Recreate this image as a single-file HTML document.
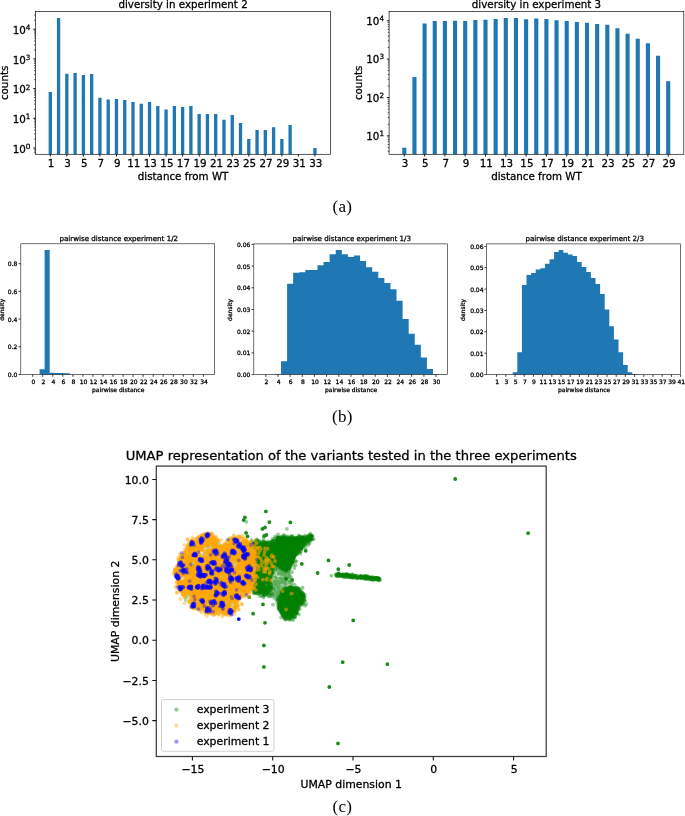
<!DOCTYPE html>
<html lang="en"><head><meta charset="utf-8"><title>Figure</title>
<style>html,body{margin:0;padding:0;background:#fff}svg{display:block}</style></head>
<body>
<svg width="685" height="816" viewBox="0 0 685 816" font-family='"DejaVu Sans","Liberation Sans",sans-serif' fill="#000">
<style>text{stroke:#000;stroke-width:.28px;stroke-linejoin:round}text.sm{stroke-width:.2px}</style>
<rect width="685" height="816" fill="#fff"/>
<path d="M48.65 154.3V92.1h3.3V154.3zM56.92 154.3V18.0h3.3V154.3zM65.19 154.3V73.8h3.3V154.3zM73.46 154.3V73.0h3.3V154.3zM81.73 154.3V74.9h3.3V154.3zM90.00 154.3V74.0h3.3V154.3zM98.27 154.3V97.8h3.3V154.3zM106.54 154.3V99.5h3.3V154.3zM114.81 154.3V98.9h3.3V154.3zM123.08 154.3V100.1h3.3V154.3zM131.35 154.3V102.1h3.3V154.3zM139.62 154.3V103.7h3.3V154.3zM147.89 154.3V102.1h3.3V154.3zM156.16 154.3V106.0h3.3V154.3zM164.43 154.3V109.4h3.3V154.3zM172.70 154.3V106.0h3.3V154.3zM180.97 154.3V107.0h3.3V154.3zM189.24 154.3V106.0h3.3V154.3zM197.51 154.3V114.0h3.3V154.3zM205.78 154.3V114.0h3.3V154.3zM214.05 154.3V114.0h3.3V154.3zM222.32 154.3V119.7h3.3V154.3zM230.59 154.3V114.9h3.3V154.3zM238.86 154.3V122.9h3.3V154.3zM247.13 154.3V139.1h3.3V154.3zM255.40 154.3V130.1h3.3V154.3zM263.67 154.3V130.1h3.3V154.3zM271.94 154.3V127.2h3.3V154.3zM280.21 154.3V139.1h3.3V154.3zM288.48 154.3V124.9h3.3V154.3zM313.29 154.3V148.0h3.3V154.3z" fill="#1f77b4"/>
<rect x="35.5" y="11.4" width="295.1" height="142.9" fill="none" stroke="#111" stroke-width="0.7"/>
<path d="M50.3 154.3v2.2M66.8 154.3v2.2M83.4 154.3v2.2M99.9 154.3v2.2M116.5 154.3v2.2M133 154.3v2.2M149.5 154.3v2.2M166.1 154.3v2.2M182.6 154.3v2.2M199.2 154.3v2.2M215.7 154.3v2.2M232.2 154.3v2.2M248.8 154.3v2.2M265.3 154.3v2.2M281.9 154.3v2.2M298.4 154.3v2.2M314.9 154.3v2.2" stroke="#111" stroke-width="1.0" fill="none"/>
<path d="M35.5 148h-2.2M35.5 118.3h-2.2M35.5 88.6h-2.2M35.5 58.9h-2.2M35.5 29.2h-2.2" stroke="#111" stroke-width="1.0" fill="none"/>
<path d="M35.5 152.6h-1.3M35.5 150.9h-1.3M35.5 149.4h-1.3M35.5 139.1h-1.3M35.5 133.8h-1.3M35.5 130.1h-1.3M35.5 127.2h-1.3M35.5 124.9h-1.3M35.5 122.9h-1.3M35.5 121.2h-1.3M35.5 119.7h-1.3M35.5 109.4h-1.3M35.5 104.1h-1.3M35.5 100.4h-1.3M35.5 97.5h-1.3M35.5 95.2h-1.3M35.5 93.2h-1.3M35.5 91.5h-1.3M35.5 90h-1.3M35.5 79.7h-1.3M35.5 74.4h-1.3M35.5 70.7h-1.3M35.5 67.8h-1.3M35.5 65.5h-1.3M35.5 63.5h-1.3M35.5 61.8h-1.3M35.5 60.3h-1.3M35.5 50h-1.3M35.5 44.7h-1.3M35.5 41h-1.3M35.5 38.1h-1.3M35.5 35.8h-1.3M35.5 33.8h-1.3M35.5 32.1h-1.3M35.5 30.6h-1.3M35.5 20.3h-1.3M35.5 15h-1.3" stroke="#111" stroke-width="0.8" fill="none"/>
<text x="51.1" y="167" font-size="10.3" text-anchor="middle">1</text>
<text x="67.6" y="167" font-size="10.3" text-anchor="middle">3</text>
<text x="84.2" y="167" font-size="10.3" text-anchor="middle">5</text>
<text x="100.7" y="167" font-size="10.3" text-anchor="middle">7</text>
<text x="117.3" y="167" font-size="10.3" text-anchor="middle">9</text>
<text x="133.8" y="167" font-size="10.3" text-anchor="middle">11</text>
<text x="150.3" y="167" font-size="10.3" text-anchor="middle">13</text>
<text x="166.9" y="167" font-size="10.3" text-anchor="middle">15</text>
<text x="183.4" y="167" font-size="10.3" text-anchor="middle">17</text>
<text x="200" y="167" font-size="10.3" text-anchor="middle">19</text>
<text x="216.5" y="167" font-size="10.3" text-anchor="middle">21</text>
<text x="233" y="167" font-size="10.3" text-anchor="middle">23</text>
<text x="249.6" y="167" font-size="10.3" text-anchor="middle">25</text>
<text x="266.1" y="167" font-size="10.3" text-anchor="middle">27</text>
<text x="282.7" y="167" font-size="10.3" text-anchor="middle">29</text>
<text x="299.2" y="167" font-size="10.3" text-anchor="middle">31</text>
<text x="315.7" y="167" font-size="10.3" text-anchor="middle">33</text>
<text x="30.4" y="152.6" font-size="10.3" text-anchor="end">10<tspan font-size="7.21" dy="-3.7">0</tspan></text>
<text x="30.4" y="122.9" font-size="10.3" text-anchor="end">10<tspan font-size="7.21" dy="-3.7">1</tspan></text>
<text x="30.4" y="93.2" font-size="10.3" text-anchor="end">10<tspan font-size="7.21" dy="-3.7">2</tspan></text>
<text x="30.4" y="63.5" font-size="10.3" text-anchor="end">10<tspan font-size="7.21" dy="-3.7">3</tspan></text>
<text x="30.4" y="33.8" font-size="10.3" text-anchor="end">10<tspan font-size="7.21" dy="-3.7">4</tspan></text>
<text x="183.1" y="7.7" font-size="10.3" text-anchor="middle">diversity in experiment 2</text>
<text x="183.1" y="180" font-size="10.3" text-anchor="middle">distance from WT</text>
<text transform="translate(8.1 82.9) rotate(-90)" font-size="10.3" text-anchor="middle">counts</text>
<path d="M402.25 154.3V147.8h4.1V154.3zM412.40 154.3V77.1h4.1V154.3zM422.55 154.3V23.6h4.1V154.3zM432.70 154.3V21.1h4.1V154.3zM442.85 154.3V21.1h4.1V154.3zM453.00 154.3V20.7h4.1V154.3zM463.15 154.3V21.1h4.1V154.3zM473.30 154.3V20.0h4.1V154.3zM483.45 154.3V19.8h4.1V154.3zM493.60 154.3V19.0h4.1V154.3zM503.75 154.3V17.9h4.1V154.3zM513.90 154.3V18.1h4.1V154.3zM524.05 154.3V19.2h4.1V154.3zM534.20 154.3V18.6h4.1V154.3zM544.35 154.3V19.0h4.1V154.3zM554.50 154.3V20.2h4.1V154.3zM564.65 154.3V20.9h4.1V154.3zM574.80 154.3V21.9h4.1V154.3zM584.95 154.3V22.8h4.1V154.3zM595.10 154.3V23.9h4.1V154.3zM605.25 154.3V24.7h4.1V154.3zM615.40 154.3V28.3h4.1V154.3zM625.55 154.3V33.8h4.1V154.3zM635.70 154.3V38.7h4.1V154.3zM645.85 154.3V43.3h4.1V154.3zM656.00 154.3V55.8h4.1V154.3zM666.15 154.3V81.3h4.1V154.3z" fill="#1f77b4"/>
<rect x="389.1" y="11.4" width="294.7" height="142.9" fill="none" stroke="#111" stroke-width="0.7"/>
<path d="M404.3 154.3v2.2M424.6 154.3v2.2M444.9 154.3v2.2M465.2 154.3v2.2M485.5 154.3v2.2M505.8 154.3v2.2M526.1 154.3v2.2M546.4 154.3v2.2M566.7 154.3v2.2M587 154.3v2.2M607.3 154.3v2.2M627.6 154.3v2.2M647.9 154.3v2.2M668.2 154.3v2.2" stroke="#111" stroke-width="1.0" fill="none"/>
<path d="M389.1 20.8h-2.2M389.1 59.1h-2.2M389.1 97.5h-2.2M389.1 135.9h-2.2" stroke="#111" stroke-width="1.0" fill="none"/>
<path d="M389.1 151.2h-1.3M389.1 147.5h-1.3M389.1 144.5h-1.3M389.1 141.9h-1.3M389.1 139.7h-1.3M389.1 137.7h-1.3M389.1 124.4h-1.3M389.1 117.6h-1.3M389.1 112.8h-1.3M389.1 109.1h-1.3M389.1 106.1h-1.3M389.1 103.5h-1.3M389.1 101.3h-1.3M389.1 99.3h-1.3M389.1 86h-1.3M389.1 79.2h-1.3M389.1 74.4h-1.3M389.1 70.7h-1.3M389.1 67.7h-1.3M389.1 65.1h-1.3M389.1 62.9h-1.3M389.1 60.9h-1.3M389.1 47.6h-1.3M389.1 40.8h-1.3M389.1 36h-1.3M389.1 32.3h-1.3M389.1 29.3h-1.3M389.1 26.7h-1.3M389.1 24.5h-1.3M389.1 22.5h-1.3" stroke="#111" stroke-width="0.8" fill="none"/>
<text x="405.1" y="167" font-size="10.3" text-anchor="middle">3</text>
<text x="425.4" y="167" font-size="10.3" text-anchor="middle">5</text>
<text x="445.7" y="167" font-size="10.3" text-anchor="middle">7</text>
<text x="466" y="167" font-size="10.3" text-anchor="middle">9</text>
<text x="486.3" y="167" font-size="10.3" text-anchor="middle">11</text>
<text x="506.6" y="167" font-size="10.3" text-anchor="middle">13</text>
<text x="526.9" y="167" font-size="10.3" text-anchor="middle">15</text>
<text x="547.2" y="167" font-size="10.3" text-anchor="middle">17</text>
<text x="567.5" y="167" font-size="10.3" text-anchor="middle">19</text>
<text x="587.8" y="167" font-size="10.3" text-anchor="middle">21</text>
<text x="608.1" y="167" font-size="10.3" text-anchor="middle">23</text>
<text x="628.4" y="167" font-size="10.3" text-anchor="middle">25</text>
<text x="648.7" y="167" font-size="10.3" text-anchor="middle">27</text>
<text x="669" y="167" font-size="10.3" text-anchor="middle">29</text>
<text x="384.0" y="24.8" font-size="10.3" text-anchor="end">10<tspan font-size="7.21" dy="-3.7">4</tspan></text>
<text x="384.0" y="63.1" font-size="10.3" text-anchor="end">10<tspan font-size="7.21" dy="-3.7">3</tspan></text>
<text x="384.0" y="101.5" font-size="10.3" text-anchor="end">10<tspan font-size="7.21" dy="-3.7">2</tspan></text>
<text x="384.0" y="139.9" font-size="10.3" text-anchor="end">10<tspan font-size="7.21" dy="-3.7">1</tspan></text>
<text x="536.5" y="7.7" font-size="10.3" text-anchor="middle">diversity in experiment 3</text>
<text x="536.5" y="180" font-size="10.3" text-anchor="middle">distance from WT</text>
<text transform="translate(362.0 82.9) rotate(-90)" font-size="10.3" text-anchor="middle">counts</text>
<text x="342.4" y="211.6" font-size="17" letter-spacing="0.3" text-anchor="middle" stroke="none" style="stroke:none" font-family='"Liberation Serif","DejaVu Serif",serif'>(a)</text>
<text x="342.4" y="422.3" font-size="17" letter-spacing="0.3" text-anchor="middle" stroke="none" style="stroke:none" font-family='"Liberation Serif","DejaVu Serif",serif'>(b)</text>
<text x="342.4" y="811.5" font-size="17" letter-spacing="0.3" text-anchor="middle" stroke="none" style="stroke:none" font-family='"Liberation Serif","DejaVu Serif",serif'>(c)</text>
<path d="M39.60 374.5v-5.3H44.67V374.5zM44.62 374.5v-124.4H49.69V374.5zM49.64 374.5v-1.7H54.71V374.5zM54.66 374.5v-1.6H59.73V374.5zM59.68 374.5v-1.4H64.75V374.5zM64.70 374.5v-1.2H69.77V374.5z" fill="#1f77b4"/>
<rect x="20.8" y="243.8" width="193.9" height="130.7" fill="none" stroke="#111" stroke-width="0.6"/>
<path d="M32.7 374.5v2.3M42.7 374.5v2.3M52.8 374.5v2.3M62.8 374.5v2.3M72.9 374.5v2.3M82.9 374.5v2.3M92.9 374.5v2.3M103 374.5v2.3M113 374.5v2.3M123.1 374.5v2.3M133.1 374.5v2.3M143.1 374.5v2.3M153.2 374.5v2.3M163.2 374.5v2.3M173.3 374.5v2.3M183.3 374.5v2.3M193.3 374.5v2.3M203.4 374.5v2.3" stroke="#111" stroke-width="0.8" fill="none"/>
<path d="M20.8 374.5h-2.3M20.8 346.8h-2.3M20.8 319.1h-2.3M20.8 291.4h-2.3M20.8 263.7h-2.3" stroke="#111" stroke-width="0.8" fill="none"/>
<text x="33.3" y="383.7" font-size="6.0" text-anchor="middle">0</text>
<text x="43.3" y="383.7" font-size="6.0" text-anchor="middle">2</text>
<text x="53.4" y="383.7" font-size="6.0" text-anchor="middle">4</text>
<text x="63.4" y="383.7" font-size="6.0" text-anchor="middle">6</text>
<text x="73.5" y="383.7" font-size="6.0" text-anchor="middle">8</text>
<text x="83.5" y="383.7" font-size="6.0" text-anchor="middle">10</text>
<text x="93.5" y="383.7" font-size="6.0" text-anchor="middle">12</text>
<text x="103.6" y="383.7" font-size="6.0" text-anchor="middle">14</text>
<text x="113.6" y="383.7" font-size="6.0" text-anchor="middle">16</text>
<text x="123.7" y="383.7" font-size="6.0" text-anchor="middle">18</text>
<text x="133.7" y="383.7" font-size="6.0" text-anchor="middle">20</text>
<text x="143.7" y="383.7" font-size="6.0" text-anchor="middle">22</text>
<text x="153.8" y="383.7" font-size="6.0" text-anchor="middle">24</text>
<text x="163.8" y="383.7" font-size="6.0" text-anchor="middle">26</text>
<text x="173.9" y="383.7" font-size="6.0" text-anchor="middle">28</text>
<text x="183.9" y="383.7" font-size="6.0" text-anchor="middle">30</text>
<text x="193.9" y="383.7" font-size="6.0" text-anchor="middle">32</text>
<text x="204" y="383.7" font-size="6.0" text-anchor="middle">34</text>
<text x="17.4" y="377" font-size="6.0" text-anchor="end">0.0</text>
<text x="17.4" y="349.3" font-size="6.0" text-anchor="end">0.2</text>
<text x="17.4" y="321.6" font-size="6.0" text-anchor="end">0.4</text>
<text x="17.4" y="293.9" font-size="6.0" text-anchor="end">0.6</text>
<text x="17.4" y="266.2" font-size="6.0" text-anchor="end">0.8</text>
<text x="118.8" y="241.3" font-size="7.1" text-anchor="middle">pairwise distance experiment 1/2</text>
<text x="118.2" y="391.5" font-size="6.0" text-anchor="middle">pairwise distance</text>
<text transform="translate(4.2 309.8) rotate(-90)" font-size="6.0" text-anchor="middle">density</text>
<path d="M274.92 374.6V374.0H281.00V361.2H287.08V283.7H293.16V272.7H299.24V272.3H305.32V270.0H311.40V270.0H317.48V265.2H323.56V262.1H329.64V254.2H335.72V250.1H341.80V254.2H347.88V256.9H353.96V255.6H360.04V261.1H366.12V267.2H372.20V271.7H378.28V277.9H384.36V283.0H390.44V289.2H396.52V300.8H402.60V319.0H408.68V333.8H414.76V344.8H420.84V357.4H426.92V369.1H433.00V374.0H439.08V374.6z" fill="#1f77b4"/>
<rect x="253.8" y="243.9" width="193.5" height="130.7" fill="none" stroke="#111" stroke-width="0.6"/>
<path d="M265.8 374.6v2.3M278 374.6v2.3M290.1 374.6v2.3M302.3 374.6v2.3M314.4 374.6v2.3M326.6 374.6v2.3M338.8 374.6v2.3M350.9 374.6v2.3M363.1 374.6v2.3M375.2 374.6v2.3M387.4 374.6v2.3M399.6 374.6v2.3M411.7 374.6v2.3M423.9 374.6v2.3M436 374.6v2.3" stroke="#111" stroke-width="0.8" fill="none"/>
<path d="M253.8 374.6h-2.3M253.8 352.9h-2.3M253.8 331.2h-2.3M253.8 309.5h-2.3M253.8 287.8h-2.3M253.8 266.1h-2.3M253.8 244.4h-2.3" stroke="#111" stroke-width="0.8" fill="none"/>
<text x="266.4" y="383.7" font-size="6.0" text-anchor="middle">2</text>
<text x="278.6" y="383.7" font-size="6.0" text-anchor="middle">4</text>
<text x="290.7" y="383.7" font-size="6.0" text-anchor="middle">6</text>
<text x="302.9" y="383.7" font-size="6.0" text-anchor="middle">8</text>
<text x="315" y="383.7" font-size="6.0" text-anchor="middle">10</text>
<text x="327.2" y="383.7" font-size="6.0" text-anchor="middle">12</text>
<text x="339.4" y="383.7" font-size="6.0" text-anchor="middle">14</text>
<text x="351.5" y="383.7" font-size="6.0" text-anchor="middle">16</text>
<text x="363.7" y="383.7" font-size="6.0" text-anchor="middle">18</text>
<text x="375.8" y="383.7" font-size="6.0" text-anchor="middle">20</text>
<text x="388" y="383.7" font-size="6.0" text-anchor="middle">22</text>
<text x="400.2" y="383.7" font-size="6.0" text-anchor="middle">24</text>
<text x="412.3" y="383.7" font-size="6.0" text-anchor="middle">26</text>
<text x="424.5" y="383.7" font-size="6.0" text-anchor="middle">28</text>
<text x="436.6" y="383.7" font-size="6.0" text-anchor="middle">30</text>
<text x="250.4" y="377.1" font-size="6.0" text-anchor="end">0.00</text>
<text x="250.4" y="355.4" font-size="6.0" text-anchor="end">0.01</text>
<text x="250.4" y="333.7" font-size="6.0" text-anchor="end">0.02</text>
<text x="250.4" y="312" font-size="6.0" text-anchor="end">0.03</text>
<text x="250.4" y="290.3" font-size="6.0" text-anchor="end">0.04</text>
<text x="250.4" y="268.6" font-size="6.0" text-anchor="end">0.05</text>
<text x="250.4" y="246.9" font-size="6.0" text-anchor="end">0.06</text>
<text x="351.7" y="241.3" font-size="7.1" text-anchor="middle">pairwise distance experiment 1/3</text>
<text x="351.1" y="391.5" font-size="6.0" text-anchor="middle">pairwise distance</text>
<text transform="translate(232.2 309.9) rotate(-90)" font-size="6.0" text-anchor="middle">density</text>
<path d="M512.70 374.6V372.2H517.30V352.3H521.90V285.1H526.50V275.1H531.10V273.1H535.70V269.6H540.30V268.3H544.90V263.8H549.50V259.3H554.10V252.1H558.70V250.1H563.30V252.8H567.90V254.6H572.50V255.9H577.10V262.1H581.70V266.9H586.30V272.0H590.90V277.9H595.50V284.0H600.10V294.0H604.70V309.4H609.30V326.2H613.90V339.6H618.50V352.3H623.10V364.9H627.70V372.2H632.30V374.0H636.90V374.3H641.50V374.6z" fill="#1f77b4"/>
<rect x="486.6" y="243.9" width="194.0" height="130.7" fill="none" stroke="#111" stroke-width="0.6"/>
<path d="M496.6 374.6v2.3M505.8 374.6v2.3M515 374.6v2.3M524.2 374.6v2.3M533.4 374.6v2.3M542.6 374.6v2.3M551.8 374.6v2.3M561 374.6v2.3M570.2 374.6v2.3M579.4 374.6v2.3M588.6 374.6v2.3M597.8 374.6v2.3M607 374.6v2.3M616.2 374.6v2.3M625.4 374.6v2.3M634.6 374.6v2.3M643.8 374.6v2.3M653 374.6v2.3M662.2 374.6v2.3M671.4 374.6v2.3M680.6 374.6v2.3" stroke="#111" stroke-width="0.8" fill="none"/>
<path d="M486.6 374.6h-2.3M486.6 353.2h-2.3M486.6 331.8h-2.3M486.6 310.5h-2.3M486.6 289.1h-2.3M486.6 267.7h-2.3M486.6 246.3h-2.3" stroke="#111" stroke-width="0.8" fill="none"/>
<text x="497.2" y="383.7" font-size="6.0" text-anchor="middle">1</text>
<text x="506.4" y="383.7" font-size="6.0" text-anchor="middle">3</text>
<text x="515.6" y="383.7" font-size="6.0" text-anchor="middle">5</text>
<text x="524.8" y="383.7" font-size="6.0" text-anchor="middle">7</text>
<text x="534" y="383.7" font-size="6.0" text-anchor="middle">9</text>
<text x="543.2" y="383.7" font-size="6.0" text-anchor="middle">11</text>
<text x="552.4" y="383.7" font-size="6.0" text-anchor="middle">13</text>
<text x="561.6" y="383.7" font-size="6.0" text-anchor="middle">15</text>
<text x="570.8" y="383.7" font-size="6.0" text-anchor="middle">17</text>
<text x="580" y="383.7" font-size="6.0" text-anchor="middle">19</text>
<text x="589.2" y="383.7" font-size="6.0" text-anchor="middle">21</text>
<text x="598.4" y="383.7" font-size="6.0" text-anchor="middle">23</text>
<text x="607.6" y="383.7" font-size="6.0" text-anchor="middle">25</text>
<text x="616.8" y="383.7" font-size="6.0" text-anchor="middle">27</text>
<text x="626" y="383.7" font-size="6.0" text-anchor="middle">29</text>
<text x="635.2" y="383.7" font-size="6.0" text-anchor="middle">31</text>
<text x="644.4" y="383.7" font-size="6.0" text-anchor="middle">33</text>
<text x="653.6" y="383.7" font-size="6.0" text-anchor="middle">35</text>
<text x="662.8" y="383.7" font-size="6.0" text-anchor="middle">37</text>
<text x="672" y="383.7" font-size="6.0" text-anchor="middle">39</text>
<text x="681.2" y="383.7" font-size="6.0" text-anchor="middle">41</text>
<text x="483.5" y="377.1" font-size="6.0" text-anchor="end">0.00</text>
<text x="483.5" y="355.7" font-size="6.0" text-anchor="end">0.01</text>
<text x="483.5" y="334.3" font-size="6.0" text-anchor="end">0.02</text>
<text x="483.5" y="313" font-size="6.0" text-anchor="end">0.03</text>
<text x="483.5" y="291.6" font-size="6.0" text-anchor="end">0.04</text>
<text x="483.5" y="270.2" font-size="6.0" text-anchor="end">0.05</text>
<text x="483.5" y="248.8" font-size="6.0" text-anchor="end">0.06</text>
<text x="584.7" y="241.3" font-size="7.1" text-anchor="middle">pairwise distance experiment 2/3</text>
<text x="584.1" y="391.5" font-size="6.0" text-anchor="middle">pairwise distance</text>
<text transform="translate(465.2 309.9) rotate(-90)" font-size="6.0" text-anchor="middle">density</text>
<path d="M250.3 567.5h0M267.2 543.8h0M265.2 556.6h0M251.3 565.0h0M247.4 570.7h0M261.8 581.3h0M257.9 585.2h0M247.3 556.5h0M253.7 553.7h0M272.8 589.1h0M261.1 557.2h0M262.6 550.0h0M280.9 539.8h0M266.1 544.4h0M260.0 575.7h0M260.0 568.5h0M267.7 565.8h0M261.1 588.4h0M258.4 567.1h0M259.9 557.3h0M264.7 560.2h0M252.2 574.6h0M250.2 569.5h0M261.2 591.0h0M259.1 584.1h0M257.4 566.0h0M265.8 575.4h0M288.8 564.3h0M257.2 589.1h0M260.8 581.0h0M255.4 568.9h0M257.6 546.7h0M270.3 573.0h0M255.2 543.8h0M268.2 551.0h0M270.1 555.6h0M270.1 551.2h0M250.0 574.2h0M256.9 544.2h0M250.8 578.5h0M249.8 571.3h0M255.7 545.8h0M257.3 577.0h0M254.1 573.2h0M247.4 549.4h0M285.0 547.8h0M290.3 562.1h0M267.4 546.6h0M281.4 555.4h0M273.1 557.4h0M270.7 571.0h0M278.9 561.8h0M274.0 545.6h0M264.8 592.0h0M261.1 581.1h0M248.1 559.6h0M264.9 567.8h0M278.5 549.7h0M254.1 555.0h0M260.1 569.2h0M264.8 581.9h0M277.4 543.3h0M262.9 585.3h0M254.7 593.1h0M250.9 566.3h0M264.6 567.0h0M252.9 570.1h0M280.9 568.6h0M260.0 580.6h0M255.0 588.8h0M269.8 549.5h0M251.2 571.8h0M250.0 557.2h0M250.6 560.0h0M272.2 556.9h0M259.1 571.5h0M274.3 562.6h0M256.8 551.1h0M250.0 574.8h0M288.4 555.9h0M287.6 550.3h0M273.4 557.2h0M257.2 545.0h0M286.3 541.5h0M273.6 545.3h0M266.2 568.4h0M257.3 561.4h0M246.2 556.6h0M251.7 560.8h0M263.9 578.4h0M249.2 570.5h0M266.3 577.6h0M269.3 544.2h0M280.1 562.8h0M268.0 591.1h0M254.2 587.7h0M263.8 562.3h0M274.0 548.8h0M272.2 541.5h0M285.0 546.3h0M263.4 564.5h0M253.3 585.9h0M254.9 557.5h0M247.4 553.1h0M251.0 545.3h0M259.4 578.0h0M260.5 543.9h0M290.2 547.9h0M248.4 579.7h0M263.7 579.3h0M255.0 590.7h0M267.7 568.8h0M255.6 576.3h0M251.2 559.5h0M287.1 552.6h0M275.3 559.1h0M268.9 567.4h0M268.1 568.4h0M256.2 572.2h0M251.3 573.9h0M258.8 545.4h0M257.2 548.6h0M285.8 552.9h0M275.3 558.0h0M264.2 556.3h0M288.3 544.1h0M266.9 574.3h0M286.2 549.2h0M282.7 541.5h0M292.4 551.2h0M271.1 544.3h0M263.5 567.7h0M252.9 560.5h0M258.2 560.1h0M277.8 543.8h0M267.8 551.0h0M254.9 579.2h0M278.9 557.4h0M257.5 543.1h0M263.6 575.8h0M256.3 581.0h0M268.7 550.1h0M265.0 548.5h0M263.6 564.7h0M287.2 539.4h0M250.1 571.9h0M277.8 565.9h0M257.5 558.1h0M254.5 565.7h0M267.8 592.8h0M259.7 568.1h0M288.7 552.2h0M251.9 561.1h0M265.6 578.5h0M258.6 567.6h0M285.0 557.6h0M252.6 578.5h0M267.4 592.8h0M269.9 582.4h0M268.1 564.3h0M289.3 554.4h0M261.4 582.7h0M274.7 558.8h0M257.4 587.6h0M268.1 545.4h0M267.2 556.9h0M280.7 543.0h0M278.0 553.6h0M261.5 546.4h0M283.8 556.8h0M274.7 565.5h0M259.4 572.5h0M254.6 575.2h0M273.5 553.9h0M265.2 546.9h0M267.3 591.0h0M257.9 561.6h0M267.5 591.3h0M291.4 553.3h0M271.4 587.6h0M262.3 580.7h0M250.4 567.1h0M271.8 553.4h0M258.3 586.8h0M265.1 553.0h0M265.7 553.9h0M250.1 566.1h0M260.0 557.9h0M273.1 548.9h0M269.7 572.7h0M257.6 559.1h0M279.0 564.5h0M252.4 556.6h0M288.3 563.7h0M249.9 567.2h0M269.2 575.3h0M263.6 584.1h0M255.3 550.1h0M252.6 584.8h0M266.8 565.4h0M250.2 574.7h0M248.6 554.3h0M270.4 548.9h0M279.9 552.5h0M271.6 572.8h0M281.2 565.7h0M261.5 552.0h0M289.8 562.2h0M277.5 557.0h0M260.4 555.7h0M284.2 540.6h0M262.7 551.6h0M279.4 541.4h0M268.1 552.3h0M277.9 549.5h0M276.4 558.4h0M265.3 562.7h0M268.6 556.9h0M254.0 584.6h0M283.6 544.1h0M260.5 586.4h0M290.2 548.4h0M277.5 553.0h0M266.3 576.8h0M259.9 576.3h0M259.6 585.6h0M284.6 546.2h0M285.6 563.1h0M282.1 551.2h0M260.1 584.7h0M252.6 554.7h0M261.6 588.9h0M259.0 582.5h0M268.8 565.6h0M255.7 590.9h0M249.7 569.7h0M269.3 570.1h0M253.8 547.5h0M256.6 591.6h0M281.2 562.7h0M258.0 554.7h0M252.3 577.9h0M285.7 549.9h0M267.5 551.7h0M259.7 564.6h0M250.3 580.2h0M269.1 594.2h0M255.0 555.9h0M283.3 548.2h0M265.5 574.3h0M248.0 563.6h0M276.2 547.5h0M285.2 546.1h0M263.5 581.3h0M290.2 553.2h0M255.3 563.6h0M250.5 560.8h0M248.5 568.5h0M276.5 557.4h0M281.8 544.2h0M289.9 539.7h0M287.2 560.0h0M252.3 555.1h0M256.3 554.5h0M281.0 568.7h0M260.0 583.8h0M263.7 569.3h0M267.9 568.5h0M263.8 572.2h0M275.0 557.4h0M267.3 580.1h0M263.9 585.2h0M265.9 580.4h0M269.9 551.7h0M256.0 582.9h0M267.2 589.9h0M261.6 550.7h0M284.3 541.8h0M276.0 544.7h0M284.7 560.4h0M290.1 548.9h0M288.5 557.8h0M294.9 551.8h0M303.6 539.3h0M297.9 550.1h0M285.9 547.0h0M291.0 549.9h0M286.2 569.1h0M302.4 542.4h0M296.7 538.3h0M279.9 550.1h0M285.6 564.4h0M291.5 537.9h0M303.5 540.7h0M300.7 541.4h0M301.0 538.1h0M291.5 561.0h0M288.7 554.2h0M289.0 548.4h0M288.1 548.4h0M290.4 542.3h0M286.3 549.1h0M293.2 553.6h0M285.8 549.1h0M300.5 543.4h0M282.3 563.9h0M288.1 550.5h0M303.1 545.2h0M302.1 542.4h0M300.3 544.4h0M299.7 545.6h0M289.1 538.2h0M288.6 545.6h0M282.5 540.7h0M296.5 552.6h0M297.8 539.5h0M305.7 538.9h0M286.9 546.0h0M300.2 538.0h0M309.1 540.9h0M288.0 544.4h0M294.3 556.6h0M278.2 543.2h0M293.3 541.4h0M302.3 541.3h0M278.4 554.0h0M289.3 545.6h0M277.0 541.8h0M300.8 543.3h0M300.9 541.7h0M283.2 536.0h0M291.3 540.4h0M281.0 559.3h0M293.5 552.3h0M283.4 556.7h0M287.6 543.5h0M287.2 554.0h0M295.5 547.7h0M294.7 553.6h0M284.2 560.7h0M292.1 542.4h0M289.6 539.6h0M294.8 552.3h0M296.5 551.1h0M286.9 540.2h0M283.5 554.2h0M279.7 556.7h0M279.1 555.9h0M284.3 553.7h0M291.7 537.7h0M293.9 555.6h0M305.0 539.3h0M290.9 558.1h0M287.8 547.6h0M291.9 562.2h0M300.4 544.7h0M285.3 562.1h0M284.9 544.5h0M293.8 552.4h0M285.5 543.2h0M307.3 538.1h0M291.3 552.3h0M296.4 538.5h0M285.2 537.8h0M289.1 562.0h0M305.7 536.7h0M292.9 557.4h0M282.0 557.5h0M283.2 551.1h0M298.3 552.6h0M296.9 550.7h0M293.3 552.7h0M280.0 554.5h0M287.4 560.5h0M277.4 555.5h0M285.6 557.1h0M282.3 559.2h0M292.3 538.4h0M286.4 542.3h0M290.8 552.3h0M297.0 554.4h0M278.8 539.2h0M310.6 539.8h0M283.7 561.0h0M291.1 550.4h0M289.8 562.0h0M280.3 543.7h0M298.6 539.0h0M278.3 538.9h0M288.4 543.2h0M290.1 538.4h0M296.9 547.8h0M291.3 544.5h0M288.2 545.7h0M280.5 542.0h0M279.1 549.3h0M299.6 546.7h0M303.6 542.4h0M288.4 559.3h0M287.3 617.9h0M278.5 606.8h0M292.7 597.9h0M293.8 588.7h0M286.3 605.6h0M292.3 590.1h0M281.7 605.3h0M292.1 607.1h0M290.2 606.3h0M286.0 608.3h0M282.5 601.7h0M293.6 599.0h0M298.0 605.7h0M298.8 596.4h0M287.4 609.7h0M294.3 600.8h0M283.8 591.2h0M292.7 606.3h0M291.3 610.1h0M289.3 603.8h0M289.2 613.6h0M297.5 603.9h0M285.9 590.9h0M285.0 605.8h0M290.1 606.8h0M282.0 593.3h0M295.0 607.9h0M283.0 607.6h0M299.0 602.3h0M286.9 608.0h0M299.4 599.2h0M302.0 598.3h0M287.7 604.7h0M285.6 593.6h0M283.8 603.6h0M297.8 605.5h0M282.8 607.3h0M286.7 607.4h0M301.1 600.3h0M289.2 591.8h0M289.4 601.4h0M289.5 614.3h0M286.2 598.2h0M285.2 614.8h0M290.4 605.3h0M292.3 593.9h0M294.0 590.2h0M280.0 608.1h0M286.7 601.0h0M285.4 592.1h0M297.0 613.1h0M294.7 609.1h0M299.4 589.5h0M290.1 597.1h0M289.3 603.2h0M299.2 603.5h0M299.7 601.1h0M292.6 612.0h0M292.7 613.1h0M289.8 600.7h0M288.4 599.3h0M297.6 587.7h0M289.4 610.0h0M297.7 607.4h0M294.6 601.6h0M296.3 589.1h0M291.2 589.5h0M285.8 600.6h0M285.2 608.6h0M290.0 599.6h0M290.1 593.4h0M293.6 609.9h0M283.4 605.6h0M291.5 607.7h0M285.5 616.3h0M297.4 598.2h0M286.1 592.2h0M292.3 596.3h0M291.0 598.7h0M281.2 610.7h0M302.8 597.8h0M291.3 590.4h0M294.0 617.7h0M284.2 606.2h0M282.4 608.1h0M296.9 595.3h0M298.4 596.6h0M295.6 602.5h0M291.3 600.1h0M283.0 609.8h0M290.2 599.3h0M288.7 614.3h0M299.9 601.1h0M283.7 605.0h0M288.9 589.6h0M291.3 589.2h0M286.8 609.9h0M287.2 595.1h0M288.4 600.4h0M288.0 598.9h0M294.7 608.5h0M286.0 593.9h0M292.0 598.6h0M300.6 589.8h0M293.0 600.6h0M284.1 607.4h0M290.3 615.0h0M294.4 602.9h0M293.7 598.4h0M289.2 616.8h0M288.9 613.8h0M294.5 605.1h0M287.3 600.6h0M303.1 603.7h0M287.4 607.2h0M282.2 602.5h0M292.2 615.6h0M299.5 595.4h0M297.7 605.4h0M291.4 613.7h0M286.6 604.1h0M283.9 599.6h0M290.7 594.0h0M279.5 608.5h0M291.2 596.6h0M280.9 607.8h0M297.0 605.0h0M290.7 601.7h0M288.9 612.4h0M283.5 597.4h0M287.2 614.2h0M294.4 609.7h0M299.3 603.9h0M284.1 594.1h0M287.6 603.6h0M293.4 608.7h0M291.8 612.8h0M296.1 590.8h0M284.7 603.1h0M293.6 607.4h0M285.9 600.4h0M290.2 590.5h0M291.2 598.0h0M285.2 610.5h0M287.0 600.1h0M285.0 604.4h0M301.8 603.1h0M297.0 602.7h0M292.0 596.1h0M284.4 599.3h0M291.1 607.3h0M298.8 597.0h0M287.7 596.1h0M288.2 589.3h0M288.0 612.6h0M289.8 600.0h0M286.4 608.2h0M281.0 605.1h0M297.5 593.2h0M296.9 600.9h0M293.6 607.3h0M299.1 592.7h0M369.4 578.2h0M378.1 578.9h0M350.7 575.6h0M361.1 576.2h0M376.2 578.9h0M361.4 577.1h0M345.4 574.4h0M356.7 577.2h0M359.4 577.5h0M359.3 576.5h0M378.2 579.9h0M344.9 574.6h0M349.2 575.4h0M361.6 577.0h0M376.9 579.5h0M343.5 573.8h0M352.3 576.4h0M369.3 578.3h0M367.1 577.6h0M378.3 580.0h0M378.8 578.7h0M344.1 575.8h0M348.0 575.7h0M362.9 577.2h0M365.3 576.6h0M337.6 574.1h0M379.6 578.8h0M335.9 574.6h0M344.7 576.9h0M362.1 576.5h0M360.2 577.3h0M362.8 577.8h0M366.2 576.3h0M366.4 578.2h0M366.3 576.6h0M373.1 577.2h0M342.4 575.0h0" stroke="#008000" stroke-opacity="0.4" stroke-width="3.8" stroke-linecap="round" fill="none"/>
<path d="M264.4 542.9h0M257.1 555.4h0M253.2 586.2h0M258.7 578.4h0M268.4 591.2h0M284.1 563.3h0M277.6 558.2h0M264.5 578.9h0M278.0 561.4h0M258.6 578.4h0M287.7 555.6h0M252.3 550.6h0M280.4 545.3h0M249.6 569.3h0M287.4 556.1h0M257.8 589.3h0M255.8 589.6h0M251.3 565.5h0M287.2 551.9h0M247.8 559.7h0M250.3 555.8h0M274.4 545.8h0M260.0 592.1h0M281.2 543.6h0M255.4 557.9h0M256.8 547.1h0M291.0 549.2h0M258.1 582.1h0M281.3 565.3h0M281.6 566.7h0M263.9 544.6h0M266.7 561.8h0M247.1 561.7h0M251.8 579.6h0M270.5 547.9h0M287.9 569.8h0M252.3 570.9h0M257.9 546.5h0M253.4 577.8h0M286.6 543.2h0M256.5 545.5h0M260.4 580.7h0M262.5 541.8h0M264.4 581.1h0M258.4 541.0h0M289.2 560.4h0M273.1 551.1h0M269.6 578.3h0M257.9 560.0h0M259.1 582.5h0M267.8 562.8h0M276.5 556.6h0M267.1 549.1h0M264.3 580.2h0M258.2 564.7h0M269.1 559.7h0M248.7 558.0h0M253.8 550.2h0M259.5 553.4h0M290.0 559.6h0M267.1 591.7h0M285.6 560.8h0M268.4 576.7h0M253.5 573.7h0M268.3 571.6h0M287.3 567.4h0M253.2 550.5h0M261.9 543.7h0M282.7 548.1h0M286.2 561.9h0M269.6 573.0h0M258.7 559.7h0M281.6 543.1h0M264.8 549.0h0M252.0 543.7h0M286.7 562.5h0M267.5 559.3h0M262.3 568.8h0M274.2 557.7h0M273.2 560.6h0M287.8 558.9h0M270.3 554.3h0M262.3 544.0h0M257.8 552.7h0M271.4 571.6h0M262.3 584.4h0M249.9 558.3h0M257.7 589.9h0M264.7 593.9h0M278.7 543.8h0M271.8 560.3h0M268.8 565.6h0M257.5 569.6h0M262.3 573.1h0M257.4 541.1h0M267.4 543.8h0M254.3 555.0h0M257.8 591.4h0M264.3 591.9h0M271.0 573.3h0M262.0 568.2h0M259.7 587.2h0M256.1 592.4h0M282.9 552.1h0M247.2 564.6h0M264.3 580.4h0M251.3 546.7h0M270.8 558.9h0M265.9 580.0h0M280.0 549.7h0M283.7 568.3h0M257.8 552.9h0M284.7 552.9h0M256.8 550.5h0M287.9 561.3h0M258.6 566.3h0M277.5 542.9h0M253.0 544.3h0M267.9 571.9h0M245.9 558.8h0M261.3 550.7h0M269.5 586.5h0M260.7 583.7h0M251.4 554.8h0M254.1 549.4h0M272.4 553.1h0M290.7 552.2h0M271.6 556.9h0M279.6 555.2h0M259.3 551.4h0M258.3 564.1h0M259.5 590.0h0M261.6 566.2h0M282.1 546.6h0M255.0 583.2h0M257.1 566.0h0M252.7 561.6h0M254.9 588.7h0M270.5 544.6h0M264.7 552.7h0M255.9 571.9h0M280.1 559.5h0M251.7 561.0h0M257.6 563.1h0M256.6 546.7h0M258.8 577.6h0M252.1 549.1h0M270.2 583.1h0M248.6 574.3h0M265.0 572.6h0M285.7 569.2h0M253.3 588.5h0M283.2 545.7h0M256.5 554.2h0M250.9 544.5h0M272.8 562.5h0M287.7 539.8h0M259.6 584.9h0M254.5 559.6h0M256.7 569.1h0M252.1 563.1h0M266.4 594.1h0M270.1 575.9h0M280.3 561.1h0M268.4 551.2h0M278.1 548.6h0M255.4 576.6h0M261.8 561.2h0M251.8 570.5h0M256.5 570.2h0M286.4 551.7h0M268.2 551.3h0M280.7 541.6h0M278.0 563.7h0M278.3 557.5h0M253.8 554.3h0M270.8 548.8h0M270.6 566.9h0M249.8 552.6h0M263.4 583.6h0M246.7 551.0h0M254.1 580.8h0M256.8 558.1h0M263.4 575.9h0M270.3 564.4h0M273.3 567.7h0M277.7 562.5h0M277.3 540.9h0M288.1 560.2h0M255.2 581.4h0M265.2 552.9h0M261.9 550.9h0M262.2 583.3h0M286.4 569.6h0M276.5 547.2h0M282.8 541.2h0M281.5 564.7h0M280.9 552.4h0M266.6 566.6h0M251.2 565.4h0M282.5 546.6h0M259.7 568.9h0M254.7 577.7h0M247.7 566.2h0M250.4 561.5h0M257.3 560.0h0M286.8 557.6h0M271.4 545.2h0M253.9 562.9h0M290.6 546.1h0M268.1 550.5h0M263.0 550.5h0M276.2 565.5h0M264.6 579.6h0M257.5 581.9h0M266.7 546.5h0M281.4 564.6h0M268.4 583.2h0M247.0 547.8h0M270.8 587.2h0M283.5 556.0h0M281.0 543.8h0M256.1 577.8h0M281.1 539.1h0M280.2 562.5h0M249.4 570.8h0M256.2 562.5h0M259.3 585.9h0M248.5 549.1h0M262.8 543.3h0M254.0 543.3h0M254.4 555.6h0M274.8 555.8h0M284.2 555.6h0M264.9 550.2h0M249.4 581.9h0M261.2 583.3h0M259.8 564.7h0M283.9 538.4h0M258.5 569.4h0M250.7 563.6h0M247.8 565.6h0M264.8 555.1h0M272.5 551.8h0M283.5 552.7h0M290.6 547.8h0M271.2 547.8h0M280.3 545.6h0M285.4 541.2h0M285.2 544.2h0M278.8 547.7h0M282.0 561.4h0M291.4 541.4h0M288.3 558.7h0M282.3 537.9h0M285.8 546.7h0M291.6 544.8h0M310.4 533.7h0M309.7 539.6h0M280.3 539.2h0M284.5 554.2h0M288.6 567.2h0M287.5 556.9h0M290.5 559.3h0M286.6 554.4h0M295.5 552.6h0M276.0 549.5h0M283.2 552.9h0M301.3 541.4h0M296.2 544.3h0M284.3 554.1h0M305.2 540.2h0M293.8 539.9h0M289.3 540.8h0M296.2 541.9h0M290.8 558.2h0M301.5 549.2h0M287.8 570.0h0M291.5 556.4h0M284.0 568.2h0M293.0 553.9h0M285.0 565.4h0M295.0 547.2h0M284.3 550.7h0M286.7 549.8h0M288.7 565.0h0M290.7 545.0h0M290.6 544.0h0M278.3 553.7h0M283.4 549.4h0M283.6 536.8h0M283.6 548.0h0M281.8 558.9h0M290.7 545.4h0M289.6 563.4h0M282.4 550.3h0M290.1 543.2h0M292.8 540.7h0M297.5 538.6h0M287.6 551.3h0M280.6 551.4h0M293.2 538.7h0M293.8 554.4h0M279.9 555.8h0M285.0 547.0h0M280.2 566.6h0M285.4 567.6h0M295.3 541.5h0M290.0 558.2h0M280.8 543.9h0M279.1 553.1h0M300.6 542.3h0M289.8 555.1h0M288.0 543.2h0M280.9 539.7h0M305.9 540.7h0M280.6 561.1h0M281.1 546.9h0M281.9 547.5h0M297.8 540.0h0M288.3 562.2h0M292.2 545.2h0M289.3 546.9h0M279.0 552.0h0M290.8 558.7h0M282.1 554.4h0M291.6 550.4h0M295.1 539.2h0M297.9 544.0h0M282.3 538.6h0M294.4 541.8h0M283.2 556.9h0M295.2 541.5h0M292.4 552.8h0M290.0 567.0h0M292.4 558.6h0M292.7 555.7h0M289.2 548.3h0M286.0 548.5h0M282.4 541.0h0M286.3 545.2h0M296.5 545.2h0M297.7 549.0h0M287.4 541.7h0M287.5 543.2h0M286.1 554.8h0M289.8 566.0h0M284.0 556.1h0M289.2 557.8h0M286.0 553.1h0M282.7 543.0h0M294.7 556.0h0M298.9 544.0h0M299.3 538.3h0M277.6 539.4h0M295.7 540.9h0M301.8 545.3h0M287.9 538.5h0M285.4 552.3h0M280.7 546.8h0M292.2 560.1h0M286.3 538.6h0M285.9 553.5h0M281.9 556.9h0M291.3 546.3h0M292.3 549.8h0M296.7 544.4h0M291.0 545.1h0M278.7 552.4h0M279.1 551.0h0M292.1 538.9h0M282.2 553.2h0M294.8 542.5h0M288.6 556.5h0M295.5 547.2h0M292.0 541.1h0M298.3 538.1h0M283.0 551.5h0M299.0 551.1h0M303.3 537.4h0M293.0 562.5h0M292.3 540.9h0M278.6 543.5h0M289.6 556.7h0M282.6 562.7h0M284.8 557.7h0M284.3 555.2h0M284.5 539.9h0M285.7 559.9h0M285.2 539.7h0M294.7 600.2h0M292.7 603.3h0M293.6 596.4h0M293.0 595.0h0M294.8 596.0h0M289.5 613.7h0M298.2 603.0h0M291.4 607.8h0M293.4 592.5h0M283.1 615.6h0M296.4 605.4h0M287.4 592.2h0M284.0 613.1h0M291.0 607.0h0M287.2 601.5h0M285.7 589.7h0M286.0 598.8h0M287.7 600.4h0M287.4 591.2h0M284.5 612.4h0M283.4 610.4h0M296.2 612.4h0M285.1 612.1h0M303.8 594.6h0M283.6 616.1h0M289.9 611.3h0M293.0 605.3h0M293.0 610.0h0M291.6 587.5h0M301.8 593.3h0M279.9 604.1h0M279.1 609.7h0M292.8 600.1h0M284.1 604.7h0M280.4 599.8h0M293.7 609.2h0M299.7 603.5h0M294.3 603.4h0M282.0 604.2h0M304.7 600.0h0M299.0 594.9h0M294.8 602.2h0M290.7 604.3h0M293.3 614.0h0M293.4 600.7h0M297.3 595.4h0M303.1 598.7h0M281.7 592.8h0M290.5 596.0h0M294.8 591.3h0M287.4 603.6h0M302.6 601.5h0M294.0 591.6h0M299.7 608.9h0M283.6 590.0h0M288.7 615.6h0M293.7 612.8h0M282.4 605.4h0M296.0 596.7h0M294.3 605.0h0M290.7 606.4h0M294.1 615.8h0M291.7 593.9h0M293.6 615.0h0M290.9 610.1h0M284.6 602.3h0M290.4 608.1h0M296.7 606.7h0M283.7 600.2h0M288.8 588.6h0M282.2 612.0h0M289.9 599.9h0M283.7 602.9h0M284.4 601.2h0M282.9 605.8h0M280.8 596.2h0M288.2 602.4h0M304.7 598.1h0M294.6 598.8h0M296.7 602.1h0M293.4 606.8h0M299.5 594.1h0M287.1 606.9h0M293.0 604.8h0M289.2 602.1h0M285.0 596.2h0M292.6 603.9h0M297.5 602.5h0M285.4 599.3h0M283.3 598.3h0M287.1 609.3h0M286.2 613.8h0M281.3 592.0h0M293.9 611.6h0M284.7 593.6h0M298.3 595.3h0M297.7 600.4h0M297.5 606.5h0M284.0 605.8h0M281.9 597.7h0M292.6 608.5h0M294.3 607.0h0M282.2 607.3h0M286.6 595.7h0M293.0 597.9h0M286.0 604.9h0M285.9 592.3h0M303.4 599.9h0M295.4 590.1h0M283.1 597.1h0M301.4 601.3h0M281.1 597.3h0M290.0 610.7h0M284.1 605.0h0M292.6 602.2h0M288.6 596.4h0M296.7 607.6h0M280.5 606.4h0M285.0 611.5h0M287.8 600.8h0M288.7 597.2h0M294.4 613.2h0M297.0 593.8h0M292.3 605.0h0M292.0 592.2h0M281.7 594.8h0M289.5 607.6h0M292.3 613.5h0M287.8 606.6h0M296.5 602.0h0M286.9 608.8h0M292.9 607.9h0M286.2 600.2h0M286.2 605.4h0M285.3 609.4h0M296.4 613.4h0M285.3 595.5h0M289.1 593.8h0M282.4 596.6h0M291.8 595.7h0M292.1 606.5h0M285.4 588.9h0M285.9 599.2h0M290.5 611.4h0M294.0 599.7h0M291.5 607.9h0M285.4 601.8h0M289.2 604.0h0M298.2 596.9h0M285.0 614.5h0M294.5 600.3h0M281.1 607.8h0M296.2 598.5h0M290.2 598.5h0M297.8 603.0h0M291.0 604.9h0M293.1 616.6h0M289.3 616.1h0M283.6 617.5h0M292.4 601.9h0M296.1 600.0h0M289.7 593.8h0M302.1 594.0h0M293.6 591.7h0M290.1 607.5h0M287.3 599.7h0M295.7 613.8h0M295.1 616.5h0M284.0 592.0h0M288.5 612.0h0M294.8 611.1h0M286.8 595.5h0M303.2 598.8h0M293.1 611.3h0M293.4 600.7h0M292.4 598.1h0M290.2 602.9h0M285.7 600.5h0M280.3 602.8h0M294.8 591.3h0M368.2 578.0h0M352.0 575.3h0M369.9 578.3h0M372.7 577.7h0M359.9 577.6h0M349.9 576.2h0M369.7 577.4h0M340.7 575.7h0M348.0 575.7h0M364.7 577.2h0M341.3 575.9h0M372.0 579.0h0M347.4 574.2h0M376.2 578.0h0M371.6 578.0h0M379.5 579.5h0M366.0 576.3h0M341.5 575.0h0M369.2 577.6h0M373.9 578.6h0M340.3 575.4h0M343.2 576.7h0M346.8 575.8h0" stroke="#008000" stroke-opacity="0.4" stroke-width="3.8" stroke-linecap="round" fill="none"/>
<path d="M260.6 566.5h0M261.5 573.5h0M262.5 564.9h0M246.4 561.7h0M252.4 565.4h0M282.4 552.1h0M268.9 553.4h0M275.2 561.9h0M266.8 543.0h0M262.2 544.7h0M284.2 543.8h0M250.7 560.0h0M263.6 580.6h0M255.5 556.6h0M261.1 555.3h0M260.3 574.7h0M277.9 555.0h0M251.0 562.7h0M275.4 551.9h0M266.8 573.4h0M278.0 540.7h0M257.6 578.0h0M288.3 544.0h0M262.7 580.7h0M259.3 593.4h0M256.1 562.8h0M254.8 560.8h0M255.1 569.8h0M262.1 571.9h0M282.7 554.7h0M262.8 574.5h0M261.5 555.3h0M267.4 572.8h0M261.0 569.3h0M267.2 551.0h0M260.4 572.4h0M260.5 583.2h0M270.6 588.0h0M247.4 562.8h0M254.9 563.5h0M261.8 561.2h0M263.0 590.5h0M252.4 580.8h0M258.3 557.7h0M286.3 539.1h0M253.5 575.6h0M290.7 557.9h0M262.7 592.0h0M262.5 546.1h0M256.6 563.5h0M258.5 552.9h0M285.3 548.7h0M286.9 567.5h0M266.5 574.3h0M269.7 580.6h0M274.4 565.5h0M249.1 556.5h0M270.3 547.8h0M259.6 558.6h0M252.1 559.6h0M263.8 587.3h0M281.7 557.2h0M266.2 548.4h0M267.1 572.0h0M279.8 564.9h0M257.7 564.4h0M251.3 554.3h0M266.6 570.7h0M281.7 566.7h0M247.3 558.0h0M289.9 556.6h0M252.8 552.5h0M287.9 548.1h0M261.9 566.8h0M272.4 563.6h0M287.1 560.6h0M256.6 555.7h0M271.3 585.7h0M270.7 576.8h0M275.0 564.6h0M269.5 578.7h0M283.5 560.8h0M257.0 593.3h0M249.5 566.8h0M248.2 550.3h0M271.7 552.4h0M260.9 574.1h0M254.2 558.5h0M255.7 559.3h0M254.1 561.6h0M251.9 547.6h0M247.5 550.0h0M284.9 541.7h0M285.5 558.3h0M260.6 546.9h0M279.3 541.2h0M290.7 544.8h0M268.2 578.0h0M258.6 559.5h0M281.7 556.7h0M267.8 575.3h0M276.7 551.1h0M287.5 565.4h0M256.6 557.2h0M268.9 566.3h0M253.4 586.0h0M261.3 566.5h0M257.3 587.5h0M275.4 556.0h0M260.6 592.3h0M276.5 548.3h0M270.4 562.6h0M276.2 561.9h0M286.2 558.4h0M275.7 556.3h0M262.3 567.9h0M279.0 551.3h0M272.4 571.9h0M272.9 558.8h0M278.7 562.0h0M252.7 580.8h0M251.2 546.3h0M257.0 577.3h0M266.5 588.0h0M261.5 563.5h0M250.4 553.5h0M279.3 556.6h0M268.5 557.1h0M263.6 578.7h0M254.5 577.6h0M277.3 561.4h0M291.6 553.2h0M278.5 544.0h0M268.0 582.5h0M252.8 561.4h0M268.7 566.9h0M255.8 545.3h0M252.7 560.1h0M252.4 559.6h0M277.5 540.9h0M260.6 579.9h0M257.6 571.6h0M249.0 575.8h0M246.8 550.1h0M252.2 546.5h0M259.6 590.9h0M275.3 546.7h0M276.8 554.2h0M286.6 565.2h0M270.4 590.1h0M250.7 563.0h0M258.0 592.1h0M261.3 558.1h0M271.9 559.5h0M265.2 574.0h0M249.6 554.1h0M282.1 552.6h0M268.6 559.4h0M258.4 549.5h0M269.4 557.4h0M271.1 585.4h0M265.0 567.4h0M282.0 547.2h0M278.7 546.7h0M260.4 555.5h0M264.2 569.0h0M265.7 571.8h0M266.1 555.3h0M268.1 572.4h0M277.4 562.4h0M256.4 572.0h0M258.5 580.5h0M270.3 555.4h0M256.9 567.5h0M249.1 566.8h0M271.2 585.0h0M264.2 594.2h0M270.7 547.3h0M261.3 592.1h0M258.9 544.9h0M250.6 575.5h0M255.6 551.7h0M266.2 552.5h0M257.2 551.4h0M279.7 541.0h0M286.2 551.7h0M261.6 551.9h0M254.4 575.2h0M276.3 545.2h0M284.8 566.4h0M273.2 549.3h0M255.9 560.2h0M251.3 562.6h0M289.5 546.7h0M255.9 540.9h0M274.4 559.5h0M279.7 564.5h0M285.9 546.2h0M266.3 592.8h0M279.5 555.9h0M275.5 551.5h0M280.7 543.6h0M281.9 557.7h0M264.4 553.0h0M272.4 573.1h0M265.6 561.8h0M254.0 563.1h0M262.4 565.2h0M284.4 567.8h0M270.3 575.4h0M281.4 542.7h0M254.3 568.9h0M261.8 573.3h0M269.3 577.9h0M286.3 548.6h0M251.2 581.8h0M257.1 592.8h0M284.5 568.7h0M279.8 564.5h0M279.5 549.7h0M272.1 543.9h0M257.3 549.1h0M286.9 561.7h0M287.7 558.4h0M248.3 552.9h0M267.5 542.5h0M261.6 568.0h0M262.5 558.5h0M258.8 573.6h0M283.9 551.9h0M255.2 590.4h0M281.2 542.1h0M287.2 563.4h0M273.0 543.9h0M260.0 546.2h0M249.5 580.0h0M261.5 565.2h0M281.4 539.8h0M269.6 564.1h0M284.5 565.3h0M302.9 542.6h0M277.6 538.2h0M287.1 540.0h0M305.1 543.4h0M304.1 540.3h0M288.3 554.6h0M296.7 542.4h0M285.7 544.0h0M298.6 544.5h0M297.9 552.5h0M299.5 542.5h0M292.6 552.4h0M284.5 563.7h0M276.6 541.4h0M288.1 559.0h0M278.8 553.2h0M284.2 553.9h0M287.2 543.7h0M296.7 540.3h0M295.3 542.4h0M289.1 539.4h0M292.2 541.8h0M294.1 556.5h0M284.9 556.3h0M294.3 553.2h0M291.2 541.4h0M290.8 549.4h0M284.8 538.3h0M286.5 563.1h0M282.1 543.9h0M292.1 561.0h0M302.4 537.4h0M279.3 541.1h0M311.2 539.2h0M290.4 550.3h0M303.5 541.6h0M295.6 538.8h0M286.6 541.4h0M288.9 559.7h0M282.5 538.7h0M285.7 540.2h0M288.4 555.5h0M279.7 542.1h0M280.8 546.7h0M285.4 546.3h0M287.0 553.4h0M286.4 553.4h0M282.8 568.7h0M278.8 542.9h0M283.7 548.2h0M301.1 546.9h0M291.3 539.1h0M283.7 544.5h0M297.7 551.5h0M309.9 536.2h0M310.3 537.8h0M289.3 557.6h0M293.6 558.5h0M285.1 541.2h0M289.0 542.4h0M289.4 555.5h0M279.5 543.9h0M286.5 570.9h0M286.8 539.6h0M279.0 555.1h0M285.5 539.9h0M296.1 543.7h0M281.0 564.6h0M296.5 551.2h0M288.3 549.2h0M292.1 544.1h0M292.1 548.0h0M287.8 567.2h0M284.5 544.8h0M290.7 560.5h0M303.8 543.8h0M285.0 552.4h0M292.2 547.7h0M292.0 547.3h0M292.7 554.9h0M290.5 551.2h0M281.4 558.1h0M285.6 569.4h0M288.0 546.6h0M289.2 552.4h0M292.3 538.1h0M306.8 541.8h0M282.9 561.2h0M289.0 546.0h0M291.8 545.3h0M287.6 561.6h0M294.4 554.6h0M277.9 556.9h0M292.6 552.1h0M286.8 568.3h0M292.4 541.8h0M285.2 557.2h0M277.8 558.9h0M310.9 540.0h0M277.2 540.1h0M289.3 548.0h0M283.0 562.5h0M280.5 557.8h0M307.0 540.7h0M279.1 546.5h0M290.9 557.1h0M286.7 546.7h0M310.7 536.2h0M293.2 551.1h0M284.9 546.0h0M297.9 543.6h0M296.0 554.6h0M291.2 543.4h0M289.3 547.2h0M300.2 547.6h0M308.0 535.6h0M292.9 542.1h0M284.8 541.6h0M295.4 546.2h0M277.6 552.5h0M295.7 554.4h0M278.8 561.4h0M285.0 556.3h0M289.8 563.1h0M285.0 546.7h0M280.3 607.5h0M292.0 612.8h0M297.0 592.4h0M292.7 615.7h0M291.8 589.4h0M295.0 603.6h0M298.4 599.2h0M293.1 600.3h0M297.5 607.0h0M292.2 595.7h0M294.2 603.0h0M294.1 606.0h0M291.7 612.7h0M290.6 612.9h0M296.6 603.7h0M288.8 605.3h0M282.3 596.2h0M287.9 590.0h0M295.2 600.2h0M300.1 597.9h0M293.0 598.6h0M283.9 595.1h0M287.1 615.9h0M289.6 604.6h0M293.5 595.8h0M284.9 592.9h0M286.5 603.4h0M285.3 611.7h0M290.0 588.6h0M298.8 601.6h0M283.4 602.5h0M282.7 599.5h0M295.3 592.3h0M282.7 598.0h0M294.7 596.5h0M279.6 605.3h0M295.0 606.8h0M283.4 595.8h0M281.8 605.4h0M284.2 607.9h0M288.8 597.6h0M294.8 603.6h0M284.4 615.6h0M286.5 610.4h0M286.6 615.5h0M290.3 598.4h0M292.5 591.4h0M282.5 613.2h0M288.8 597.3h0M289.5 600.3h0M297.3 594.3h0M291.3 605.7h0M293.6 612.5h0M283.6 615.2h0M293.4 595.0h0M302.9 594.6h0M280.8 606.5h0M298.5 595.7h0M294.5 608.8h0M292.2 599.6h0M296.2 600.8h0M282.4 605.0h0M284.3 603.9h0M294.3 587.7h0M286.7 614.6h0M290.5 601.9h0M286.1 610.0h0M282.4 599.9h0M287.1 617.3h0M298.8 600.4h0M288.0 602.6h0M288.9 608.5h0M281.8 612.0h0M289.5 611.5h0M280.9 605.6h0M294.8 612.6h0M287.6 599.0h0M299.1 596.6h0M296.1 589.7h0M286.6 617.5h0M292.6 595.3h0M298.9 596.6h0M292.9 592.4h0M292.8 609.8h0M299.6 601.5h0M289.3 608.0h0M281.6 607.1h0M294.9 610.2h0M289.2 615.1h0M284.1 615.5h0M291.2 613.5h0M294.6 605.5h0M300.2 598.4h0M289.7 612.4h0M282.5 599.0h0M292.1 607.6h0M295.6 607.6h0M291.9 599.8h0M295.5 591.2h0M299.8 602.9h0M295.1 600.2h0M292.9 615.9h0M282.5 590.7h0M288.1 595.6h0M288.7 590.2h0M286.4 607.6h0M295.2 588.9h0M286.5 602.7h0M295.1 592.5h0M298.9 594.8h0M292.7 608.1h0M289.2 591.0h0M286.5 598.8h0M290.4 609.0h0M298.6 603.9h0M298.3 593.7h0M303.9 599.8h0M293.2 615.8h0M282.1 608.1h0M284.1 605.4h0M299.2 600.2h0M284.0 591.8h0M287.1 607.7h0M283.0 610.3h0M295.0 612.1h0M295.6 601.9h0M281.5 610.7h0M289.7 611.6h0M289.3 614.7h0M282.4 590.9h0M300.8 601.7h0M300.5 600.9h0M299.8 595.3h0M301.5 599.6h0M293.9 593.1h0M292.2 606.1h0M294.4 603.9h0M284.6 598.0h0M300.5 596.2h0M281.7 602.6h0M302.8 601.4h0M285.9 591.5h0M289.0 609.8h0M294.0 590.3h0M296.2 606.9h0M293.7 596.1h0M282.9 592.8h0M293.7 608.2h0M292.9 608.4h0M289.2 599.1h0M290.1 588.7h0M297.5 606.8h0M295.0 595.6h0M282.0 590.5h0M295.3 597.3h0M291.6 596.6h0M289.4 593.2h0M296.3 598.7h0M290.2 616.6h0M294.8 595.0h0M289.6 614.5h0M299.5 604.2h0M292.5 605.3h0M288.6 614.1h0M289.4 598.8h0M289.9 611.7h0M354.5 576.1h0M376.8 577.7h0M349.0 577.2h0M371.3 577.8h0M351.8 577.7h0M367.8 577.0h0M361.1 575.7h0M368.0 578.0h0M372.6 578.6h0M370.7 577.9h0M349.5 576.4h0M338.9 573.2h0M375.6 579.3h0M376.5 578.8h0M367.7 578.1h0M342.6 575.6h0M368.2 577.6h0M344.5 575.1h0M358.9 577.5h0M341.9 575.2h0M340.5 574.6h0M374.9 578.5h0M350.1 576.2h0M358.6 577.5h0M363.3 576.5h0" stroke="#008000" stroke-opacity="0.4" stroke-width="3.8" stroke-linecap="round" fill="none"/>
<path d="M261.4 562.2h0M284.2 551.4h0M256.9 575.0h0M263.6 584.7h0M262.9 554.3h0M258.8 586.7h0M286.9 544.4h0M261.7 568.6h0M260.3 571.8h0M288.2 556.5h0M256.1 573.3h0M267.0 591.8h0M259.0 580.8h0M272.2 557.7h0M268.3 560.9h0M262.8 544.3h0M248.0 562.0h0M274.1 562.7h0M264.1 543.9h0M263.4 586.1h0M269.3 551.3h0M259.6 547.8h0M287.9 559.8h0M287.6 550.8h0M277.4 557.5h0M276.4 541.6h0M270.1 586.9h0M251.5 545.1h0M282.9 563.5h0M259.1 586.3h0M288.3 544.4h0M276.7 543.4h0M257.7 553.0h0M275.4 561.5h0M284.4 545.7h0M263.4 559.4h0M247.9 553.7h0M283.6 549.8h0M285.6 539.8h0M287.2 539.0h0M260.7 566.4h0M280.7 555.1h0M279.1 542.5h0M270.1 546.7h0M249.2 551.9h0M272.3 553.4h0M272.4 549.5h0M279.5 555.5h0M268.9 584.1h0M257.9 561.3h0M255.1 559.9h0M284.4 556.9h0M288.6 557.5h0M266.1 564.7h0M283.6 555.0h0M246.5 567.3h0M253.7 554.1h0M271.1 553.8h0M290.3 554.3h0M253.5 544.9h0M251.6 579.2h0M252.9 585.2h0M285.3 551.8h0M278.2 557.6h0M260.2 571.6h0M279.0 543.6h0M279.4 550.9h0M269.1 574.9h0M264.6 575.8h0M261.0 569.8h0M267.3 569.7h0M250.8 561.5h0M285.7 544.7h0M281.5 541.5h0M277.2 543.8h0M260.9 568.9h0M275.8 554.6h0M250.6 565.5h0M269.4 568.6h0M258.9 547.9h0M265.6 547.2h0M253.1 557.8h0M273.4 566.5h0M266.9 590.7h0M264.1 563.4h0M266.9 588.6h0M258.3 579.9h0M277.4 554.9h0M253.4 576.3h0M274.1 558.1h0M268.5 550.6h0M269.2 580.7h0M280.2 564.7h0M264.6 555.0h0M268.1 587.9h0M250.8 566.0h0M268.4 543.9h0M265.7 592.0h0M257.4 556.7h0M275.0 550.5h0M253.3 562.8h0M255.7 588.2h0M276.7 552.9h0M285.7 559.5h0M260.6 560.5h0M264.1 547.0h0M285.9 550.2h0M264.9 581.1h0M270.7 558.1h0M248.3 558.0h0M256.3 548.4h0M258.4 554.9h0M254.4 588.8h0M272.8 554.4h0M282.9 560.9h0M280.2 546.7h0M287.0 549.7h0M264.4 590.5h0M276.1 544.8h0M255.4 565.2h0M260.6 564.3h0M253.1 564.1h0M253.8 554.6h0M254.6 545.7h0M268.4 582.0h0M251.2 572.1h0M264.3 544.7h0M252.3 567.5h0M267.5 574.7h0M283.5 558.7h0M254.2 585.1h0M287.8 559.7h0M250.2 555.0h0M262.9 574.7h0M288.8 554.0h0M265.8 567.3h0M255.0 551.8h0M250.3 561.7h0M271.6 549.6h0M245.8 551.9h0M261.9 577.5h0M284.2 553.3h0M264.9 547.6h0M251.9 548.1h0M290.8 548.0h0M264.3 545.3h0M249.9 580.6h0M270.4 542.3h0M287.0 564.3h0M264.9 563.0h0M272.3 564.5h0M273.4 546.8h0M261.2 579.3h0M247.9 572.3h0M267.5 585.1h0M287.1 557.5h0M274.8 548.1h0M279.7 542.6h0M273.2 565.2h0M261.7 584.2h0M257.1 589.0h0M287.1 567.0h0M265.1 563.7h0M252.4 560.9h0M260.1 570.7h0M289.7 553.6h0M268.3 548.9h0M250.4 559.7h0M272.4 552.3h0M255.1 573.9h0M287.9 556.3h0M285.5 552.4h0M258.8 584.4h0M264.2 570.3h0M286.8 562.5h0M266.1 560.5h0M257.6 584.1h0M267.4 560.0h0M281.5 560.7h0M247.7 554.8h0M250.0 576.5h0M245.8 565.1h0M263.4 580.0h0M247.3 546.1h0M268.3 572.0h0M252.8 582.4h0M258.7 562.1h0M261.7 586.1h0M254.4 582.0h0M266.3 546.2h0M281.4 544.8h0M263.8 586.2h0M282.7 558.4h0M247.9 560.0h0M280.9 555.9h0M269.5 548.6h0M250.5 577.9h0M261.3 586.8h0M255.8 569.6h0M261.8 588.2h0M270.6 563.0h0M271.3 555.0h0M283.7 566.6h0M248.7 579.1h0M263.7 569.2h0M273.5 547.9h0M265.7 556.9h0M264.0 553.5h0M275.7 553.6h0M267.0 579.3h0M262.4 576.8h0M257.0 567.5h0M268.8 566.5h0M251.6 545.0h0M252.2 571.7h0M265.6 551.7h0M289.1 562.4h0M265.1 559.6h0M266.8 583.6h0M281.7 561.4h0M262.9 547.2h0M287.6 564.1h0M258.7 554.7h0M265.3 556.9h0M257.0 573.5h0M272.8 560.6h0M264.3 564.6h0M281.5 546.4h0M292.7 553.0h0M252.7 557.8h0M280.4 566.1h0M269.3 552.5h0M251.4 546.2h0M286.8 546.6h0M283.4 556.5h0M258.4 566.9h0M254.4 575.2h0M248.8 558.4h0M274.3 549.4h0M267.2 557.4h0M253.9 568.1h0M276.7 563.2h0M288.1 560.9h0M251.4 561.1h0M295.0 543.2h0M297.5 547.8h0M283.4 537.7h0M295.5 548.9h0M294.9 554.9h0M283.5 547.1h0M281.9 557.9h0M301.7 540.8h0M289.7 547.5h0M285.0 547.3h0M291.9 558.2h0M299.3 550.8h0M311.3 537.7h0M287.5 544.8h0M289.8 539.3h0M278.3 539.0h0M301.8 546.4h0M290.0 565.9h0M282.3 546.6h0M285.4 567.0h0M285.3 564.4h0M280.1 542.2h0M292.9 557.3h0M286.5 549.3h0M279.6 546.7h0M293.0 558.9h0M281.1 554.1h0M285.6 544.5h0M286.8 559.7h0M286.1 565.3h0M290.1 548.7h0M281.4 544.1h0M281.4 559.3h0M288.2 559.9h0M283.0 563.7h0M285.3 546.8h0M286.2 539.9h0M294.9 537.9h0M309.7 543.2h0M292.1 545.3h0M282.7 549.9h0M289.5 555.1h0M286.1 553.4h0M283.8 565.8h0M302.6 537.3h0M291.3 555.4h0M290.5 539.3h0M292.4 556.0h0M299.7 552.1h0M282.2 557.3h0M287.2 539.1h0M311.3 539.2h0M285.9 569.7h0M287.5 568.2h0M291.7 539.4h0M282.8 564.3h0M283.8 559.5h0M296.6 539.7h0M290.3 561.4h0M282.0 565.5h0M304.9 539.0h0M283.8 548.0h0M284.2 552.3h0M300.1 540.6h0M284.1 542.4h0M278.6 546.6h0M289.9 547.6h0M296.4 550.9h0M292.1 540.2h0M285.8 545.6h0M283.1 568.6h0M290.6 552.8h0M278.3 538.8h0M300.6 547.4h0M306.0 540.2h0M280.0 552.7h0M293.1 558.5h0M288.9 562.8h0M291.6 539.4h0M291.7 539.8h0M282.9 566.2h0M292.5 542.4h0M289.8 562.0h0M284.6 568.8h0M279.4 556.2h0M281.4 564.7h0M279.6 550.4h0M287.5 559.2h0M301.7 537.6h0M290.2 552.8h0M301.4 543.1h0M277.7 543.7h0M283.5 540.6h0M298.1 537.7h0M281.7 550.0h0M310.0 534.7h0M283.6 555.9h0M279.5 561.2h0M292.3 542.3h0M297.3 542.2h0M302.5 540.8h0M290.7 545.1h0M284.3 554.2h0M289.5 554.1h0M286.0 554.2h0M303.1 538.8h0M290.7 536.5h0M283.6 539.6h0M295.3 554.4h0M280.6 561.4h0M281.9 546.2h0M288.8 550.1h0M289.9 542.3h0M293.0 546.8h0M282.1 547.8h0M287.6 540.3h0M293.8 547.9h0M285.6 541.9h0M290.1 560.2h0M283.0 554.6h0M299.7 541.3h0M283.5 545.3h0M294.0 550.7h0M287.6 556.5h0M301.7 546.9h0M295.3 544.3h0M298.7 539.8h0M290.0 559.5h0M287.9 540.9h0M308.1 537.3h0M283.9 557.6h0M287.3 552.6h0M285.3 569.7h0M289.6 559.3h0M289.3 543.8h0M281.3 558.2h0M280.9 564.1h0M290.5 594.1h0M296.2 609.5h0M286.6 595.8h0M285.1 610.0h0M298.0 594.9h0M294.7 589.0h0M291.1 614.7h0M285.0 590.9h0M298.9 598.6h0M301.9 599.1h0M292.4 610.8h0M292.5 608.2h0M283.6 598.3h0M287.3 592.8h0M296.3 594.2h0M291.5 615.6h0M288.0 608.3h0M288.9 611.2h0M292.5 605.4h0M295.1 609.1h0M295.6 594.2h0M293.8 607.4h0M293.3 604.2h0M292.5 601.4h0M296.3 603.2h0M298.9 598.4h0M298.5 600.0h0M298.3 609.7h0M297.5 592.9h0M284.6 602.2h0M288.5 617.7h0M288.6 612.1h0M294.5 612.2h0M298.6 590.7h0M293.3 600.8h0M287.9 598.7h0M290.2 600.7h0M285.7 613.0h0M293.1 594.6h0M292.0 604.9h0M283.4 604.6h0M286.3 592.2h0M282.5 592.9h0M292.4 596.6h0M287.4 609.7h0M288.4 605.3h0M297.4 603.1h0M295.2 593.5h0M301.7 591.6h0M290.7 602.8h0M298.5 589.0h0M293.8 593.4h0M303.2 599.0h0M289.3 608.2h0M282.4 599.1h0M291.9 599.6h0M283.4 596.5h0M292.1 590.1h0M291.6 592.8h0M293.5 612.6h0M287.5 607.7h0M288.4 609.0h0M295.0 607.1h0M291.5 604.0h0M289.8 603.5h0M282.9 604.5h0M303.2 595.8h0M290.2 596.1h0M296.0 592.3h0M295.7 594.4h0M280.4 606.5h0M292.0 611.4h0M297.2 594.0h0M287.3 593.4h0M284.0 611.1h0M291.9 596.5h0M299.5 593.7h0M294.3 607.9h0M292.3 603.4h0M279.0 601.9h0M293.2 596.3h0M288.5 608.8h0M297.5 590.7h0M298.3 595.2h0M291.1 598.7h0M292.8 616.1h0M290.6 594.6h0M281.6 602.2h0M287.8 599.3h0M297.5 607.3h0M293.2 596.6h0M286.7 605.5h0M300.7 597.1h0M295.3 600.7h0M291.5 592.5h0M292.2 609.3h0M286.1 591.7h0M292.9 594.9h0M283.2 610.8h0M298.1 589.9h0M278.3 608.6h0M288.9 593.7h0M293.8 593.0h0M302.8 603.0h0M298.5 592.0h0M282.2 613.2h0M290.5 588.4h0M286.0 597.5h0M291.9 612.7h0M297.7 604.1h0M292.4 596.5h0M291.7 588.0h0M298.8 599.4h0M285.2 616.2h0M283.7 607.7h0M282.8 594.7h0M286.0 605.6h0M294.1 594.4h0M299.9 592.6h0M297.1 593.1h0M284.0 602.7h0M292.4 600.6h0M286.6 609.6h0M299.3 596.5h0M289.0 613.4h0M289.3 599.4h0M284.5 596.9h0M290.4 586.8h0M288.5 601.5h0M288.0 612.2h0M291.9 588.5h0M286.4 596.3h0M302.7 601.7h0M292.6 598.4h0M291.6 610.7h0M288.5 605.5h0M285.5 604.7h0M282.0 595.6h0M291.6 590.9h0M294.3 612.7h0M290.2 588.3h0M290.6 608.6h0M289.1 595.5h0M286.5 600.9h0M297.7 608.8h0M289.7 600.6h0M282.8 611.9h0M285.6 612.3h0M286.2 606.8h0M291.7 598.6h0M300.5 592.6h0M287.0 604.0h0M295.4 600.1h0M281.6 597.6h0M278.1 600.2h0M297.4 604.1h0M297.2 610.8h0M291.9 608.5h0M287.9 612.8h0M282.1 605.5h0M280.3 606.3h0M292.6 587.9h0M296.4 600.7h0M294.7 601.1h0M282.4 608.8h0M297.1 596.6h0M297.0 592.6h0M293.6 589.6h0M297.8 601.4h0M291.3 611.8h0M366.9 577.7h0M349.5 576.4h0M347.3 575.2h0M354.4 576.4h0M371.5 579.4h0M339.9 574.5h0M368.0 576.1h0M366.8 577.1h0M349.2 575.7h0M360.9 577.7h0M375.7 578.3h0M351.5 576.9h0M344.5 574.9h0M350.3 575.7h0M353.3 577.3h0M355.3 576.1h0M350.3 575.4h0M348.7 577.3h0M343.5 575.4h0M365.4 579.0h0M347.2 576.2h0M371.7 577.1h0M363.3 576.8h0M341.0 576.0h0M360.4 577.2h0M363.8 577.5h0M367.9 577.4h0M337.8 575.9h0M349.3 575.5h0M373.9 577.9h0" stroke="#008000" stroke-opacity="0.4" stroke-width="3.8" stroke-linecap="round" fill="none"/>
<path d="M278.9 548.9h0M249.6 548.2h0M284.1 549.2h0M259.1 583.1h0M262.8 543.7h0M289.3 543.2h0M263.4 546.5h0M282.7 564.7h0M248.9 561.1h0M281.1 554.7h0M275.1 569.0h0M266.2 569.2h0M278.3 545.6h0M266.6 549.6h0M268.4 567.9h0M256.2 578.9h0M260.1 572.8h0M258.0 560.3h0M252.8 567.7h0M268.1 590.8h0M261.0 543.0h0M251.5 568.5h0M247.4 547.2h0M258.1 579.3h0M275.1 562.4h0M258.8 569.8h0M273.6 564.4h0M253.1 578.4h0M259.8 569.3h0M290.0 548.2h0M247.3 545.9h0M264.0 566.8h0M289.4 542.3h0M280.4 552.9h0M283.4 555.8h0M287.4 560.2h0M264.3 579.9h0M272.1 553.0h0M266.9 578.1h0M283.3 563.7h0M267.6 579.8h0M262.1 576.5h0M264.4 556.5h0M246.1 570.3h0M269.8 576.0h0M250.8 566.5h0M263.4 559.9h0M267.6 562.1h0M268.5 570.1h0M261.0 552.7h0M288.4 560.4h0M288.2 557.6h0M284.1 562.7h0M283.9 541.9h0M248.6 551.4h0M252.9 570.0h0M278.5 562.0h0M281.6 552.3h0M278.9 550.7h0M266.6 552.6h0M248.9 583.3h0M282.9 541.3h0M283.0 542.4h0M265.1 589.7h0M284.3 562.0h0M287.6 562.7h0M251.1 577.2h0M271.5 544.5h0M284.2 549.4h0M260.0 548.7h0M249.9 585.3h0M265.9 572.7h0M249.5 555.9h0M254.1 564.7h0M283.2 567.4h0M251.4 583.4h0M273.2 568.2h0M265.4 542.4h0M277.1 553.1h0M264.5 577.0h0M270.9 589.4h0M264.8 562.3h0M260.5 592.7h0M263.8 541.9h0M249.4 551.4h0M272.6 540.9h0M288.2 554.8h0M270.1 567.6h0M255.0 579.8h0M273.9 562.8h0M264.3 583.6h0M288.7 546.4h0M263.8 560.4h0M248.2 550.8h0M272.3 544.4h0M280.6 549.0h0M278.3 543.6h0M269.8 566.7h0M261.4 583.4h0M284.3 565.4h0M260.1 562.0h0M253.1 566.3h0M256.8 571.7h0M257.2 555.1h0M276.5 555.2h0M254.2 559.2h0M244.8 561.4h0M274.3 550.6h0M273.0 561.0h0M249.0 546.6h0M259.3 577.0h0M271.4 574.0h0M255.1 578.5h0M258.9 549.6h0M281.9 560.1h0M263.5 595.3h0M254.3 591.2h0M259.2 589.9h0M284.9 545.3h0M276.3 542.4h0M263.4 546.3h0M266.6 576.6h0M248.9 572.8h0M269.4 570.0h0M260.4 563.7h0M284.2 542.3h0M254.1 572.7h0M267.7 554.6h0M267.4 569.4h0M264.2 559.5h0M268.9 553.0h0M276.5 541.0h0M271.3 553.2h0M263.2 572.8h0M270.2 551.8h0M270.1 589.6h0M247.6 567.8h0M265.7 588.3h0M249.7 574.9h0M280.4 564.6h0M258.3 553.9h0M259.3 554.1h0M264.5 583.9h0M281.5 558.3h0M269.0 548.1h0M259.6 562.1h0M262.4 581.4h0M268.0 558.5h0M271.3 549.6h0M268.9 587.3h0M269.3 581.4h0M271.8 553.8h0M273.8 556.1h0M266.4 575.4h0M246.3 554.6h0M272.7 561.8h0M281.2 546.8h0M272.2 593.0h0M281.4 542.7h0M281.9 544.3h0M247.3 567.1h0M265.8 586.8h0M262.1 572.0h0M251.4 576.2h0M249.0 571.7h0M263.5 587.9h0M253.1 547.9h0M262.7 558.1h0M276.6 557.3h0M264.5 548.2h0M248.1 575.6h0M278.1 547.0h0M259.5 549.7h0M259.2 548.0h0M257.6 588.7h0M286.6 565.7h0M255.2 556.2h0M279.8 563.3h0M253.8 563.9h0M257.6 577.1h0M264.3 592.6h0M265.7 579.0h0M252.0 561.1h0M250.1 553.3h0M260.6 568.3h0M271.4 556.5h0M281.4 567.4h0M276.6 560.4h0M275.0 551.6h0M252.3 584.4h0M256.4 563.5h0M285.3 547.9h0M252.4 567.5h0M252.6 578.8h0M264.7 564.3h0M265.6 559.1h0M287.0 548.5h0M277.0 559.3h0M262.2 559.0h0M256.3 560.4h0M265.7 573.0h0M254.9 593.0h0M261.4 573.4h0M264.0 564.3h0M255.0 558.2h0M250.8 569.4h0M282.1 550.9h0M269.8 558.2h0M278.1 545.1h0M247.4 552.1h0M284.6 542.0h0M271.4 546.6h0M275.2 540.7h0M274.8 553.8h0M246.5 574.7h0M257.4 566.3h0M261.3 559.8h0M251.0 570.6h0M281.1 551.7h0M256.2 550.9h0M259.3 589.9h0M265.9 554.7h0M258.5 575.5h0M268.2 587.7h0M262.2 561.1h0M259.5 586.5h0M267.7 567.4h0M285.7 541.8h0M277.9 556.6h0M278.9 544.0h0M255.0 558.9h0M277.9 558.0h0M252.2 584.0h0M278.5 545.3h0M262.5 572.2h0M247.7 553.6h0M248.5 543.9h0M272.8 561.0h0M282.6 555.3h0M280.5 552.2h0M254.1 562.6h0M247.6 569.9h0M281.9 562.5h0M257.7 558.8h0M265.9 579.2h0M253.8 547.5h0M255.4 576.2h0M267.7 559.2h0M286.3 560.9h0M279.3 556.1h0M253.8 587.6h0M251.7 565.0h0M257.8 587.9h0M259.6 583.5h0M276.9 560.7h0M257.3 577.8h0M279.6 564.2h0M274.7 563.1h0M267.9 559.9h0M276.6 556.4h0M259.1 554.2h0M260.6 560.0h0M287.7 542.7h0M260.9 554.7h0M266.2 573.9h0M267.9 587.1h0M284.4 544.7h0M269.6 564.4h0M258.4 548.0h0M279.8 551.8h0M250.2 549.5h0M267.4 557.6h0M255.9 560.2h0M260.5 579.9h0M286.6 569.8h0M290.9 540.1h0M283.7 546.6h0M285.6 560.1h0M281.4 547.3h0M295.2 554.2h0M282.4 567.0h0M295.6 546.4h0M281.9 542.3h0M277.9 541.8h0M281.8 555.8h0M306.1 542.1h0M279.6 553.3h0M285.3 558.5h0M310.7 536.3h0M305.6 543.4h0M284.2 544.9h0M292.5 541.3h0M288.3 566.6h0M289.7 563.8h0M293.7 549.1h0M277.6 547.6h0M276.8 549.9h0M298.4 542.4h0M285.9 565.3h0M309.6 538.5h0M292.4 551.8h0M302.6 539.6h0M289.7 547.9h0M294.4 540.3h0M285.0 553.6h0M290.9 559.2h0M295.1 542.5h0M288.1 553.7h0M288.6 566.5h0M279.3 544.2h0M284.8 552.0h0M302.0 537.4h0M295.9 547.7h0M293.0 549.8h0M279.5 548.8h0M302.6 540.4h0M299.6 550.0h0M293.3 556.7h0M291.1 558.0h0M287.3 544.1h0M300.5 543.2h0M302.2 537.5h0M280.3 545.2h0M289.6 542.8h0M289.0 561.3h0M286.1 555.5h0M282.7 550.1h0M285.4 540.1h0M281.7 552.9h0M292.3 537.0h0M281.0 553.2h0M295.5 554.5h0M284.8 544.5h0M290.0 551.9h0M289.4 544.5h0M288.4 542.2h0M290.8 544.9h0M291.6 558.3h0M288.1 561.2h0M300.6 548.8h0M310.5 537.1h0M295.7 547.5h0M292.1 550.5h0M279.9 548.6h0M282.3 542.2h0M306.1 542.0h0M293.1 544.7h0M305.4 543.1h0M289.0 542.7h0M297.4 538.8h0M284.7 545.7h0M276.8 548.2h0M279.5 559.1h0M279.9 542.0h0M290.8 552.0h0M282.7 542.6h0M282.1 560.2h0M284.5 563.3h0M299.1 537.0h0M296.6 546.5h0M283.7 541.1h0M281.0 545.4h0M285.1 547.6h0M296.5 546.8h0M292.2 557.3h0M286.5 550.5h0M289.2 544.1h0M288.6 568.7h0M286.0 559.7h0M290.6 550.7h0M300.4 536.5h0M284.8 538.8h0M281.6 553.9h0M292.6 543.6h0M302.5 542.9h0M291.2 562.1h0M298.7 541.5h0M285.1 543.8h0M284.1 553.5h0M288.6 550.3h0M281.5 560.0h0M282.1 559.5h0M275.9 542.2h0M308.2 541.3h0M288.6 568.3h0M303.4 539.3h0M285.3 543.3h0M292.7 559.9h0M292.9 553.1h0M286.1 559.2h0M275.5 541.2h0M291.9 542.9h0M297.4 537.6h0M312.0 535.9h0M276.8 547.1h0M307.0 538.0h0M308.6 539.6h0M287.8 547.0h0M300.1 545.9h0M299.8 541.6h0M294.4 543.8h0M293.6 542.0h0M308.4 536.5h0M294.6 545.2h0M279.4 544.3h0M297.4 540.7h0M293.2 547.0h0M297.7 538.9h0M298.8 547.6h0M283.4 543.6h0M298.8 539.5h0M296.9 539.6h0M280.8 540.4h0M299.6 542.2h0M293.1 604.2h0M288.0 610.2h0M279.2 597.4h0M281.0 600.3h0M287.2 591.8h0M283.3 605.9h0M296.1 610.3h0M297.2 603.9h0M283.5 593.5h0M286.5 588.5h0M301.4 603.5h0M283.3 596.0h0M289.4 601.9h0M284.4 592.5h0M292.1 606.1h0M294.5 598.1h0M299.2 599.5h0M290.0 599.6h0M295.6 612.7h0M281.3 608.1h0M294.9 599.0h0M285.4 597.0h0M295.2 603.6h0M290.6 601.9h0M279.2 606.2h0M295.3 600.7h0M290.7 612.9h0M294.5 593.2h0M301.1 601.2h0M299.9 595.2h0M288.9 590.2h0M285.6 599.9h0M287.7 593.5h0M287.8 589.7h0M280.4 603.9h0M289.7 588.3h0M286.8 595.7h0M295.2 614.9h0M281.8 609.0h0M287.3 591.6h0M293.2 612.8h0M280.0 602.7h0M295.8 590.9h0M291.9 588.7h0M287.7 588.7h0M287.2 607.8h0M295.2 610.4h0M285.7 605.1h0M284.6 607.9h0M292.6 594.5h0M292.6 588.1h0M285.5 604.4h0M287.1 597.5h0M284.9 597.3h0M285.5 613.4h0M285.1 592.7h0M283.7 604.5h0M279.5 607.0h0M299.1 597.6h0M281.0 605.7h0M282.6 604.2h0M291.4 610.8h0M297.4 604.1h0M284.6 615.7h0M293.2 595.9h0M287.2 590.8h0M294.5 599.0h0M289.8 607.5h0M290.0 603.8h0M290.0 600.7h0M294.8 589.7h0M291.6 590.0h0M292.9 590.6h0M287.9 594.9h0M286.4 592.6h0M284.7 600.8h0M295.4 596.3h0M282.2 593.3h0M292.8 613.7h0M301.2 601.8h0M280.1 608.8h0M284.8 597.9h0M288.7 599.4h0M295.2 617.2h0M282.8 606.4h0M288.0 605.3h0M287.2 611.2h0M289.0 608.4h0M283.6 592.4h0M286.3 610.3h0M287.2 604.5h0M294.6 608.4h0M290.7 605.2h0M291.7 612.6h0M291.5 589.7h0M284.8 615.0h0M286.3 594.2h0M286.2 588.8h0M289.7 614.1h0M300.2 598.5h0M284.1 613.2h0M288.9 615.8h0M290.7 594.1h0M298.7 592.5h0M282.6 599.6h0M295.8 599.4h0M291.1 587.3h0M296.0 601.3h0M289.5 593.2h0M292.4 614.2h0M291.7 588.9h0M284.8 605.2h0M292.4 610.6h0M286.9 592.9h0M296.2 602.7h0M289.5 595.5h0M297.4 602.9h0M301.5 599.6h0M294.1 593.1h0M282.6 593.6h0M287.8 612.5h0M290.8 608.2h0M287.1 616.9h0M290.9 599.0h0M289.3 590.4h0M297.8 601.2h0M280.1 606.1h0M293.1 616.1h0M281.5 600.4h0M287.9 592.9h0M289.3 610.8h0M285.1 601.6h0M287.7 618.6h0M284.0 599.9h0M297.7 601.7h0M277.8 598.9h0M279.9 605.9h0M290.8 602.3h0M287.5 597.3h0M293.4 589.5h0M290.9 592.6h0M285.5 603.3h0M293.0 591.9h0M290.2 595.9h0M283.2 593.3h0M282.4 599.5h0M281.6 600.0h0M291.2 614.1h0M299.1 591.7h0M279.4 607.1h0M297.1 595.9h0M287.5 614.0h0M283.0 615.6h0M288.1 595.4h0M282.9 592.6h0M294.5 593.7h0M293.3 610.7h0M286.5 600.2h0M287.2 609.7h0M289.0 597.4h0M285.2 607.4h0M294.2 590.7h0M282.5 601.7h0M290.9 591.1h0M289.5 592.8h0M286.5 603.6h0M291.2 614.0h0M292.6 614.2h0M293.2 591.8h0M288.9 593.6h0M288.4 596.6h0M284.7 598.7h0M283.0 608.8h0M286.0 609.7h0M295.2 604.7h0M285.3 610.1h0M292.0 615.2h0M290.6 593.9h0M338.6 573.4h0M355.4 575.6h0M344.8 576.1h0M365.0 576.1h0M371.3 578.6h0M368.8 577.7h0M352.5 577.7h0M347.0 575.9h0M372.0 579.4h0M379.9 580.4h0M349.5 575.6h0M378.7 578.6h0M376.4 579.3h0M354.8 576.3h0M365.3 577.5h0M346.3 576.4h0M347.6 575.8h0M339.1 574.3h0M378.6 579.2h0M379.8 580.6h0M353.9 576.2h0M374.6 578.0h0" stroke="#008000" stroke-opacity="0.4" stroke-width="3.8" stroke-linecap="round" fill="none"/>
<path d="M280.3 553.5h0M275.7 548.2h0M280.4 538.9h0M251.3 574.6h0M267.8 591.8h0M254.7 577.2h0M272.2 553.1h0M252.2 571.3h0M263.7 561.0h0M267.2 581.8h0M289.7 543.1h0M265.4 586.8h0M279.5 565.5h0M275.2 550.2h0M257.2 587.9h0M274.8 564.2h0M269.1 586.3h0M257.7 593.4h0M286.5 558.9h0M255.3 564.9h0M256.2 547.6h0M255.4 570.4h0M283.5 553.3h0M282.6 549.8h0M283.5 565.6h0M272.4 548.0h0M263.7 541.1h0M271.0 587.8h0M282.1 559.9h0M266.6 571.0h0M273.3 560.9h0M263.2 558.7h0M283.8 542.9h0M255.3 588.6h0M293.1 553.4h0M259.1 577.4h0M261.2 544.7h0M283.1 554.9h0M258.0 589.8h0M250.5 560.4h0M286.8 542.2h0M265.4 581.7h0M263.0 558.9h0M288.5 541.1h0M258.1 568.1h0M285.6 563.4h0M282.4 549.6h0M259.8 591.0h0M259.0 552.3h0M246.7 574.0h0M254.7 590.7h0M265.9 589.0h0M260.4 583.1h0M250.7 579.6h0M271.6 549.9h0M281.0 544.3h0M258.9 585.9h0M267.2 554.9h0M289.7 545.9h0M267.9 585.9h0M252.4 554.2h0M246.8 556.6h0M274.5 562.5h0M253.4 568.7h0M290.1 550.8h0M264.8 553.0h0M270.3 573.3h0M269.8 549.9h0M256.3 561.3h0M269.9 570.8h0M258.2 544.9h0M245.9 563.6h0M264.1 577.6h0M259.7 561.9h0M268.5 560.1h0M270.0 545.2h0M283.0 565.0h0M282.4 567.3h0M257.1 543.6h0M255.7 579.4h0M270.3 556.2h0M264.8 569.3h0M264.8 562.5h0M270.2 576.6h0M258.7 571.2h0M284.1 541.9h0M273.9 551.6h0M255.5 580.7h0M272.9 566.5h0M267.9 587.2h0M277.4 552.9h0M267.8 548.1h0M266.1 562.0h0M266.4 552.4h0M273.4 561.3h0M259.1 548.5h0M257.4 551.0h0M273.6 561.6h0M264.4 568.7h0M257.9 566.1h0M274.5 544.2h0M253.3 566.3h0M280.3 542.4h0M287.8 554.2h0M257.2 593.0h0M270.7 554.6h0M281.5 548.2h0M260.7 585.8h0M264.6 570.9h0M249.5 579.6h0M250.6 558.2h0M257.9 581.6h0M268.3 590.3h0M288.4 560.4h0M273.1 556.5h0M280.7 562.2h0M267.2 550.9h0M256.2 562.6h0M270.4 564.5h0M253.9 578.9h0M286.5 561.7h0M270.6 543.6h0M268.6 579.3h0M252.7 561.9h0M248.1 562.7h0M258.8 580.3h0M270.7 566.8h0M284.5 552.1h0M253.8 584.0h0M247.1 552.0h0M251.3 558.5h0M265.7 565.8h0M276.0 547.8h0M261.6 561.8h0M253.2 576.6h0M285.1 555.0h0M264.4 560.7h0M268.8 558.2h0M256.7 557.7h0M253.9 551.2h0M254.8 574.9h0M262.3 577.8h0M250.6 550.4h0M259.4 557.0h0M269.3 575.1h0M272.4 554.4h0M255.6 560.6h0M247.2 564.0h0M265.2 543.1h0M254.1 550.8h0M250.6 568.5h0M268.1 552.7h0M259.1 553.5h0M275.2 546.3h0M261.1 549.8h0M258.8 582.7h0M257.0 578.8h0M269.8 573.1h0M255.3 549.3h0M267.3 564.0h0M269.1 552.6h0M263.5 547.1h0M258.7 567.1h0M249.3 556.0h0M260.0 588.9h0M263.6 577.9h0M263.9 575.0h0M263.7 542.9h0M281.0 557.6h0M282.1 549.0h0M247.5 576.7h0M283.6 554.3h0M276.5 550.4h0M263.4 572.0h0M265.0 558.9h0M257.5 587.4h0M284.8 545.8h0M257.4 548.4h0M273.5 543.4h0M286.6 546.6h0M275.5 547.8h0M290.3 552.2h0M267.5 564.8h0M268.3 572.6h0M281.1 554.4h0M288.0 557.7h0M266.2 572.6h0M259.1 555.4h0M286.4 556.1h0M278.0 564.1h0M249.4 547.8h0M267.2 551.6h0M274.8 556.9h0M255.8 561.1h0M260.3 549.9h0M284.0 546.6h0M255.0 556.5h0M285.0 559.4h0M263.6 550.2h0M247.0 554.6h0M262.4 554.6h0M266.3 575.4h0M282.6 551.0h0M287.2 542.3h0M250.0 558.1h0M271.6 569.1h0M256.1 587.9h0M253.8 549.3h0M257.2 552.5h0M270.9 548.0h0M269.1 574.4h0M254.1 543.4h0M267.8 590.2h0M249.1 568.2h0M291.0 545.2h0M290.1 554.9h0M267.5 584.1h0M256.7 557.2h0M254.9 575.1h0M290.0 553.8h0M247.3 550.8h0M266.7 568.8h0M248.9 559.0h0M251.4 550.0h0M250.7 548.3h0M261.5 576.8h0M266.3 587.7h0M287.3 545.0h0M282.1 543.4h0M249.4 564.6h0M259.0 590.4h0M284.5 557.4h0M282.3 554.7h0M258.5 593.5h0M253.2 564.0h0M257.2 548.0h0M252.0 556.3h0M257.9 592.8h0M260.5 591.9h0M286.2 568.4h0M289.5 560.8h0M283.3 555.1h0M252.1 569.7h0M280.0 545.2h0M274.6 556.0h0M252.6 580.3h0M260.3 580.0h0M254.4 579.0h0M273.3 546.8h0M250.5 546.1h0M258.6 580.8h0M255.8 568.5h0M255.9 590.2h0M268.7 582.5h0M286.5 542.8h0M262.5 544.7h0M253.7 551.5h0M269.8 550.2h0M290.1 541.5h0M280.0 551.0h0M253.4 570.3h0M279.6 540.6h0M251.6 578.4h0M263.6 582.1h0M267.7 577.0h0M264.6 548.6h0M269.2 586.9h0M264.6 581.6h0M256.8 554.0h0M286.5 562.6h0M247.0 566.8h0M287.7 553.8h0M274.7 549.2h0M256.4 545.2h0M264.1 557.9h0M252.8 563.0h0M279.2 558.4h0M280.2 553.4h0M266.1 555.6h0M280.4 553.8h0M284.0 543.9h0M263.6 583.0h0M251.7 560.9h0M282.0 540.6h0M275.7 561.6h0M257.5 589.2h0M280.9 554.2h0M267.4 563.1h0M262.1 561.4h0M305.5 541.3h0M287.4 561.3h0M276.8 542.5h0M309.7 535.8h0M295.5 544.8h0M284.4 544.7h0M296.5 553.3h0M277.9 545.3h0M280.8 549.5h0M296.7 544.6h0M299.3 539.6h0M287.5 552.4h0M290.2 542.9h0M276.3 545.5h0M302.8 537.6h0M280.8 551.4h0M285.1 559.7h0M284.4 568.2h0M284.4 546.2h0M285.6 569.3h0M296.8 552.8h0M287.6 565.6h0M286.7 554.4h0M277.2 548.1h0M287.9 548.3h0M293.1 543.5h0M286.8 566.4h0M298.2 542.7h0M290.5 554.6h0M280.3 553.1h0M283.0 553.1h0M308.8 539.8h0M279.0 540.0h0M280.4 548.9h0M284.5 542.1h0M292.6 559.7h0M307.6 541.3h0M291.2 564.2h0M277.3 540.6h0M293.8 540.1h0M285.2 549.5h0M293.2 551.3h0M285.6 554.4h0M290.6 555.2h0M278.7 558.9h0M277.5 555.2h0M281.3 541.2h0M294.9 540.1h0M299.5 540.0h0M283.5 557.4h0M300.0 541.5h0M302.7 540.5h0M287.7 566.7h0M291.4 539.0h0M292.8 550.9h0M289.6 538.8h0M309.9 538.6h0M282.9 542.0h0M289.5 566.6h0M295.9 551.0h0M295.1 553.5h0M291.6 548.9h0M295.3 539.1h0M300.6 537.3h0M293.7 547.5h0M287.4 545.6h0M287.0 563.8h0M287.0 561.1h0M284.0 558.6h0M279.5 541.2h0M281.6 557.5h0M285.4 559.9h0M285.7 541.8h0M292.8 555.5h0M286.0 552.9h0M288.0 554.2h0M302.1 543.9h0M287.7 543.7h0M289.2 546.7h0M290.5 543.6h0M290.5 562.1h0M292.2 557.4h0M291.0 536.8h0M282.4 561.4h0M285.3 551.2h0M293.8 541.2h0M285.5 568.2h0M280.8 538.2h0M287.4 566.3h0M301.2 548.2h0M292.8 545.4h0M299.0 550.3h0M303.3 547.2h0M292.5 541.2h0M299.1 543.5h0M287.3 545.1h0M290.8 556.7h0M294.7 550.8h0M285.7 548.2h0M296.0 542.8h0M297.2 540.4h0M288.9 547.6h0M297.3 541.1h0M278.6 556.6h0M290.6 562.6h0M310.5 538.4h0M288.5 553.0h0M280.4 542.8h0M283.7 563.7h0M282.5 540.5h0M280.1 557.3h0M290.2 558.6h0M310.1 537.6h0M294.3 550.3h0M279.0 555.9h0M306.3 542.1h0M278.6 552.0h0M280.3 552.9h0M287.8 538.0h0M279.1 549.7h0M288.3 561.4h0M284.1 559.0h0M285.5 537.7h0M291.6 541.2h0M288.1 604.4h0M300.6 600.4h0M295.2 596.3h0M295.4 605.2h0M302.0 594.7h0M282.2 593.3h0M289.2 605.6h0M293.0 591.1h0M294.6 589.3h0M292.0 600.7h0M291.1 604.0h0M282.4 603.3h0M286.3 611.9h0M295.6 601.5h0M283.0 611.9h0M288.8 598.3h0M293.9 595.5h0M295.9 588.1h0M284.9 611.0h0M286.8 591.9h0M285.3 618.2h0M290.7 590.8h0M294.1 609.8h0M297.7 604.2h0M299.0 598.0h0M288.1 595.0h0M292.0 614.2h0M290.2 594.9h0M296.5 592.3h0M286.1 616.1h0M285.3 591.4h0M288.3 597.3h0M283.9 607.1h0M299.1 590.6h0M288.7 601.4h0M289.4 592.3h0M286.1 591.6h0M293.0 590.9h0M286.4 590.9h0M288.4 605.3h0M299.1 596.6h0M295.4 603.1h0M286.3 609.1h0M284.6 587.9h0M292.9 611.5h0M288.8 612.5h0M299.4 600.2h0M287.3 593.6h0M281.9 596.9h0M292.3 601.4h0M293.5 612.0h0M297.6 607.0h0M286.1 617.8h0M301.5 593.5h0M281.3 607.3h0M289.2 590.2h0M283.0 614.1h0M285.8 610.7h0M284.3 616.1h0M285.3 593.4h0M288.1 591.2h0M283.9 615.6h0M301.3 595.6h0M283.3 600.9h0M285.4 608.4h0M280.7 601.3h0M291.5 614.3h0M284.5 597.7h0M296.4 602.7h0M284.6 598.2h0M288.1 591.0h0M293.4 595.2h0M288.8 595.7h0M286.1 589.9h0M289.6 602.0h0M287.2 598.8h0M297.3 607.4h0M295.4 609.4h0M280.5 606.9h0M277.2 602.5h0M286.7 596.2h0M285.4 592.2h0M282.9 603.9h0M297.0 591.1h0M282.5 600.4h0M295.7 604.7h0M288.3 618.0h0M289.3 610.0h0M293.9 603.1h0M279.2 606.6h0M285.3 615.1h0M302.5 601.6h0M298.9 590.6h0M283.8 602.3h0M281.2 597.8h0M292.6 595.2h0M288.0 592.0h0M282.6 604.4h0M296.4 608.5h0M294.6 611.0h0M288.9 611.0h0M294.3 606.8h0M292.5 611.1h0M301.5 594.7h0M286.5 608.5h0M293.5 595.3h0M279.0 607.6h0M299.1 595.7h0M286.5 595.3h0M298.5 596.7h0M293.8 590.1h0M283.6 604.0h0M285.4 612.8h0M285.9 610.3h0M288.1 618.7h0M297.4 593.2h0M281.6 595.8h0M286.6 589.6h0M299.5 592.0h0M299.3 597.9h0M290.2 606.8h0M280.3 611.0h0M282.2 595.0h0M291.5 609.9h0M299.2 602.7h0M281.8 610.0h0M287.3 615.9h0M304.3 596.8h0M290.5 603.6h0M283.5 596.9h0M299.0 601.6h0M286.7 616.8h0M290.6 605.2h0M287.7 606.3h0M288.4 602.6h0M296.4 602.0h0M295.5 597.1h0M284.3 598.8h0M300.8 597.7h0M295.8 607.2h0M297.6 591.6h0M295.3 601.8h0M299.9 594.4h0M289.3 616.8h0M289.5 595.8h0M286.1 591.4h0M290.6 604.7h0M286.8 591.5h0M281.3 599.5h0M289.5 588.9h0M297.6 604.2h0M295.9 608.7h0M287.9 600.6h0M292.9 604.9h0M279.1 599.7h0M290.8 600.3h0M285.6 594.1h0M292.6 607.4h0M285.1 611.4h0M284.5 604.8h0M348.6 575.7h0M371.1 579.0h0M378.8 579.0h0M357.4 578.4h0M369.6 577.8h0M338.6 575.4h0M354.8 576.0h0M376.3 578.1h0M372.4 578.8h0M373.0 579.3h0M365.6 576.6h0M376.1 579.0h0M371.2 578.4h0M375.3 579.2h0M364.7 576.2h0M351.4 577.3h0M363.0 578.0h0M346.5 575.4h0M360.5 577.3h0M340.0 576.2h0M371.0 577.6h0M364.1 576.8h0M348.2 576.0h0M346.3 574.6h0M346.1 576.7h0M365.3 576.8h0M371.6 578.7h0M347.8 575.5h0M348.8 575.4h0M338.0 574.0h0M338.5 574.5h0M340.9 575.3h0M354.6 575.7h0M370.6 578.0h0" stroke="#008000" stroke-opacity="0.4" stroke-width="3.8" stroke-linecap="round" fill="none"/>
<path d="M261.3 582.2h0M265.2 580.7h0M251.2 559.3h0M286.8 554.3h0M262.1 556.8h0M267.6 588.0h0M266.7 564.7h0M255.5 567.2h0M270.7 563.9h0M248.8 548.1h0M279.1 548.3h0M260.2 560.0h0M248.3 559.6h0M247.5 564.8h0M255.5 575.9h0M246.8 565.4h0M267.0 565.2h0M273.3 543.5h0M269.7 579.0h0M263.9 595.8h0M251.7 581.4h0M260.6 590.0h0M248.4 560.0h0M264.8 567.0h0M267.7 577.7h0M281.9 558.4h0M254.5 564.4h0M262.1 589.7h0M265.2 559.0h0M268.8 579.8h0M290.0 561.1h0M272.7 548.9h0M283.3 565.1h0M270.6 551.3h0M268.8 570.1h0M257.5 562.3h0M253.3 547.8h0M265.1 550.7h0M252.1 574.2h0M257.2 570.5h0M265.9 593.4h0M266.1 577.6h0M253.0 586.8h0M262.1 552.9h0M290.2 546.8h0M260.1 556.1h0M252.3 563.5h0M277.3 564.1h0M265.7 561.1h0M266.3 595.0h0M250.5 576.8h0M255.1 548.0h0M251.2 571.2h0M277.7 544.3h0M277.6 553.4h0M256.3 542.2h0M257.3 579.2h0M266.2 542.5h0M251.0 579.5h0M259.4 556.4h0M280.3 557.5h0M256.5 556.2h0M267.3 557.3h0M289.1 553.8h0M266.9 542.4h0M249.2 568.5h0M251.2 546.7h0M285.3 548.6h0M256.6 577.9h0M285.5 566.4h0M262.6 593.0h0M286.1 548.4h0M248.1 562.2h0M252.7 557.5h0M264.1 553.3h0M267.7 583.8h0M274.8 556.1h0M261.2 590.5h0M258.5 570.6h0M269.7 550.2h0M272.4 547.7h0M266.9 574.1h0M253.4 554.1h0M268.5 581.1h0M254.0 550.7h0M270.6 560.0h0M264.1 566.4h0M251.9 584.6h0M272.7 541.2h0M254.7 561.2h0M263.7 583.5h0M273.5 549.0h0M257.8 575.2h0M261.5 584.3h0M259.3 572.4h0M259.6 587.6h0M256.5 557.0h0M283.6 560.3h0M263.7 564.0h0M253.9 582.3h0M258.1 593.8h0M275.5 560.3h0M248.7 546.6h0M249.8 578.1h0M268.8 575.2h0M261.5 578.5h0M287.7 549.3h0M259.8 551.0h0M248.2 545.1h0M261.2 585.4h0M251.8 568.2h0M262.3 581.7h0M260.2 556.1h0M273.1 555.1h0M278.3 543.6h0M265.5 555.0h0M263.4 552.5h0M270.6 551.9h0M276.6 560.9h0M284.8 544.4h0M250.7 547.4h0M285.9 562.5h0M273.5 563.6h0M267.3 588.3h0M258.6 584.4h0M265.0 552.0h0M278.6 547.3h0M253.4 563.9h0M255.9 585.6h0M252.5 573.5h0M257.4 575.0h0M278.4 559.2h0M265.3 568.6h0M254.5 577.4h0M250.5 580.9h0M282.4 554.5h0M255.9 565.6h0M263.4 584.1h0M258.8 576.1h0M269.1 569.4h0M250.6 581.3h0M281.3 546.9h0M249.5 578.9h0M262.0 558.4h0M258.3 562.4h0M273.8 564.8h0M255.4 548.5h0M249.5 548.7h0M264.2 548.0h0M268.8 559.6h0M281.7 565.4h0M287.8 565.4h0M248.4 570.7h0M255.4 543.4h0M254.5 582.7h0M253.1 587.6h0M274.7 557.1h0M255.0 560.3h0M263.6 582.9h0M262.4 545.2h0M275.9 553.2h0M283.7 561.7h0M270.8 573.2h0M255.1 573.6h0M257.2 553.6h0M258.0 543.2h0M259.7 572.1h0M263.6 592.2h0M260.6 580.2h0M265.0 543.7h0M289.4 557.5h0M264.1 578.4h0M253.5 559.5h0M265.9 566.0h0M266.6 543.8h0M258.8 592.0h0M270.6 563.3h0M248.4 555.9h0M256.5 548.3h0M266.2 544.0h0M268.7 580.3h0M260.4 588.1h0M265.8 556.1h0M286.9 560.7h0M262.6 568.9h0M268.0 565.2h0M252.1 543.9h0M288.4 562.0h0M248.3 568.8h0M267.3 554.9h0M255.7 552.4h0M281.3 563.3h0M252.7 574.4h0M286.8 566.4h0M277.5 553.2h0M258.5 574.9h0M289.1 560.9h0M252.5 577.7h0M262.0 579.5h0M267.5 577.4h0M284.5 549.3h0M273.7 564.7h0M268.4 583.3h0M248.1 559.6h0M262.5 566.2h0M273.4 544.6h0M250.5 570.8h0M260.8 575.4h0M274.2 565.9h0M260.2 570.5h0M248.9 572.9h0M256.0 550.7h0M253.0 564.1h0M261.8 577.9h0M254.2 582.4h0M270.8 547.8h0M272.8 566.8h0M265.2 590.9h0M254.5 548.2h0M254.4 582.2h0M265.8 547.6h0M272.5 557.8h0M246.3 571.0h0M254.4 560.9h0M269.2 555.7h0M245.5 568.7h0M259.5 554.1h0M263.6 556.3h0M285.3 567.8h0M265.9 594.6h0M262.4 583.9h0M261.8 544.0h0M278.3 556.1h0M286.4 551.6h0M292.1 552.7h0M261.0 576.0h0M254.5 555.1h0M264.3 556.5h0M281.3 539.3h0M283.6 565.2h0M246.1 550.6h0M272.1 545.5h0M268.2 592.3h0M259.5 546.4h0M264.0 558.2h0M269.3 592.0h0M266.1 557.9h0M265.7 563.6h0M252.1 542.6h0M289.2 548.3h0M259.2 582.0h0M261.3 556.3h0M255.6 562.2h0M263.2 590.8h0M282.1 550.2h0M279.8 545.1h0M257.2 578.6h0M282.1 538.8h0M248.1 556.2h0M259.7 566.8h0M274.2 550.7h0M277.5 557.4h0M271.0 576.5h0M284.9 551.6h0M254.6 554.8h0M266.0 543.1h0M267.7 579.2h0M282.1 562.8h0M294.8 547.1h0M292.5 554.2h0M302.9 538.1h0M293.5 540.7h0M283.5 559.4h0M288.6 559.2h0M300.3 546.3h0M282.4 559.6h0M302.4 543.0h0M283.9 554.0h0M285.2 567.7h0M299.4 543.6h0M290.3 559.1h0M302.8 539.9h0M289.0 551.5h0M281.3 548.6h0M278.8 554.6h0M283.7 540.2h0M290.1 540.3h0M281.7 559.1h0M280.7 541.2h0M303.8 543.1h0M279.9 557.0h0M288.1 554.7h0M303.5 544.8h0M291.3 544.6h0M286.5 557.5h0M291.6 557.7h0M285.3 560.0h0M285.4 542.3h0M304.5 538.9h0M301.9 548.2h0M300.9 542.5h0M283.2 544.4h0M279.5 545.1h0M279.7 553.3h0M283.8 561.8h0M285.0 566.1h0M301.4 544.2h0M287.7 551.7h0M289.0 542.3h0M286.8 552.0h0M290.6 546.0h0M289.8 558.7h0M279.7 552.0h0M289.4 550.7h0M304.2 544.6h0M295.3 538.4h0M283.4 538.3h0M275.6 536.3h0M283.8 559.7h0M285.6 560.8h0M281.1 559.0h0M281.5 564.7h0M295.4 549.8h0M289.6 543.6h0M297.7 540.6h0M299.7 543.8h0M285.3 543.2h0M277.7 552.5h0M289.6 562.2h0M295.1 550.2h0M310.5 538.3h0M291.0 561.4h0M284.6 543.6h0M279.7 559.0h0M280.8 560.5h0M280.9 543.3h0M291.8 562.5h0M291.3 542.1h0M304.7 538.9h0M289.2 563.7h0M283.6 563.9h0M296.8 552.3h0M303.4 541.4h0M286.9 567.3h0M282.0 546.8h0M279.3 560.5h0M281.0 565.3h0M278.0 554.3h0M289.7 544.5h0M296.7 548.7h0M284.1 552.2h0M287.6 556.9h0M292.3 541.0h0M282.7 564.7h0M310.3 537.6h0M286.8 564.5h0M290.4 551.5h0M280.3 549.3h0M291.1 554.5h0M279.6 562.3h0M284.2 559.2h0M287.8 545.5h0M277.5 542.3h0M297.5 540.4h0M290.7 538.7h0M299.5 548.5h0M286.2 554.4h0M283.8 542.4h0M282.0 541.2h0M277.7 538.5h0M280.9 538.3h0M294.3 553.1h0M280.1 557.3h0M282.4 540.4h0M280.1 557.4h0M289.3 559.5h0M289.2 563.1h0M278.6 541.5h0M281.4 560.5h0M285.0 564.7h0M289.6 542.7h0M298.6 602.5h0M291.8 615.2h0M287.7 598.5h0M280.2 602.6h0M288.3 595.8h0M290.7 592.2h0M295.9 595.5h0M297.3 606.6h0M284.4 606.1h0M294.8 607.3h0M292.5 600.1h0M291.5 614.8h0M281.2 596.7h0M298.5 599.6h0M281.9 593.4h0M286.6 610.3h0M297.5 600.8h0M289.9 589.2h0M294.0 600.1h0M292.9 591.2h0M294.9 607.5h0M298.4 594.3h0M283.7 612.2h0M291.8 601.5h0M291.7 611.8h0M301.4 598.2h0M297.3 589.6h0M299.0 601.7h0M295.5 601.4h0M295.9 591.8h0M291.3 616.2h0M288.3 605.4h0M296.5 602.0h0M301.9 595.8h0M297.3 594.8h0M298.3 604.8h0M281.3 607.1h0M291.3 600.6h0M298.9 592.3h0M288.1 605.6h0M283.8 595.3h0M298.8 593.8h0M290.4 594.6h0M297.2 605.6h0M291.3 598.9h0M295.7 606.7h0M289.6 613.9h0M292.6 606.2h0M287.0 589.0h0M301.6 597.9h0M289.8 606.6h0M285.1 593.5h0M295.7 593.5h0M285.8 593.4h0M286.1 612.2h0M301.6 601.5h0M297.3 605.8h0M289.1 608.2h0M290.2 605.2h0M288.0 605.2h0M293.6 593.8h0M292.0 596.4h0M279.8 609.8h0M295.6 594.2h0M291.0 610.6h0M298.7 597.0h0M285.7 601.1h0M293.6 590.8h0M289.6 600.8h0M286.7 602.0h0M296.1 602.9h0M281.7 608.6h0M282.6 598.7h0M293.7 603.1h0M286.9 598.5h0M285.8 615.8h0M290.1 602.7h0M297.0 589.0h0M284.7 593.5h0M291.1 603.7h0M288.6 589.3h0M291.5 601.2h0M289.0 613.0h0M289.8 615.8h0M292.2 595.7h0M279.2 596.2h0M288.1 593.1h0M296.1 612.8h0M289.3 594.3h0M287.7 617.2h0M284.7 601.6h0M299.4 598.8h0M295.7 600.4h0M281.7 609.2h0M295.7 606.4h0M284.5 615.7h0M283.5 593.8h0M296.4 593.8h0M294.5 607.5h0M281.6 600.0h0M289.1 608.4h0M285.3 612.2h0M284.1 591.3h0M290.2 591.1h0M295.7 600.8h0M287.9 617.7h0M292.0 587.8h0M284.4 607.2h0M283.4 591.5h0M283.7 604.3h0M301.0 600.0h0M279.5 603.4h0M290.4 587.7h0M291.4 607.9h0M300.9 593.8h0M294.3 596.9h0M283.1 611.1h0M300.8 593.3h0M287.3 601.9h0M291.7 606.0h0M291.9 612.5h0M286.9 595.3h0M291.1 593.5h0M289.0 600.1h0M300.7 596.1h0M294.0 594.3h0M282.5 601.0h0M295.7 601.4h0M294.5 591.8h0M282.8 597.1h0M291.6 616.6h0M297.5 597.8h0M284.9 602.7h0M300.2 596.9h0M282.2 605.7h0M289.7 588.0h0M292.8 588.9h0M288.2 612.4h0M286.5 598.5h0M293.5 613.4h0M290.7 617.3h0M301.5 599.4h0M287.0 613.1h0M288.4 591.0h0M289.3 602.3h0M293.0 590.0h0M291.1 610.8h0M289.0 614.6h0M294.7 598.2h0M297.5 597.2h0M286.3 590.8h0M287.8 612.4h0M283.7 614.7h0M285.7 608.1h0M288.3 600.3h0M285.8 593.1h0M282.3 601.3h0M286.2 594.0h0M287.3 596.9h0M297.8 590.2h0M296.3 609.1h0M292.2 600.5h0M290.1 591.5h0M293.0 600.4h0M298.2 599.2h0M282.3 600.7h0M300.3 603.9h0M289.5 592.2h0M293.8 600.9h0M350.6 576.9h0M371.3 578.1h0M361.8 577.0h0M346.3 574.0h0M360.9 576.3h0M370.2 578.7h0M349.9 576.7h0M370.2 578.9h0M376.0 579.1h0M375.5 578.1h0M336.8 575.2h0M341.6 575.2h0M370.9 577.9h0M367.2 578.3h0M353.0 575.8h0M376.4 578.9h0M351.2 575.9h0M378.8 579.6h0M370.3 577.7h0M361.6 576.7h0M362.6 577.0h0M342.7 575.0h0M373.5 580.3h0M374.1 578.4h0M366.7 576.9h0M354.3 577.8h0M367.4 577.7h0M370.0 577.4h0M348.8 574.7h0M353.0 574.8h0M352.2 575.2h0M337.7 574.7h0M336.2 574.3h0M344.1 574.8h0M356.4 578.3h0M336.7 576.1h0M346.5 574.7h0" stroke="#008000" stroke-opacity="0.4" stroke-width="3.8" stroke-linecap="round" fill="none"/>
<path d="M269.7 565.6h0M265.7 580.2h0M280.8 547.9h0M269.2 588.9h0M255.9 588.4h0M250.6 574.3h0M261.2 578.0h0M250.7 558.7h0M266.6 589.8h0M264.4 570.3h0M253.3 565.1h0M251.4 573.7h0M267.4 558.9h0M272.9 566.5h0M262.0 594.9h0M248.7 564.7h0M262.9 590.9h0M249.2 553.0h0M255.4 567.3h0M250.4 558.4h0M264.3 546.0h0M288.9 550.5h0M283.1 567.2h0M284.4 570.5h0M254.7 574.9h0M256.0 571.8h0M255.3 555.1h0M259.0 541.4h0M261.4 595.8h0M280.8 562.7h0M264.1 544.5h0M257.8 555.8h0M264.9 551.0h0M278.6 542.3h0M282.2 552.8h0M260.2 547.6h0M278.3 561.5h0M263.7 567.4h0M256.1 543.0h0M271.9 548.5h0M279.1 551.4h0M264.3 551.6h0M263.1 590.2h0M273.1 572.5h0M251.3 565.7h0M278.6 563.3h0M281.5 545.1h0M256.3 561.6h0M268.5 586.7h0M287.2 556.3h0M267.2 545.4h0M269.6 575.9h0M284.9 570.1h0M284.1 550.1h0M266.5 548.8h0M287.8 566.9h0M250.8 578.7h0M266.7 576.2h0M267.9 564.3h0M265.6 590.6h0M256.5 559.0h0M251.8 580.5h0M270.3 552.4h0M252.8 562.3h0M280.7 561.0h0M255.0 568.9h0M262.0 585.7h0M279.0 547.4h0M285.7 558.4h0M261.1 544.0h0M290.0 561.1h0M280.9 550.5h0M255.9 563.6h0M261.3 590.3h0M279.6 555.6h0M259.4 576.9h0M253.6 558.0h0M253.3 553.7h0M274.2 560.1h0M284.3 565.7h0M268.1 561.3h0M282.4 557.3h0M261.3 545.1h0M270.4 571.7h0M288.7 558.9h0M274.6 545.5h0M247.6 557.8h0M269.2 585.4h0M270.1 585.9h0M252.1 579.9h0M259.4 567.0h0M278.0 542.7h0M253.6 565.8h0M280.3 551.9h0M251.8 577.0h0M266.3 591.6h0M248.3 556.1h0M276.8 549.2h0M248.3 579.7h0M268.9 544.4h0M267.3 558.5h0M267.8 563.6h0M263.6 586.9h0M253.4 554.7h0M256.8 573.2h0M275.1 561.1h0M259.1 582.9h0M271.5 556.4h0M253.9 583.6h0M250.3 556.5h0M264.3 566.9h0M248.3 568.0h0M257.8 557.0h0M277.0 558.8h0M262.1 554.6h0M245.6 554.8h0M258.1 583.0h0M253.2 552.7h0M287.0 546.3h0M251.2 577.9h0M252.5 581.5h0M263.4 575.9h0M278.3 547.0h0M271.0 550.7h0M248.5 565.2h0M254.6 586.7h0M263.2 575.0h0M282.1 557.4h0M255.7 559.7h0M280.9 554.8h0M258.6 579.7h0M267.3 581.1h0M279.6 545.8h0M268.8 562.5h0M287.7 568.1h0M277.4 565.4h0M267.6 552.8h0M257.1 552.0h0M251.1 555.6h0M257.4 590.7h0M251.6 553.9h0M263.7 576.3h0M282.4 560.3h0M288.6 557.1h0M258.8 555.6h0M280.2 565.3h0M255.4 561.4h0M258.8 541.5h0M260.9 566.3h0M269.3 547.9h0M286.7 547.5h0M255.3 572.3h0M254.2 546.8h0M272.6 559.0h0M267.2 592.8h0M272.7 548.1h0M262.4 563.7h0M263.1 563.3h0M268.1 546.6h0M272.7 547.7h0M280.8 566.8h0M255.0 583.1h0M255.8 555.7h0M260.1 555.8h0M288.2 558.4h0M265.0 545.6h0M251.0 580.7h0M267.8 571.8h0M248.3 572.0h0M276.3 548.6h0M256.6 563.9h0M273.7 560.3h0M285.3 557.1h0M255.8 561.6h0M279.4 545.4h0M256.7 572.6h0M249.5 582.0h0M259.3 577.1h0M264.0 556.5h0M285.7 560.0h0M251.7 543.7h0M253.2 549.5h0M252.8 542.1h0M277.1 541.6h0M270.4 563.3h0M267.6 559.5h0M251.1 550.9h0M265.3 547.7h0M280.7 566.6h0M271.7 548.7h0M264.6 590.3h0M257.7 551.4h0M265.5 566.3h0M255.1 569.0h0M248.3 568.8h0M282.7 549.7h0M261.8 584.9h0M262.2 555.3h0M259.7 541.1h0M246.3 556.1h0M267.5 558.3h0M262.9 549.2h0M259.2 561.1h0M282.5 538.8h0M279.2 559.0h0M255.2 583.0h0M260.7 554.6h0M283.2 566.2h0M251.4 553.2h0M260.4 560.6h0M281.6 543.3h0M258.0 588.4h0M250.4 555.4h0M251.0 546.8h0M271.3 547.6h0M288.8 556.1h0M257.9 564.9h0M269.5 582.4h0M270.8 551.7h0M291.7 549.7h0M267.8 557.1h0M265.0 581.3h0M260.8 579.7h0M267.9 552.8h0M249.3 566.4h0M263.4 593.0h0M271.9 544.6h0M257.2 559.6h0M254.6 585.8h0M260.0 546.5h0M257.7 583.0h0M276.3 544.2h0M278.2 561.8h0M287.7 547.8h0M274.3 541.0h0M277.1 555.2h0M260.8 574.8h0M281.0 546.0h0M258.5 568.9h0M258.6 543.4h0M250.3 547.4h0M257.7 558.6h0M253.7 545.1h0M253.2 565.2h0M265.7 557.7h0M262.2 564.1h0M253.1 551.0h0M254.8 589.1h0M266.4 592.4h0M282.0 554.9h0M280.9 545.6h0M257.2 586.8h0M255.6 563.7h0M254.7 568.2h0M264.6 591.4h0M262.2 549.6h0M253.4 563.6h0M286.7 555.6h0M268.5 561.8h0M253.9 549.0h0M263.5 557.0h0M264.9 542.7h0M279.6 549.4h0M267.0 566.8h0M267.1 545.7h0M285.0 542.6h0M286.8 566.7h0M286.5 540.1h0M280.8 537.7h0M287.4 568.2h0M279.4 553.2h0M298.2 541.7h0M290.3 541.3h0M293.5 539.3h0M292.3 547.0h0M283.0 541.5h0M298.4 541.0h0M287.1 565.6h0M280.3 557.4h0M298.1 550.1h0M309.2 537.6h0M295.2 541.9h0M292.9 549.5h0M284.8 539.5h0M282.2 551.5h0M311.0 536.7h0M284.1 566.9h0M300.0 540.1h0M280.6 555.6h0M287.6 560.1h0M278.5 550.6h0M295.1 550.2h0M284.8 540.6h0M275.7 553.5h0M292.2 555.6h0M304.7 543.1h0M281.4 538.8h0M292.0 558.5h0M302.3 542.5h0M290.5 552.7h0M302.4 539.1h0M293.9 543.9h0M303.0 540.8h0M283.8 552.1h0M291.2 540.6h0M306.9 538.4h0M296.0 548.5h0M290.8 558.1h0M284.5 538.6h0M290.5 543.4h0M300.4 543.9h0M289.8 556.7h0M291.8 558.3h0M303.5 541.6h0M298.6 546.3h0M278.6 549.8h0M282.2 551.4h0M282.7 537.8h0M291.4 546.0h0M282.5 566.6h0M305.9 537.9h0M299.7 541.2h0M289.9 559.7h0M288.0 546.1h0M291.1 540.4h0M296.9 551.7h0M291.7 541.2h0M297.6 547.7h0M309.8 538.1h0M286.1 559.5h0M291.6 542.1h0M286.9 539.9h0M278.5 556.7h0M289.3 538.5h0M298.2 546.6h0M280.4 559.3h0M289.7 568.1h0M286.5 538.1h0M291.9 542.4h0M286.0 541.4h0M297.9 543.1h0M293.7 556.2h0M286.9 552.9h0M278.5 552.7h0M290.7 547.6h0M303.1 545.8h0M286.6 558.2h0M288.5 554.0h0M293.5 550.8h0M283.1 549.3h0M277.1 541.9h0M288.0 544.5h0M291.0 565.1h0M298.1 545.4h0M281.8 560.5h0M283.5 564.6h0M279.8 556.0h0M276.1 540.0h0M306.9 538.7h0M286.0 571.2h0M300.6 547.1h0M296.0 545.4h0M299.0 540.3h0M306.5 539.1h0M302.4 542.5h0M285.8 546.9h0M294.1 557.5h0M284.4 563.0h0M287.8 565.6h0M279.9 539.1h0M287.4 552.6h0M301.0 544.4h0M279.4 556.0h0M290.2 554.4h0M281.4 564.3h0M286.9 556.5h0M296.1 553.4h0M293.4 554.5h0M292.8 557.3h0M291.5 552.8h0M286.1 544.3h0M298.8 548.9h0M280.9 549.2h0M279.2 545.6h0M288.2 554.5h0M276.4 539.9h0M287.8 559.3h0M281.9 539.5h0M283.7 541.6h0M284.6 543.0h0M287.8 560.9h0M295.6 540.2h0M282.8 540.0h0M277.7 550.4h0M280.8 551.0h0M281.2 550.2h0M281.5 548.8h0M291.9 549.6h0M301.7 541.3h0M287.9 537.7h0M282.0 548.0h0M291.6 562.2h0M284.3 538.3h0M306.7 541.5h0M305.8 542.0h0M302.9 541.9h0M278.0 540.3h0M299.6 544.3h0M287.0 539.3h0M289.3 595.2h0M285.5 601.3h0M282.9 609.0h0M289.7 587.9h0M299.2 597.1h0M296.5 605.2h0M288.7 603.5h0M294.9 599.2h0M292.9 610.5h0M294.0 614.4h0M300.4 602.6h0M301.7 594.9h0M281.7 606.9h0M286.3 594.7h0M283.4 607.0h0M301.6 593.4h0M297.2 610.0h0M295.9 598.1h0M281.5 612.8h0M296.9 600.4h0M293.7 593.9h0M287.5 615.9h0M296.9 607.5h0M285.2 600.0h0M285.0 603.9h0M289.6 618.6h0M301.4 597.9h0M296.5 603.3h0M299.8 599.0h0M295.6 598.9h0M286.5 609.4h0M285.9 610.7h0M296.5 595.1h0M289.1 590.8h0M292.4 601.2h0M291.5 614.5h0M284.7 605.8h0M297.7 594.7h0M299.0 598.5h0M282.0 600.3h0M284.8 600.1h0M295.1 612.8h0M299.8 605.3h0M290.9 594.5h0M280.9 595.9h0M297.4 602.6h0M289.2 588.4h0M294.7 607.8h0M288.0 609.9h0M299.9 599.6h0M298.0 593.7h0M290.1 587.9h0M290.7 598.2h0M295.5 596.8h0M291.9 598.0h0M285.3 607.0h0M289.0 589.3h0M289.3 599.1h0M291.5 601.6h0M292.3 614.4h0M291.6 603.8h0M302.1 593.6h0M286.4 598.3h0M284.0 591.9h0M296.1 593.8h0M283.7 591.0h0M290.3 615.5h0M291.5 611.2h0M294.4 596.0h0M287.6 596.0h0M300.4 591.8h0M286.5 590.9h0M298.2 600.0h0M296.7 601.1h0M298.6 591.1h0M283.3 614.8h0M286.6 614.0h0M297.3 600.3h0M300.9 599.6h0M293.9 592.8h0M283.4 614.0h0M303.0 599.8h0M290.4 591.5h0M288.7 594.6h0M292.0 589.4h0M287.9 611.7h0M296.0 605.3h0M291.3 615.6h0M280.7 603.7h0M301.4 602.1h0M294.3 613.6h0M294.9 590.9h0M280.6 604.0h0M281.2 600.8h0M303.2 595.4h0M289.3 607.5h0M292.8 600.7h0M290.9 606.2h0M300.6 599.4h0M294.4 593.2h0M291.3 592.2h0M294.4 607.2h0M301.4 593.8h0M282.6 597.7h0M280.8 604.3h0M284.2 615.6h0M282.9 615.1h0M292.3 589.8h0M285.1 597.0h0M290.3 609.5h0M283.7 595.9h0M289.2 590.7h0M292.1 592.3h0M294.6 614.9h0M280.0 596.7h0M280.9 597.4h0M294.8 601.6h0M291.8 595.7h0M293.3 600.0h0M290.9 589.2h0M291.4 600.2h0M291.6 611.2h0M297.2 591.7h0M295.8 598.7h0M295.7 592.1h0M280.6 601.6h0M288.9 609.0h0M289.1 592.6h0M285.9 592.5h0M299.4 607.0h0M297.6 602.7h0M289.7 596.6h0M284.8 598.7h0M284.0 605.3h0M280.1 608.3h0M298.1 596.4h0M281.4 597.7h0M287.5 613.9h0M286.9 592.5h0M297.4 588.0h0M282.1 608.2h0M283.9 594.7h0M294.3 594.3h0M296.6 589.0h0M290.8 589.2h0M278.4 600.3h0M297.9 601.4h0M291.8 604.3h0M290.7 602.8h0M294.5 607.4h0M294.8 609.2h0M300.7 600.8h0M289.7 609.6h0M286.5 603.9h0M301.7 592.8h0M292.2 593.2h0M291.6 595.6h0M293.8 593.8h0M293.8 594.9h0M286.2 615.6h0M280.6 598.9h0M287.2 602.6h0M296.6 591.6h0M296.6 591.9h0M301.4 596.0h0M296.3 591.9h0M282.9 595.4h0M288.1 589.2h0M286.4 602.6h0M290.5 592.5h0M285.2 612.0h0M290.3 603.9h0M286.4 614.4h0M292.2 609.4h0M296.8 589.8h0M298.3 608.6h0M291.9 602.8h0M295.4 608.0h0M296.2 595.9h0M290.5 594.2h0M292.8 605.9h0M298.4 602.4h0M288.7 597.0h0M280.2 608.6h0M287.9 595.6h0M282.6 597.4h0M283.5 596.3h0M293.7 593.4h0M373.7 578.3h0M359.0 577.0h0M362.6 577.5h0M376.6 578.5h0M364.9 577.6h0M337.9 575.8h0M365.0 577.7h0M378.3 578.3h0M374.0 578.5h0M336.6 574.3h0M366.4 578.5h0M360.6 576.3h0M360.3 576.6h0M375.7 578.7h0M361.7 578.5h0M356.4 576.7h0M361.2 577.6h0M364.8 577.4h0M367.0 579.1h0M355.6 576.3h0M336.4 575.4h0M366.9 576.2h0M377.6 577.8h0M374.6 578.3h0M365.2 578.9h0M344.3 575.2h0M370.1 578.4h0M375.6 578.9h0M347.6 574.7h0M338.9 574.1h0M356.3 577.1h0M364.8 577.9h0M338.0 574.4h0" stroke="#008000" stroke-opacity="0.4" stroke-width="3.8" stroke-linecap="round" fill="none"/>
<path d="M255.7 584.9h0M287.3 545.1h0M266.7 552.1h0M288.9 549.7h0M254.6 557.8h0M247.5 564.9h0M262.0 579.4h0M280.9 559.4h0M274.7 551.0h0M260.0 576.7h0M252.8 547.4h0M286.8 553.8h0M254.4 545.7h0M271.4 546.7h0M253.3 584.4h0M250.0 554.4h0M261.3 580.8h0M253.1 550.8h0M271.4 568.7h0M245.9 549.1h0M256.3 539.8h0M258.9 551.7h0M271.0 594.3h0M254.9 552.6h0M260.5 580.8h0M264.3 595.3h0M281.5 548.1h0M268.6 587.0h0M257.5 545.2h0M256.0 562.4h0M257.6 545.7h0M259.8 556.8h0M273.2 551.2h0M260.5 583.7h0M256.0 561.7h0M267.7 558.5h0M289.7 560.9h0M257.2 588.4h0M256.1 564.8h0M257.6 564.7h0M266.5 547.0h0M258.9 553.8h0M259.4 541.6h0M277.3 559.0h0M249.5 570.4h0M256.9 553.3h0M265.1 593.5h0M263.9 569.0h0M266.3 565.5h0M284.2 565.5h0M250.9 554.7h0M272.2 557.4h0M264.9 552.0h0M261.3 565.3h0M263.2 559.3h0M251.9 573.9h0M259.3 570.8h0M283.3 564.6h0M280.8 551.2h0M261.9 576.8h0M260.7 568.9h0M267.3 571.4h0M250.0 583.7h0M271.5 543.8h0M268.5 566.2h0M284.4 561.5h0M277.8 548.7h0M254.6 572.5h0M262.3 547.6h0M270.3 566.1h0M257.0 583.7h0M256.6 546.1h0M254.6 584.4h0M270.3 592.7h0M271.8 548.1h0M257.2 566.6h0M262.2 577.9h0M284.3 551.3h0M248.1 575.1h0M264.9 563.8h0M254.6 582.9h0M267.2 576.5h0M260.0 591.8h0M256.1 589.6h0M277.9 546.7h0M250.9 559.6h0M276.6 565.6h0M255.3 541.8h0M289.5 558.4h0M263.9 589.9h0M268.2 571.0h0M273.4 547.3h0M289.6 550.3h0M281.9 562.3h0M258.4 550.0h0M287.3 563.6h0M285.5 566.5h0M268.5 545.8h0M273.7 541.2h0M262.5 545.3h0M253.1 570.7h0M247.9 565.7h0M275.5 540.4h0M266.6 592.9h0M286.2 542.5h0M280.3 562.1h0M281.2 552.8h0M290.6 549.4h0M263.4 552.9h0M249.9 564.4h0M262.9 557.4h0M258.9 581.1h0M259.6 562.4h0M275.3 561.1h0M269.9 593.4h0M258.5 572.6h0M267.6 566.0h0M269.0 564.2h0M278.1 565.7h0M280.3 561.8h0M273.9 566.1h0M270.0 580.6h0M262.2 572.2h0M285.4 562.7h0M284.9 553.2h0M283.9 539.1h0M286.0 565.6h0M250.1 555.2h0M279.9 562.8h0M265.5 568.2h0M254.1 592.1h0M287.7 554.8h0M279.8 547.8h0M287.4 547.8h0M270.7 549.2h0M272.1 593.6h0M257.8 568.5h0M276.7 544.8h0M258.5 547.5h0M280.6 567.5h0M247.4 569.3h0M285.1 540.9h0M261.6 572.6h0M256.1 568.9h0M252.6 573.3h0M270.5 562.7h0M268.7 541.4h0M272.8 559.0h0M276.7 555.8h0M263.2 572.2h0M262.6 586.0h0M258.2 575.3h0M254.6 584.8h0M250.7 550.4h0M270.1 593.4h0M260.2 590.4h0M251.0 555.3h0M265.0 575.8h0M250.5 570.4h0M256.2 560.4h0M257.0 582.0h0M283.7 552.4h0M261.9 547.7h0M254.7 583.6h0M276.6 548.6h0M268.3 566.6h0M255.3 590.0h0M260.4 575.7h0M280.0 566.4h0M288.6 558.7h0M285.9 564.3h0M252.6 573.9h0M260.8 576.4h0M256.3 590.5h0M283.0 546.6h0M268.4 569.1h0M266.9 581.7h0M252.2 558.9h0M271.9 551.9h0M250.7 567.4h0M266.1 563.9h0M252.1 546.7h0M284.7 551.8h0M277.4 553.7h0M264.1 569.8h0M260.7 556.8h0M286.8 557.2h0M271.5 560.3h0M286.2 548.9h0M261.3 585.0h0M285.2 547.0h0M251.0 553.2h0M278.9 551.7h0M276.0 548.4h0M271.5 567.3h0M272.4 572.2h0M260.9 577.0h0M278.9 548.1h0M259.3 592.2h0M288.0 544.2h0M253.8 567.5h0M274.4 543.4h0M267.5 580.4h0M255.5 547.0h0M263.9 564.3h0M263.0 545.2h0M261.7 573.7h0M291.3 556.0h0M262.9 562.8h0M281.6 559.3h0M253.4 589.5h0M285.5 563.0h0M265.0 587.9h0M288.2 560.5h0M277.1 543.8h0M254.6 561.9h0M277.8 557.9h0M285.9 541.2h0M265.7 569.5h0M281.2 544.9h0M253.9 553.5h0M254.6 570.2h0M281.7 540.7h0M254.3 553.7h0M273.9 554.5h0M254.1 559.9h0M266.9 559.1h0M286.8 562.7h0M273.3 544.3h0M260.0 559.3h0M285.7 558.4h0M264.1 564.0h0M263.8 556.2h0M258.4 566.5h0M264.0 553.6h0M282.7 565.4h0M246.9 554.2h0M256.7 545.7h0M267.3 543.9h0M250.6 574.1h0M284.9 566.3h0M253.6 562.0h0M263.7 553.8h0M262.6 583.4h0M257.5 568.3h0M290.6 551.8h0M296.0 545.5h0M281.8 549.7h0M283.5 563.1h0M285.8 542.0h0M290.9 547.1h0M284.5 549.9h0M304.3 544.0h0M293.4 547.4h0M283.2 555.7h0M278.5 548.4h0M312.4 538.9h0M295.1 546.0h0M280.7 545.4h0M280.1 542.5h0M300.7 547.3h0M285.0 543.7h0M292.4 552.2h0M307.6 538.5h0M280.2 557.1h0M284.9 541.4h0M291.5 559.5h0M285.2 566.0h0M303.4 543.0h0M285.9 568.0h0M279.0 554.4h0M280.6 559.1h0M287.5 536.2h0M293.3 541.6h0M294.9 553.6h0M287.7 551.0h0M296.2 538.6h0M304.7 535.6h0M285.2 562.5h0M289.0 562.4h0M281.5 560.7h0M305.8 542.8h0M283.0 542.8h0M289.8 564.9h0M291.5 552.3h0M304.8 543.8h0M276.6 549.6h0M281.8 551.6h0M295.5 538.6h0M299.9 542.1h0M291.6 546.6h0M293.5 539.4h0M286.6 552.7h0M294.4 555.4h0M300.2 538.8h0M280.8 549.4h0M287.8 559.2h0M294.8 544.4h0M311.3 538.3h0M280.7 538.6h0M278.4 543.7h0M285.5 568.5h0M293.5 539.4h0M278.7 543.3h0M288.4 559.5h0M288.3 550.0h0M284.2 545.8h0M292.8 551.7h0M286.3 540.5h0M281.7 551.1h0M290.3 560.3h0M289.0 566.1h0M293.6 561.3h0M287.2 552.9h0M288.2 544.9h0M287.4 540.4h0M286.6 553.3h0M283.7 557.1h0M283.0 545.6h0M282.8 554.4h0M311.9 536.8h0M301.0 543.9h0M294.1 555.5h0M306.4 544.6h0M281.7 541.0h0M290.1 545.9h0M285.4 544.6h0M284.0 562.2h0M301.7 541.4h0M286.2 542.8h0M278.2 541.2h0M284.2 550.0h0M309.4 540.2h0M285.6 544.2h0M292.4 551.0h0M282.7 543.0h0M281.3 553.5h0M305.1 541.1h0M276.4 557.1h0M296.2 553.4h0M282.3 545.2h0M278.2 538.8h0M288.7 558.4h0M279.6 553.6h0M298.3 545.4h0M290.8 560.2h0M286.5 548.1h0M288.6 558.8h0M284.7 559.7h0M297.2 553.8h0M293.5 550.7h0M282.6 543.2h0M281.7 550.3h0M281.5 545.8h0M292.3 545.4h0M292.9 553.9h0M291.6 544.5h0M288.9 544.6h0M288.4 540.3h0M281.6 548.0h0M284.8 553.8h0M292.1 544.1h0M291.7 542.5h0M284.5 558.1h0M285.6 552.2h0M281.2 559.5h0M281.9 563.2h0M277.3 538.7h0M284.0 563.7h0M285.9 561.3h0M302.4 543.8h0M304.9 542.8h0M291.3 553.3h0M288.4 548.2h0M308.5 542.5h0M288.3 567.8h0M291.7 541.8h0M280.8 557.5h0M284.7 559.9h0M310.0 540.0h0M292.7 557.9h0M284.2 545.1h0M282.3 551.2h0M300.8 548.4h0M276.7 558.1h0M289.9 543.2h0M306.2 540.3h0M279.7 543.6h0M279.1 556.6h0M285.3 566.4h0M288.9 538.4h0M277.2 539.2h0M286.8 553.8h0M288.2 590.8h0M293.8 613.4h0M294.4 600.4h0M296.2 596.2h0M294.7 608.1h0M294.0 602.4h0M285.3 602.1h0M295.1 600.2h0M285.1 619.0h0M297.3 603.5h0M284.1 595.2h0M281.1 603.8h0M293.4 594.7h0M281.9 606.5h0M292.7 599.5h0M299.8 594.6h0M281.8 605.2h0M281.7 598.5h0M281.9 598.7h0M293.6 601.6h0M287.6 615.0h0M295.8 596.8h0M295.1 596.8h0M287.7 590.0h0M286.6 609.7h0M291.8 612.7h0M285.0 606.7h0M300.7 597.8h0M294.0 597.4h0M298.4 596.5h0M288.4 590.6h0M288.2 591.2h0M293.0 613.2h0M297.6 608.0h0M291.7 597.5h0M282.9 597.8h0M280.4 602.9h0M289.5 610.9h0M286.3 592.9h0M288.5 615.0h0M287.6 592.6h0M294.2 596.3h0M294.4 598.0h0M287.1 600.4h0M300.1 598.3h0M296.2 589.9h0M290.5 610.0h0M289.9 598.2h0M280.4 601.8h0M303.3 595.6h0M298.6 605.6h0M301.5 597.6h0M294.8 595.0h0M295.7 602.1h0M295.5 606.1h0M293.7 602.5h0M294.8 605.5h0M288.6 602.3h0M297.8 608.5h0M284.5 609.2h0M291.5 595.7h0M293.2 592.1h0M290.4 604.9h0M281.6 614.0h0M283.7 604.3h0M291.7 605.4h0M292.7 605.6h0M295.1 592.5h0M291.2 597.4h0M292.4 613.4h0M294.7 600.3h0M289.4 607.8h0M294.2 589.8h0M290.1 601.5h0M292.5 604.7h0M288.3 607.6h0M291.8 600.5h0M296.3 590.0h0M284.2 601.0h0M293.6 594.1h0M290.0 613.4h0M284.8 609.1h0M288.0 615.5h0M281.8 608.8h0M301.3 593.6h0M281.9 608.4h0M289.7 595.0h0M296.2 596.9h0M292.5 600.9h0M296.4 606.2h0M300.9 597.6h0M289.1 604.2h0M287.3 611.1h0M284.7 604.1h0M287.0 610.2h0M291.4 594.2h0M295.3 598.4h0M293.3 598.5h0M300.7 600.7h0M286.5 615.1h0M284.0 598.4h0M291.4 589.9h0M292.3 611.2h0M287.0 612.1h0M299.0 596.9h0M289.6 593.4h0M289.9 588.7h0M279.0 601.7h0M297.3 601.3h0M294.5 599.5h0M295.4 597.9h0M281.1 597.9h0M283.8 595.0h0M281.3 609.1h0M290.8 601.6h0M291.9 615.8h0M293.4 590.5h0M292.6 602.1h0M300.1 597.0h0M291.4 605.3h0M299.1 601.5h0M296.6 599.1h0M285.1 609.4h0M293.3 610.2h0M294.0 611.0h0M299.0 603.0h0M292.6 602.2h0M298.7 594.9h0M294.9 592.1h0M298.4 598.9h0M290.6 597.5h0M282.2 610.7h0M295.4 610.4h0M296.8 593.6h0M283.7 610.3h0M295.6 601.2h0M290.6 591.9h0M287.4 601.3h0M298.2 593.4h0M288.3 589.9h0M289.5 601.6h0M288.4 608.2h0M300.4 602.7h0M282.1 599.6h0M287.6 613.7h0M281.6 604.3h0M288.2 589.1h0M285.5 593.2h0M299.3 601.4h0M295.0 593.6h0M282.9 606.5h0M290.6 617.8h0M294.2 596.6h0M293.2 603.9h0M298.8 602.4h0M286.1 593.4h0M284.6 606.0h0M295.9 609.5h0M291.9 594.7h0M289.4 617.1h0M288.3 616.7h0M365.8 577.9h0M353.8 576.6h0M365.6 576.3h0M375.6 579.0h0M353.1 577.0h0M358.2 577.7h0M372.1 578.8h0M374.2 578.8h0M378.2 579.8h0M338.6 575.8h0M378.2 578.0h0M372.4 578.5h0M369.0 578.1h0M345.2 575.5h0M347.6 575.8h0M356.1 577.2h0M367.4 578.4h0M336.5 575.3h0M367.8 577.8h0M378.4 578.9h0M357.5 575.5h0M375.6 577.9h0M378.4 578.0h0M338.4 575.7h0M347.6 574.8h0M352.3 574.2h0M365.4 576.9h0M360.5 577.6h0M369.9 579.7h0M343.0 574.9h0M367.8 578.5h0" stroke="#008000" stroke-opacity="0.4" stroke-width="3.8" stroke-linecap="round" fill="none"/>
<path d="M262.4 545.2h0M256.7 555.8h0M272.1 550.1h0M265.4 569.1h0M268.9 545.1h0M255.9 590.1h0M261.4 590.9h0M268.7 555.5h0M285.8 560.9h0M257.8 550.5h0M266.0 590.3h0M247.9 552.5h0M255.5 546.2h0M276.8 560.0h0M279.9 549.1h0M272.1 567.8h0M258.9 559.0h0M266.4 576.8h0M274.0 564.8h0M267.3 547.5h0M276.9 561.9h0M261.0 578.4h0M271.5 547.8h0M259.5 571.2h0M263.6 574.9h0M263.7 553.4h0M266.6 581.7h0M266.5 544.6h0M250.0 558.3h0M271.4 545.9h0M264.4 583.9h0M254.1 581.2h0M273.8 557.8h0M248.2 548.6h0M280.2 542.3h0M275.9 555.1h0M265.7 562.1h0M279.6 544.2h0M249.9 565.3h0M273.7 560.8h0M281.7 567.2h0M250.5 553.0h0M264.9 556.5h0M260.7 563.2h0M253.7 548.0h0M285.9 557.5h0M264.0 580.5h0M285.7 559.8h0M258.7 591.3h0M267.3 544.8h0M251.8 552.0h0M257.9 585.9h0M253.6 556.8h0M250.4 570.6h0M254.0 562.0h0M250.8 549.8h0M251.0 554.6h0M273.3 554.6h0M263.8 566.6h0M270.6 547.4h0M278.1 552.4h0M255.1 586.2h0M257.0 563.1h0M283.9 565.7h0M277.5 544.1h0M246.2 562.2h0M285.5 568.3h0M280.4 541.6h0M287.6 540.4h0M275.0 558.4h0M260.1 551.2h0M248.9 556.4h0M250.2 559.8h0M286.8 542.8h0M267.2 567.5h0M258.6 579.3h0M287.7 559.3h0M256.1 591.0h0M279.5 564.2h0M262.2 556.6h0M251.9 573.3h0M262.9 544.1h0M262.9 550.7h0M263.3 569.3h0M257.4 583.8h0M290.4 546.5h0M252.2 569.5h0M263.5 589.8h0M255.1 590.9h0M277.9 558.5h0M258.2 560.8h0M268.5 579.2h0M286.4 558.2h0M270.1 557.4h0M252.8 563.2h0M247.5 554.3h0M263.9 573.5h0M267.9 551.2h0M263.1 581.4h0M254.7 546.0h0M266.0 571.2h0M262.7 562.9h0M277.3 542.6h0M280.6 551.8h0M252.8 557.0h0M265.8 580.7h0M261.6 584.4h0M254.0 578.3h0M260.3 550.3h0M287.7 563.1h0M258.4 581.9h0M259.7 547.0h0M257.8 585.8h0M267.8 587.4h0M266.7 542.9h0M262.7 553.2h0M256.3 553.6h0M279.4 554.7h0M286.2 541.8h0M287.0 550.9h0M267.8 550.7h0M282.2 542.1h0M270.2 582.4h0M258.0 566.2h0M249.7 576.7h0M283.1 569.5h0M251.5 555.1h0M259.3 568.6h0M279.3 552.5h0M246.7 559.7h0M254.8 565.2h0M268.9 596.2h0M264.1 593.9h0M251.9 560.4h0M268.0 583.2h0M287.0 566.5h0M262.4 583.4h0M265.4 582.0h0M255.3 565.9h0M262.8 581.6h0M281.8 560.8h0M262.8 589.5h0M261.8 576.4h0M267.9 546.9h0M264.1 558.3h0M283.9 566.3h0M249.8 546.3h0M274.7 543.7h0M260.4 560.4h0M266.3 594.4h0M254.8 564.3h0M264.7 587.9h0M280.7 564.5h0M257.8 561.2h0M261.2 590.3h0M249.1 553.2h0M284.2 548.7h0M256.5 551.9h0M252.4 590.1h0M275.9 558.0h0M255.5 574.1h0M267.3 551.3h0M257.8 574.7h0M247.0 572.8h0M285.0 548.2h0M282.5 557.6h0M253.7 593.0h0M261.0 578.1h0M262.1 556.0h0M270.1 594.4h0M245.8 548.3h0M247.4 556.3h0M251.4 557.5h0M261.6 552.7h0M285.1 565.9h0M257.5 556.7h0M268.9 582.7h0M273.1 553.7h0M286.5 565.7h0M265.6 575.3h0M278.3 546.9h0M278.8 559.0h0M259.3 584.1h0M288.3 545.8h0M261.1 557.1h0M271.4 547.5h0M287.9 564.5h0M279.9 567.1h0M272.9 543.4h0M290.6 550.2h0M267.2 573.5h0M258.1 583.6h0M253.1 583.0h0M271.6 560.8h0M284.8 542.8h0M255.3 589.2h0M275.2 560.3h0M272.3 552.5h0M256.3 567.0h0M278.6 564.6h0M254.0 575.8h0M274.9 545.7h0M282.5 569.2h0M261.8 586.0h0M262.9 548.6h0M271.9 570.8h0M256.7 550.0h0M257.8 588.8h0M256.6 583.3h0M271.2 558.7h0M281.4 556.0h0M279.1 567.5h0M259.3 587.1h0M284.3 558.7h0M255.9 562.8h0M282.5 541.9h0M252.6 566.4h0M261.9 562.6h0M265.3 566.7h0M272.6 545.9h0M279.2 540.5h0M285.7 549.7h0M286.5 557.2h0M265.3 553.6h0M288.2 546.8h0M260.8 592.0h0M275.5 562.1h0M263.2 589.4h0M271.4 542.9h0M247.5 567.1h0M250.7 544.5h0M261.6 591.0h0M250.5 564.7h0M252.2 580.5h0M270.7 578.6h0M251.4 551.0h0M278.5 549.2h0M263.4 583.5h0M253.1 563.1h0M250.9 549.5h0M278.8 563.6h0M252.9 574.4h0M247.2 544.0h0M268.7 547.3h0M273.8 564.3h0M267.3 575.4h0M285.9 540.2h0M277.2 541.2h0M278.6 544.2h0M281.5 540.1h0M299.1 538.6h0M289.6 564.0h0M289.2 557.5h0M283.3 538.9h0M286.3 568.8h0M301.5 547.1h0M285.4 547.3h0M294.7 551.2h0M293.4 540.5h0M288.2 562.1h0M279.1 544.0h0M284.4 538.1h0M288.6 544.2h0M297.3 546.3h0M289.2 567.0h0M310.9 535.3h0M280.8 560.0h0M285.1 551.3h0M284.1 565.1h0M283.3 544.3h0M292.0 547.7h0M296.6 539.0h0M282.8 549.4h0M287.1 565.6h0M304.9 538.1h0M280.5 539.6h0M293.7 538.7h0M283.3 548.0h0M288.2 545.6h0M294.4 544.8h0M277.0 551.6h0M304.3 537.7h0M290.5 559.7h0M284.0 566.3h0M296.4 543.9h0M285.0 555.1h0M296.4 543.5h0M291.5 556.3h0M283.3 557.1h0M304.4 539.8h0M284.3 553.9h0M285.3 558.4h0M278.6 540.9h0M281.4 556.7h0M301.2 548.2h0M296.0 549.6h0M284.2 551.3h0M296.0 545.2h0M287.8 562.4h0M290.1 566.5h0M286.7 539.3h0M285.2 548.1h0M289.3 549.3h0M278.5 554.8h0M299.4 544.4h0M283.7 542.9h0M293.7 557.9h0M290.2 565.0h0M295.3 542.0h0M290.0 540.5h0M283.2 560.1h0M303.0 541.1h0M281.5 558.4h0M292.6 553.3h0M285.3 536.4h0M288.0 561.5h0M286.0 568.2h0M294.6 547.1h0M284.9 556.1h0M291.4 545.6h0M284.3 553.4h0M307.1 536.6h0M277.3 540.2h0M276.7 550.3h0M284.1 546.6h0M288.0 547.3h0M311.7 539.0h0M290.2 554.0h0M283.1 565.3h0M298.1 551.5h0M281.7 536.9h0M286.4 559.6h0M283.7 539.3h0M282.1 555.4h0M283.0 547.0h0M283.8 566.6h0M287.4 559.1h0M279.3 538.0h0M287.0 561.6h0M306.9 538.9h0M311.5 535.8h0M281.3 563.1h0M284.2 538.8h0M290.3 546.0h0M303.5 545.6h0M298.3 548.8h0M297.6 544.5h0M292.4 562.6h0M298.1 546.6h0M294.0 550.9h0M283.2 542.3h0M285.3 548.7h0M292.5 553.9h0M305.9 541.0h0M293.8 547.5h0M294.3 595.3h0M290.4 608.1h0M300.3 600.7h0M283.5 597.5h0M283.0 607.9h0M282.4 604.1h0M282.1 605.6h0M299.4 600.0h0M295.9 610.4h0M284.6 605.0h0M290.0 587.2h0M289.5 600.7h0M285.2 588.7h0M289.5 591.1h0M291.3 600.6h0M285.8 595.1h0M281.2 593.8h0M303.0 596.9h0M292.2 591.0h0M281.4 593.7h0M297.5 594.4h0M278.8 604.0h0M296.5 603.5h0M286.3 590.3h0M286.8 610.0h0M293.0 602.8h0M299.6 598.5h0M279.4 604.1h0M291.8 588.2h0M284.7 602.5h0M293.6 612.8h0M284.9 597.7h0M288.9 593.6h0M284.7 598.6h0M281.7 596.8h0M288.1 594.1h0M283.9 601.1h0M299.7 595.5h0M289.9 594.4h0M284.6 601.2h0M285.8 615.9h0M292.1 595.1h0M300.2 594.5h0M285.0 605.8h0M289.7 587.7h0M287.0 604.7h0M283.6 598.4h0M293.9 597.9h0M292.0 600.1h0M291.5 615.7h0M295.5 611.5h0M288.7 601.5h0M285.0 593.1h0M297.3 597.9h0M284.9 593.2h0M289.5 590.8h0M288.0 605.4h0M286.4 614.0h0M295.1 592.0h0M285.8 612.0h0M282.9 609.4h0M288.2 589.0h0M291.0 603.7h0M299.1 588.9h0M284.3 615.7h0M289.5 616.6h0M282.1 609.3h0M295.7 599.2h0M297.4 591.5h0M296.2 595.5h0M286.1 603.9h0M287.3 610.5h0M292.2 608.5h0M289.7 603.1h0M293.6 604.3h0M295.9 606.3h0M284.5 604.0h0M297.2 606.7h0M296.5 594.9h0M284.8 600.0h0M290.3 600.3h0M287.2 603.7h0M289.6 615.1h0M290.8 610.9h0M291.2 619.2h0M290.0 603.8h0M283.8 613.7h0M283.8 604.4h0M286.5 599.6h0M296.5 613.0h0M281.7 611.4h0M302.2 597.4h0M296.9 599.8h0M296.3 595.5h0M295.7 596.1h0M279.7 598.3h0M295.1 614.0h0M296.2 588.2h0M293.3 612.5h0M301.7 599.9h0M286.1 607.1h0M295.9 606.7h0M304.0 600.0h0M286.3 610.5h0M285.5 615.8h0M286.9 608.5h0M297.9 602.7h0M283.3 594.8h0M295.0 605.6h0M291.7 608.3h0M299.6 601.8h0M286.2 605.3h0M303.3 593.6h0M285.1 602.7h0M292.2 594.0h0M299.8 596.5h0M285.7 614.3h0M282.3 609.9h0M292.7 607.3h0M283.3 605.8h0M288.3 593.4h0M289.8 591.8h0M289.6 612.5h0M283.3 595.9h0M294.2 610.4h0M287.5 590.7h0M288.9 595.4h0M287.0 591.6h0M296.6 598.6h0M302.5 596.8h0M286.0 589.4h0M280.0 602.8h0M291.9 592.7h0M282.5 607.5h0M296.1 607.6h0M287.4 607.9h0M282.5 607.0h0M290.1 594.2h0M295.6 610.2h0M290.3 593.7h0M285.8 597.0h0M280.5 600.8h0M297.8 600.5h0M280.8 606.5h0M281.0 602.3h0M292.3 609.7h0M282.4 605.8h0M300.4 596.3h0M292.7 605.8h0M299.6 595.6h0M290.4 595.0h0M283.3 610.3h0M297.5 592.6h0M294.0 614.9h0M291.5 601.6h0M300.6 593.6h0M293.0 602.5h0M282.0 598.7h0M294.3 604.2h0M283.5 604.4h0M288.2 594.4h0M291.9 609.0h0M279.8 606.3h0M302.2 595.0h0M288.7 594.9h0M285.6 592.4h0M352.6 576.3h0M339.1 575.5h0M355.5 576.5h0M340.2 574.6h0M362.0 577.0h0M352.1 576.0h0M346.0 576.4h0M351.2 575.9h0M340.4 574.6h0M345.6 576.6h0M342.1 575.1h0M377.5 578.3h0M345.9 576.9h0M363.4 577.9h0M369.5 578.2h0M360.7 577.0h0M349.0 576.8h0M354.5 576.0h0M343.8 575.4h0M379.0 578.6h0M376.7 578.5h0M339.2 574.2h0M340.1 575.6h0M337.3 575.2h0M370.6 577.8h0M343.0 576.8h0M367.5 578.5h0M347.3 575.7h0" stroke="#008000" stroke-opacity="0.4" stroke-width="3.8" stroke-linecap="round" fill="none"/>
<path d="M280.7 539.2h0M262.5 566.9h0M263.2 571.7h0M263.2 582.1h0M251.8 556.0h0M252.5 545.7h0M251.5 571.8h0M260.8 575.8h0M277.3 554.4h0M256.4 562.7h0M290.6 552.8h0M259.5 555.6h0M270.8 547.6h0M262.8 588.1h0M253.3 578.8h0M265.6 565.5h0M286.9 561.4h0M256.1 575.6h0M286.1 544.3h0M287.4 547.2h0M251.2 560.1h0M283.2 538.6h0M263.2 585.9h0M286.6 563.5h0M247.6 546.0h0M285.0 548.9h0M280.2 556.2h0M251.9 578.7h0M269.9 586.7h0M271.4 564.5h0M253.1 551.7h0M283.8 564.9h0M263.2 552.8h0M269.2 591.3h0M260.2 596.2h0M247.5 579.9h0M260.9 583.1h0M251.8 547.4h0M274.2 555.1h0M272.8 558.7h0M251.5 540.1h0M282.0 560.8h0M287.6 543.0h0M246.3 572.7h0M263.8 561.1h0M270.0 554.3h0M284.6 546.7h0M242.2 565.2h0M274.3 540.5h0M278.5 561.5h0M276.7 548.7h0M245.8 581.2h0M273.2 569.9h0M254.0 567.4h0M286.3 562.3h0M267.9 581.5h0M249.1 581.8h0M242.4 553.1h0M260.4 593.2h0M271.9 541.5h0M261.7 571.6h0M249.6 558.1h0M286.6 554.8h0M269.1 551.2h0M254.6 571.3h0M264.2 568.5h0M269.1 596.2h0M270.7 590.3h0M274.5 542.6h0M258.1 547.7h0M257.7 586.4h0M290.3 559.5h0M271.0 545.1h0M266.9 559.1h0M258.9 544.5h0M265.6 573.2h0M279.6 550.8h0M276.4 538.1h0M299.9 543.0h0M299.1 546.6h0M282.8 540.6h0M278.9 561.8h0M276.2 554.3h0M281.0 548.1h0M283.3 551.4h0M308.6 544.9h0M278.3 561.2h0M305.7 547.9h0M291.6 553.4h0M305.0 545.7h0M280.9 564.1h0M284.1 552.8h0M312.4 535.7h0M282.6 555.9h0M291.5 552.0h0M288.5 570.0h0M281.7 542.4h0M300.5 536.8h0M283.0 546.0h0M283.3 562.8h0M274.6 538.1h0M292.7 561.2h0M286.6 562.5h0M278.1 534.5h0M313.7 539.2h0M287.5 563.0h0M283.1 541.6h0M301.3 548.2h0M302.0 541.7h0M309.5 535.9h0M295.0 550.4h0M282.1 547.5h0M293.4 547.7h0M288.9 570.2h0M288.9 568.4h0M302.6 542.7h0M298.3 548.8h0M296.0 541.7h0M297.8 541.6h0M287.3 568.6h0M281.0 554.7h0M309.1 538.4h0M284.8 545.3h0M298.6 535.4h0M302.3 540.0h0M281.0 554.4h0M292.2 535.7h0M277.4 558.2h0M312.5 536.0h0M283.5 544.5h0M292.2 541.9h0M283.9 565.8h0M281.1 561.0h0M295.0 537.7h0M280.4 555.3h0M287.2 551.8h0M289.0 538.4h0M287.8 585.7h0M283.4 614.3h0M302.8 593.2h0M295.6 598.5h0M282.4 594.7h0M294.1 596.8h0M280.5 597.1h0M285.5 618.6h0M281.1 602.6h0M292.8 610.5h0M283.3 604.5h0M286.1 604.1h0M279.2 595.6h0M285.1 590.8h0M297.4 592.8h0M284.2 617.7h0M281.1 606.4h0M288.3 599.9h0M290.2 615.8h0M296.3 611.0h0M304.5 596.9h0M285.9 603.3h0M300.5 599.9h0M298.7 593.0h0M303.2 604.9h0M280.6 596.0h0M278.9 607.5h0M286.3 611.0h0M287.2 609.4h0M292.4 615.8h0M295.6 610.3h0M293.4 612.3h0M298.7 594.9h0M291.4 585.7h0M283.9 606.0h0M287.9 600.3h0M292.3 605.3h0M298.7 589.0h0M298.8 588.8h0M284.3 591.5h0M293.1 608.5h0M285.1 618.8h0M298.9 596.9h0M304.9 595.0h0M298.9 614.4h0M279.1 604.2h0M291.9 590.4h0M282.6 608.5h0M299.9 595.9h0M299.3 599.4h0M280.4 609.0h0M289.0 603.5h0M304.3 594.8h0M294.8 611.5h0M303.6 595.1h0M288.2 591.5h0M292.3 595.3h0M286.1 614.0h0M279.8 593.8h0M292.1 613.0h0M278.3 590.2h0M281.4 593.2h0M288.7 609.4h0M293.3 592.5h0M289.1 613.6h0M298.2 590.0h0M288.9 593.4h0M288.6 588.9h0M288.1 602.7h0M283.0 601.6h0M278.9 597.1h0M290.1 605.5h0M290.7 617.8h0M281.1 598.5h0M286.6 594.3h0M305.0 605.7h0M279.6 601.9h0M302.6 587.7h0M281.9 594.6h0M283.2 608.1h0M290.6 577.1h0M280.6 596.6h0M287.7 571.1h0M289.6 576.0h0M282.8 571.5h0M278.8 603.4h0M289.8 582.9h0M286.2 577.7h0M282.0 574.2h0M285.1 574.1h0M281.7 592.7h0M285.6 578.6h0M272.9 588.4h0M277.4 598.4h0M277.2 599.0h0M289.7 569.2h0M280.5 580.0h0M280.9 571.5h0M272.3 584.6h0M273.1 588.7h0M288.5 572.0h0M274.8 571.5h0M291.9 588.4h0M284.4 580.0h0M280.8 572.4h0M279.2 591.9h0M284.1 582.9h0M277.8 579.1h0M281.1 578.7h0M274.0 590.9h0M280.5 587.5h0M277.8 586.9h0M285.3 581.5h0M276.8 583.1h0M278.2 578.5h0M276.5 584.4h0M280.8 592.4h0M282.1 567.9h0M273.5 596.9h0M272.9 593.8h0M274.4 598.2h0M289.2 580.8h0M277.0 579.9h0M287.2 585.0h0M274.2 590.9h0M274.1 588.4h0M290.4 586.5h0M273.0 569.6h0M284.5 583.3h0M284.1 581.4h0M275.2 581.3h0M285.1 579.2h0M281.9 588.8h0M287.7 581.4h0M272.9 581.7h0M284.9 577.5h0M288.1 588.0h0M271.0 596.5h0M279.1 599.4h0M276.6 581.1h0M271.7 582.1h0M281.6 582.4h0M283.7 573.7h0M276.6 594.0h0M273.1 585.6h0M273.6 595.0h0M276.4 599.5h0M276.9 597.9h0M273.9 575.1h0M289.9 579.1h0M279.7 572.9h0M286.1 576.4h0M274.2 574.2h0M280.9 584.0h0M280.7 574.4h0M287.1 586.6h0M287.9 576.2h0M283.4 583.2h0M280.1 583.5h0M272.0 590.2h0M288.3 573.2h0M285.7 581.9h0M275.7 576.6h0M281.7 585.0h0M277.7 582.6h0M275.7 584.3h0M281.7 579.3h0M276.6 592.8h0M282.3 583.7h0M290.8 576.6h0M274.0 591.1h0M272.9 573.9h0M286.3 580.3h0M285.0 573.0h0M280.8 586.6h0M277.6 569.2h0M284.1 583.0h0M278.8 573.9h0M284.1 574.5h0M275.4 570.9h0" stroke="#008000" stroke-opacity="0.4" stroke-width="3.8" stroke-linecap="round" fill="none"/>
<path d="M264.4 567.5h0M247.6 550.2h0M279.8 542.6h0M268.8 573.9h0M250.5 568.1h0M262.9 564.2h0M251.4 549.2h0M285.8 562.5h0M250.8 564.1h0M277.9 544.3h0M275.8 542.9h0M269.4 551.1h0M280.8 556.1h0M247.5 584.7h0M245.3 553.3h0M263.6 538.0h0M258.6 551.6h0M271.8 576.2h0M263.7 554.9h0M260.2 590.3h0M276.5 542.8h0M287.5 561.3h0M287.4 547.9h0M275.9 564.3h0M247.6 559.1h0M265.4 578.5h0M269.0 543.0h0M283.2 544.0h0M277.7 540.4h0M260.2 588.8h0M278.1 563.5h0M270.6 578.0h0M269.4 566.1h0M263.6 597.6h0M276.6 543.8h0M270.5 572.7h0M248.7 582.8h0M263.7 556.2h0M257.3 539.4h0M272.6 538.9h0M268.5 577.4h0M291.0 543.4h0M270.9 582.6h0M277.7 552.1h0M254.5 585.4h0M265.3 573.1h0M268.5 544.0h0M266.0 556.6h0M264.3 554.4h0M252.6 559.6h0M260.8 557.6h0M266.8 572.8h0M256.5 542.8h0M268.5 546.1h0M261.9 562.9h0M270.3 555.5h0M251.7 585.1h0M275.5 553.7h0M250.3 563.8h0M284.4 536.4h0M279.0 569.2h0M263.3 541.4h0M249.0 557.8h0M280.7 546.8h0M267.8 562.5h0M283.6 567.8h0M274.9 580.0h0M254.3 549.7h0M258.3 573.2h0M264.4 546.9h0M260.7 543.4h0M282.0 543.6h0M283.9 555.4h0M263.1 548.6h0M279.1 542.0h0M297.6 538.6h0M274.1 545.2h0M298.1 548.0h0M304.9 538.9h0M288.2 547.5h0M295.0 542.6h0M281.8 554.2h0M295.4 560.9h0M284.4 542.6h0M284.0 534.8h0M282.5 568.7h0M296.8 540.5h0M286.7 540.5h0M288.5 540.8h0M299.1 536.6h0M274.3 553.8h0M293.5 556.5h0M283.1 546.9h0M292.0 572.2h0M280.0 555.3h0M304.1 540.9h0M278.9 551.7h0M300.3 553.5h0M277.9 559.5h0M284.7 561.4h0M284.9 559.2h0M298.6 538.9h0M294.8 538.2h0M297.3 538.0h0M280.4 536.8h0M290.0 552.0h0M293.2 564.9h0M294.7 550.9h0M286.0 547.0h0M283.2 549.7h0M290.2 553.6h0M291.9 546.6h0M281.0 557.2h0M284.8 547.3h0M294.3 568.0h0M286.3 567.0h0M298.2 545.9h0M290.6 564.8h0M292.8 548.6h0M279.9 561.3h0M289.2 571.0h0M301.5 539.5h0M279.2 553.6h0M294.8 584.8h0M283.7 609.2h0M281.5 593.6h0M291.4 598.2h0M283.2 610.0h0M301.1 600.5h0M287.6 616.1h0M300.4 592.1h0M293.9 598.2h0M294.9 587.3h0M289.9 620.1h0M291.2 598.8h0M287.6 612.4h0M287.6 598.2h0M293.4 607.3h0M289.0 619.3h0M287.2 617.9h0M294.9 596.5h0M283.8 602.7h0M289.1 610.9h0M295.2 608.7h0M277.9 605.1h0M284.2 612.7h0M293.7 617.4h0M276.5 596.3h0M280.2 592.9h0M289.8 615.8h0M306.3 604.0h0M286.6 605.7h0M305.2 601.9h0M277.3 598.8h0M289.4 588.4h0M283.1 599.5h0M282.1 596.5h0M298.7 601.9h0M287.5 609.8h0M293.4 598.8h0M280.8 612.2h0M284.9 591.7h0M294.2 601.1h0M287.4 613.8h0M297.1 612.3h0M284.3 603.1h0M295.9 613.2h0M284.7 610.7h0M300.7 604.9h0M302.8 600.6h0M286.3 599.6h0M285.6 619.7h0M293.5 594.1h0M281.1 617.4h0M293.7 603.1h0M288.2 596.3h0M293.4 593.3h0M287.3 598.4h0M289.5 596.0h0M293.2 620.1h0M301.8 594.3h0M280.6 603.9h0M290.8 612.5h0M287.8 577.5h0M285.5 573.9h0M284.5 573.8h0M275.0 584.1h0M285.3 583.1h0M280.8 569.3h0M275.4 589.5h0M281.2 582.2h0M283.2 570.4h0M274.3 568.5h0M283.0 577.6h0M274.5 581.9h0M275.1 577.8h0M280.4 577.9h0M284.5 572.0h0M278.0 581.3h0M278.1 573.5h0M280.6 570.4h0M280.1 569.4h0M276.8 587.1h0M280.3 592.1h0M286.0 577.5h0M279.0 585.9h0M278.4 583.7h0M275.9 578.1h0M280.9 568.1h0M285.6 579.8h0M275.8 585.4h0M278.3 594.7h0M292.2 583.0h0M274.8 588.0h0M277.8 570.6h0M273.0 569.1h0M271.6 587.5h0M277.0 599.1h0M279.7 592.4h0M275.8 592.1h0M278.8 588.7h0M278.6 595.8h0M288.6 570.6h0M274.5 595.6h0M285.1 585.3h0M278.8 568.9h0M283.0 588.0h0M281.8 595.1h0M285.3 588.0h0M283.2 575.5h0M271.9 584.4h0M271.7 595.6h0M277.4 593.8h0M276.1 567.5h0M289.6 577.1h0M288.7 577.0h0M276.3 582.8h0M281.9 571.6h0M289.0 568.5h0M281.5 573.7h0M285.4 571.4h0M273.8 578.6h0M277.1 590.6h0M283.1 570.0h0M276.3 591.9h0M281.6 580.7h0M278.4 586.1h0M289.1 573.4h0M282.6 579.9h0M276.2 592.0h0M284.3 573.7h0M289.5 581.9h0M284.2 582.3h0" stroke="#008000" stroke-opacity="0.4" stroke-width="3.8" stroke-linecap="round" fill="none"/>
<path d="M455.2 479.0h0M528.1 533.2h0M353.2 620.4h0M265.0 622.8h0M263.0 604.4h0M253.1 613.7h0M263.9 645.5h0M263.9 666.9h0M342.7 662.2h0M387.4 664.2h0M329.3 687.0h0M338.0 743.4h0M265.9 511.4h0M244.9 517.5h0M243.7 520.1h0M269.4 522.2h0M290.4 522.4h0M262.4 528.9h0M265.0 527.5h0M246.1 532.9h0M247.5 536.4h0M264.2 535.9h0M266.3 535.0h0M278.2 537.3h0M305.7 550.8h0M301.8 563.9h0M328.5 560.4h0M317.6 573.0h0M338.3 569.2h0M349.2 565.0h0M286.1 578.8h0M292.2 580.0h0M249.3 597.2h0M293.2 558.2h0M183.5 565.8h0M189.0 569.0h0" stroke="#008000" stroke-opacity="0.9" stroke-width="3.8" stroke-linecap="round" fill="none"/>
<path d="M246.3 521.9h0M286.9 528.9h0M301.0 551.3h0M296.2 561.3h0M295.7 565.2h0M331.3 575.7h0M272.9 604.6h0" stroke="#008000" stroke-opacity="0.4" stroke-width="3.8" stroke-linecap="round" fill="none"/>
<path d="M192.7 564.7h0M193.8 565.2h0M206.8 549.6h0M207.1 547.6h0M203.9 554.1h0M203.2 555.2h0M232.3 604.8h0M232.7 605.0h0M188.5 595.8h0M187.5 596.4h0M218.7 543.3h0M217.8 544.7h0M234.3 563.6h0M234.2 563.8h0M185.6 599.9h0M185.9 598.3h0M209.2 548.9h0M210.4 546.6h0M181.4 577.1h0M181.2 577.1h0" stroke="#008000" stroke-opacity="0.3" stroke-width="3.8" stroke-linecap="round" fill="none"/>
<path d="M197.6 588.1h0M223.2 564.0h0M246.7 548.0h0M205.0 551.4h0M209.0 563.0h0M215.9 575.8h0M229.4 605.7h0M240.5 582.5h0M190.8 550.3h0M204.6 578.1h0M216.0 556.8h0M229.9 560.5h0M235.5 596.6h0M213.2 611.4h0M217.8 606.6h0M202.0 544.6h0M206.7 597.1h0M219.3 550.8h0M203.7 604.0h0M196.6 564.3h0M233.3 556.6h0M223.2 555.6h0M206.2 593.0h0M241.3 566.2h0M197.0 557.0h0M226.1 562.9h0M235.6 581.3h0M248.0 577.8h0M220.1 558.5h0M201.0 574.6h0M229.8 553.4h0M195.2 569.8h0M201.7 580.9h0M244.9 563.1h0M240.9 549.4h0M236.9 604.9h0M189.6 592.5h0M226.8 551.3h0M232.6 560.9h0M182.6 593.0h0M245.5 556.2h0M224.4 602.7h0M193.9 600.1h0M198.1 600.7h0M235.5 541.8h0M240.3 563.3h0M211.5 570.5h0M222.7 567.1h0M234.0 566.8h0M214.0 554.9h0M188.7 566.5h0M232.1 589.4h0M206.3 569.2h0M206.7 602.6h0M204.4 536.6h0M229.0 549.6h0M214.7 563.4h0M203.4 534.9h0M192.2 569.7h0M236.5 559.4h0M247.6 553.9h0M222.8 553.1h0M200.1 560.7h0M210.0 578.9h0M185.1 588.8h0M206.3 600.6h0M220.5 594.5h0M231.2 580.2h0M235.3 549.4h0M229.3 560.7h0M227.6 599.3h0M212.9 585.9h0M240.1 579.8h0M247.9 569.2h0M206.7 542.0h0M231.3 540.2h0M247.7 591.7h0M248.9 581.9h0M228.9 561.5h0M214.5 574.9h0M201.6 609.5h0M237.3 592.2h0M249.2 564.1h0M226.5 550.6h0M219.0 602.9h0M242.8 564.3h0M229.2 580.5h0M198.1 564.2h0M179.5 590.1h0M218.5 565.8h0M199.7 556.3h0M196.5 571.3h0M201.5 581.3h0M187.0 557.8h0M191.8 592.4h0M203.2 567.7h0M225.7 604.9h0M238.4 566.8h0M233.5 583.0h0M212.3 579.1h0M229.2 591.4h0M238.8 554.9h0M222.8 611.0h0M243.6 546.4h0M195.5 575.0h0M230.0 564.2h0M181.3 562.9h0M213.6 557.6h0M212.7 549.8h0M211.8 598.5h0M226.6 554.1h0M242.4 580.2h0M190.9 544.4h0M224.3 590.2h0M227.3 581.5h0M212.5 595.6h0M188.7 590.6h0M245.8 563.2h0M230.1 554.4h0M181.2 590.2h0M248.7 581.0h0M185.5 579.1h0M238.6 596.9h0M198.1 537.9h0M227.3 578.9h0M199.0 586.8h0M206.4 584.8h0M212.4 550.4h0M221.8 592.0h0M211.4 567.4h0M213.1 578.3h0M179.5 576.1h0M213.2 554.5h0M230.1 547.8h0M238.2 564.8h0M181.9 567.3h0M235.7 603.7h0M246.6 571.5h0M250.0 579.4h0M228.2 591.1h0M221.6 599.3h0M186.7 567.8h0M218.4 547.3h0M180.5 581.1h0M226.8 612.4h0M200.1 604.7h0M197.2 594.0h0M193.9 551.3h0M237.9 554.2h0M228.6 602.1h0M193.2 570.3h0M210.3 588.9h0M219.8 569.6h0M215.6 551.7h0M216.0 590.1h0M198.6 545.7h0M234.4 597.7h0M197.9 538.1h0M193.9 600.2h0M200.2 593.2h0M205.6 560.1h0M208.6 539.5h0M222.0 581.5h0M178.3 564.7h0M181.5 575.4h0M236.5 569.1h0M236.7 547.7h0M231.0 543.8h0M236.7 604.8h0M213.9 597.3h0M236.6 603.2h0M182.1 565.4h0M223.6 585.9h0M216.6 582.8h0M203.6 598.1h0M237.0 561.8h0M220.7 556.1h0M247.6 557.9h0M225.1 560.8h0M212.4 533.7h0M224.6 571.2h0M235.4 538.0h0M190.5 549.6h0M252.2 562.8h0M210.8 552.5h0M193.5 577.8h0M220.8 600.4h0M204.1 599.8h0M204.8 536.0h0M186.1 587.6h0M220.2 554.0h0M201.8 542.5h0M201.5 547.4h0M193.8 542.5h0M194.3 597.2h0M228.6 556.3h0M216.5 545.3h0M210.5 588.1h0M204.5 565.3h0M190.3 562.6h0M241.6 574.8h0M214.9 570.6h0M203.0 541.3h0M202.7 604.5h0M233.7 575.8h0M190.6 556.4h0M224.2 589.5h0M237.4 539.4h0M185.5 587.3h0M224.4 581.3h0M192.2 558.7h0M221.4 593.3h0M201.9 589.5h0M250.5 561.0h0M207.6 574.5h0M209.1 578.5h0M229.1 612.1h0M201.1 589.1h0M185.8 556.9h0M208.7 588.6h0M197.6 563.6h0M189.3 584.2h0M224.7 552.9h0M189.3 590.9h0M185.5 579.3h0M253.9 551.1h0M234.5 598.9h0M192.1 570.9h0M249.5 585.3h0M222.3 556.1h0M179.8 568.5h0M179.9 556.7h0M179.8 575.1h0M212.3 561.3h0M176.1 572.5h0M203.3 561.6h0M195.4 601.1h0M222.9 585.0h0M244.1 550.7h0M221.0 581.5h0M220.5 580.2h0M226.9 599.8h0M245.0 552.6h0M191.6 546.7h0M231.6 599.5h0M207.2 535.3h0M233.3 569.9h0M207.7 611.8h0M216.0 560.1h0M192.9 556.4h0M245.8 581.8h0M189.6 560.3h0M208.4 552.7h0M236.8 554.3h0M227.1 611.2h0M201.0 544.8h0M202.9 608.9h0M215.5 593.4h0M224.8 560.0h0M220.5 608.0h0M195.1 542.3h0M247.8 573.3h0M227.3 610.2h0M205.4 584.0h0M220.1 553.8h0M187.2 566.4h0M190.4 542.9h0M233.5 567.1h0M240.7 574.2h0M242.7 554.4h0M215.3 594.0h0M221.0 589.9h0M237.7 602.8h0M251.9 553.3h0M198.9 550.4h0M213.7 538.0h0M219.2 603.9h0M227.6 574.2h0M213.4 596.0h0M188.3 583.8h0M189.4 585.6h0M221.2 564.0h0M228.2 545.6h0M209.0 534.3h0M213.0 595.8h0M247.7 548.8h0M243.5 555.0h0M206.3 611.3h0M203.8 535.8h0M197.2 561.2h0M214.4 552.7h0M237.7 567.2h0M209.3 613.2h0M196.6 592.9h0M203.2 582.0h0M252.2 587.7h0M191.7 590.8h0M213.5 596.7h0M184.3 565.2h0M230.8 563.3h0M248.9 571.1h0M252.6 575.8h0M199.5 547.9h0M222.0 572.8h0M235.0 599.3h0M213.1 535.7h0M230.6 612.9h0M214.3 553.3h0M198.0 580.6h0M237.3 601.7h0M214.1 584.1h0M208.6 570.5h0M216.4 608.6h0M241.6 553.1h0M225.6 559.1h0M192.3 540.9h0M224.9 588.2h0M197.6 587.9h0M197.2 549.0h0M248.1 589.8h0M234.9 569.6h0M206.1 561.3h0M241.4 595.8h0M192.9 566.5h0M212.0 552.0h0M244.9 548.7h0M193.4 597.1h0M226.4 572.8h0M231.9 590.1h0M222.7 546.7h0M226.6 559.8h0M188.7 544.2h0M206.0 610.2h0M252.1 579.1h0M215.0 543.1h0M225.6 587.3h0M244.0 566.1h0M231.8 559.1h0M219.7 601.8h0M224.6 600.5h0M215.4 590.7h0M211.0 576.8h0M243.6 563.5h0M227.4 602.3h0M205.7 603.5h0M202.1 542.1h0M210.8 592.9h0M192.7 594.6h0M219.5 586.5h0M212.2 606.6h0M215.7 557.8h0M224.7 590.0h0M232.0 610.8h0M228.7 550.0h0M240.8 585.1h0M193.5 591.3h0M181.4 572.8h0M202.9 567.5h0M184.2 571.7h0M188.0 554.2h0M245.9 548.6h0M218.4 607.4h0M222.4 558.7h0M236.1 606.9h0M245.6 557.2h0M233.9 599.5h0M199.6 608.5h0M211.2 544.5h0M185.3 581.3h0M235.9 585.0h0M193.9 570.1h0M206.2 575.4h0M206.0 564.2h0M208.2 587.1h0M189.8 592.5h0M201.2 567.8h0M234.4 609.9h0M224.7 564.2h0M190.7 586.4h0M221.7 547.6h0M244.1 543.6h0M248.4 555.3h0M180.0 558.1h0M198.5 543.0h0M203.1 604.3h0M200.4 575.2h0M219.6 552.7h0M220.3 546.9h0M221.2 597.7h0M218.4 587.6h0M181.2 582.7h0M248.7 546.5h0M246.5 595.7h0M244.4 543.9h0M238.7 562.0h0M179.4 568.9h0M220.8 601.7h0M204.7 592.6h0M182.1 570.9h0M208.9 606.1h0M183.0 588.5h0M216.3 590.8h0M204.5 566.7h0M193.6 595.9h0M187.5 581.7h0M210.2 533.8h0M234.9 601.9h0M207.9 591.8h0M199.0 543.2h0M251.4 578.1h0M229.4 571.9h0M197.9 584.5h0M186.0 575.8h0M192.3 599.7h0M191.0 581.7h0M211.0 558.7h0M192.5 602.5h0M210.0 560.8h0M191.3 603.4h0M253.9 554.0h0M183.3 586.0h0M198.7 567.8h0M202.6 537.1h0M213.3 554.0h0M250.8 551.0h0M220.3 582.5h0M236.1 549.3h0M208.7 593.6h0M247.9 577.3h0M224.1 592.3h0M187.2 570.8h0M208.8 592.8h0M187.1 558.4h0M236.7 556.9h0M227.7 606.9h0M249.1 559.6h0M194.8 571.0h0M229.1 544.4h0M207.0 567.9h0M226.5 591.3h0M199.9 541.4h0M196.0 553.6h0M192.9 579.2h0M231.8 586.4h0M207.5 544.1h0" stroke="#ffa500" stroke-opacity="0.4" stroke-width="3.8" stroke-linecap="round" fill="none"/>
<path d="M233.2 578.0h0M184.9 555.1h0M179.2 560.0h0M205.5 543.4h0M218.2 569.2h0M226.2 545.0h0M226.6 553.1h0M200.6 583.0h0M253.6 580.6h0M218.2 585.0h0M192.7 584.4h0M211.5 562.9h0M206.2 553.7h0M187.2 574.5h0M243.4 567.6h0M204.6 540.4h0M230.7 556.3h0M194.3 569.7h0M195.8 590.8h0M222.0 591.7h0M192.6 557.7h0M233.1 587.3h0M205.1 601.9h0M236.8 600.2h0M247.8 585.9h0M216.1 584.9h0M191.1 595.6h0M207.9 541.6h0M207.1 538.1h0M230.1 581.7h0M220.3 550.7h0M189.6 551.2h0M231.5 552.2h0M217.7 560.5h0M228.4 555.2h0M193.0 578.2h0M211.8 576.3h0M241.7 550.1h0M217.2 594.8h0M226.5 563.0h0M223.8 598.6h0M212.2 565.9h0M213.6 606.5h0M232.3 593.7h0M206.1 596.9h0M202.0 608.1h0M206.8 560.7h0M219.4 578.6h0M230.6 568.5h0M216.9 609.4h0M205.4 576.0h0M192.4 576.8h0M234.5 594.1h0M193.4 577.9h0M223.0 600.7h0M197.9 562.6h0M214.7 548.4h0M229.6 543.5h0M237.6 599.7h0M219.9 570.2h0M211.0 534.2h0M191.8 583.8h0M202.8 547.1h0M227.5 584.0h0M230.5 587.0h0M216.9 566.8h0M218.4 590.3h0M213.6 544.4h0M226.8 599.1h0M230.7 593.0h0M235.2 559.7h0M235.2 598.4h0M210.2 575.1h0M202.0 581.8h0M211.3 566.2h0M214.5 586.8h0M251.3 567.1h0M221.9 573.3h0M199.4 604.2h0M200.2 570.4h0M194.7 587.4h0M254.3 553.4h0M193.2 606.1h0M229.1 576.0h0M248.9 541.4h0M253.8 564.7h0M226.7 608.5h0M230.7 541.2h0M216.3 555.9h0M184.4 565.9h0M179.0 583.8h0M213.9 580.8h0M232.6 581.2h0M197.5 557.3h0M240.6 563.1h0M216.3 576.9h0M202.5 580.9h0M255.0 578.8h0M219.4 583.4h0M244.3 540.4h0M185.0 578.3h0M250.2 586.2h0M221.0 591.6h0M221.6 593.3h0M198.2 582.6h0M244.3 574.9h0M189.2 561.7h0M191.1 600.8h0M203.3 585.7h0M212.9 567.1h0M225.3 593.4h0M235.6 601.3h0M205.3 585.7h0M202.6 595.8h0M237.3 580.8h0M224.3 605.5h0M201.5 544.3h0M244.6 583.4h0M218.2 554.5h0M191.2 568.5h0M176.3 569.3h0M179.3 584.4h0M214.0 587.3h0M253.9 580.5h0M211.1 598.4h0M230.1 600.2h0M249.1 549.5h0M245.8 556.4h0M181.0 564.4h0M182.5 565.4h0M224.1 554.5h0M204.9 573.6h0M245.6 582.2h0M227.4 545.5h0M243.2 548.5h0M205.0 605.5h0M223.2 576.6h0M223.0 601.7h0M192.7 591.6h0M224.0 560.4h0M222.5 587.7h0M221.3 549.7h0M226.2 605.1h0M230.5 550.7h0M215.7 607.2h0M240.9 551.0h0M190.5 546.4h0M212.6 560.2h0M181.5 591.1h0M243.9 550.7h0M244.3 559.6h0M205.4 593.8h0M187.7 575.4h0M198.5 599.7h0M227.7 611.5h0M227.2 606.3h0M214.4 545.6h0M229.6 551.0h0M190.3 578.1h0M190.1 593.6h0M195.2 547.3h0M185.9 583.9h0M199.2 573.7h0M202.0 570.3h0M246.9 553.7h0M202.5 570.2h0M230.6 587.1h0M210.6 571.8h0M229.7 610.3h0M233.7 597.8h0M232.5 588.0h0M239.7 583.0h0M251.0 549.5h0M204.2 603.3h0M228.3 599.6h0M218.7 554.6h0M202.5 577.4h0M239.9 560.4h0M216.0 553.7h0M209.6 588.0h0M215.2 541.1h0M218.3 572.8h0M182.7 586.3h0M236.3 559.5h0M191.4 596.0h0M219.5 572.0h0M194.9 548.5h0M225.3 546.1h0M242.3 574.1h0M242.1 569.9h0M203.5 581.5h0M225.1 560.3h0M235.3 573.4h0M211.6 570.0h0M218.8 599.2h0M178.5 586.3h0M240.6 592.7h0M215.7 589.6h0M221.2 590.2h0M193.2 585.9h0M190.6 585.7h0M209.5 550.8h0M195.0 582.5h0M229.3 546.1h0M183.9 588.0h0M201.4 600.9h0M207.6 585.2h0M246.9 549.3h0M221.7 612.1h0M192.7 542.7h0M202.2 607.2h0M207.1 584.8h0M200.9 589.1h0M194.6 585.6h0M228.6 586.0h0M219.9 547.9h0M188.6 555.0h0M201.6 562.1h0M207.9 564.9h0M217.8 566.8h0M179.3 582.1h0M185.3 559.2h0M201.5 539.4h0M226.7 550.0h0M251.6 546.0h0M233.3 575.4h0M241.4 590.2h0M231.8 558.6h0M196.4 575.5h0M211.8 567.5h0M198.5 545.3h0M233.2 544.3h0M199.0 560.1h0M209.1 551.3h0M207.3 580.7h0M192.1 543.0h0M211.7 595.3h0M244.2 543.9h0M209.1 538.3h0M229.7 541.1h0M219.6 595.8h0M189.2 574.3h0M253.0 581.9h0M254.3 578.2h0M234.6 591.5h0M242.0 542.3h0M241.3 579.2h0M199.0 589.4h0M210.4 602.3h0M189.7 589.8h0M213.0 537.0h0M219.2 582.2h0M235.6 576.1h0M244.0 575.4h0M223.7 567.4h0M218.5 560.8h0M206.4 596.3h0M246.7 588.8h0M215.5 540.6h0M212.5 563.6h0M196.8 556.0h0M226.1 562.9h0M241.7 582.6h0M216.0 613.7h0M207.8 576.8h0M247.5 567.7h0M221.3 601.9h0M252.3 564.3h0M178.6 570.3h0M236.2 572.5h0M225.3 588.2h0M220.6 598.3h0M177.8 573.0h0M199.6 585.1h0M242.5 587.3h0M188.4 566.9h0M233.3 554.7h0M214.4 544.2h0M244.7 586.0h0M191.6 558.9h0M213.7 550.4h0M185.5 575.7h0M195.6 539.6h0M191.5 551.1h0M240.9 585.7h0M220.7 579.3h0M213.1 583.5h0M205.2 564.9h0M186.0 575.2h0M238.1 568.4h0M239.8 552.4h0M246.8 590.8h0M225.3 604.1h0M190.1 553.3h0M240.9 550.0h0M197.7 546.0h0M234.6 610.9h0M239.9 578.8h0M184.7 597.1h0M210.0 574.6h0M212.3 549.4h0M201.8 564.7h0M189.4 570.8h0M195.1 541.5h0M204.8 593.3h0M207.6 584.2h0M232.1 539.9h0M231.1 597.8h0M235.6 583.8h0M246.4 557.2h0M218.6 586.9h0M208.5 607.2h0M204.1 541.1h0M202.4 560.7h0M177.1 565.5h0M251.7 550.5h0M202.0 536.5h0M197.7 585.9h0M240.4 537.1h0M209.7 575.4h0M196.9 578.5h0M203.9 545.1h0M192.9 573.5h0M214.5 582.6h0M202.3 591.6h0M182.1 567.1h0M211.8 558.3h0M187.1 548.5h0M214.8 573.6h0M208.1 600.3h0M237.8 562.9h0M234.4 573.6h0M230.0 540.6h0M206.5 596.3h0M209.6 602.5h0M214.8 569.5h0M250.1 561.6h0M242.4 582.0h0M198.3 581.9h0M209.7 595.2h0M185.6 582.1h0M215.3 603.7h0M233.4 611.8h0M213.1 544.0h0M249.0 578.1h0M179.4 584.2h0M210.3 609.8h0M202.9 548.7h0M254.3 569.1h0M233.5 598.1h0M231.8 580.9h0M225.9 574.3h0M189.2 544.8h0M244.2 590.0h0M199.7 585.3h0M231.1 543.6h0M212.8 550.5h0M217.9 556.7h0M207.5 598.7h0M208.2 611.6h0M249.0 559.7h0M185.5 587.3h0M195.3 565.8h0M222.3 608.4h0M202.7 540.4h0M239.8 555.3h0M212.1 575.9h0M203.6 556.6h0M241.2 568.8h0M199.9 557.3h0M252.2 569.8h0M193.9 555.9h0M226.3 610.3h0M243.6 563.4h0M202.5 604.3h0M229.6 611.7h0M243.4 562.8h0M232.4 554.4h0M228.3 609.6h0M204.1 597.7h0M211.4 601.0h0M192.2 548.8h0M202.0 599.7h0M218.8 587.8h0M208.8 608.9h0M241.7 561.4h0M203.1 542.2h0M184.3 595.2h0M188.8 586.3h0M198.1 548.6h0M255.5 556.8h0M227.8 606.6h0M191.2 595.0h0M228.0 574.0h0M211.3 610.9h0M189.6 566.4h0M213.6 571.9h0M216.4 559.9h0M241.8 559.6h0M183.4 574.7h0M224.2 610.6h0M199.4 600.9h0M197.3 582.0h0M219.8 588.0h0M192.8 547.3h0M238.9 580.9h0M218.8 606.9h0M225.8 572.9h0M205.6 568.0h0M244.1 591.2h0M211.3 552.2h0M195.4 579.1h0M192.2 573.3h0M211.0 584.6h0M205.5 611.2h0M213.6 598.7h0M185.7 567.7h0M195.8 594.1h0M245.8 541.4h0M242.7 547.9h0M211.6 574.3h0M240.3 546.3h0M250.0 589.5h0M233.1 576.2h0M233.1 559.4h0M199.4 567.1h0M186.1 587.6h0M193.2 545.1h0M220.3 566.7h0M225.0 581.9h0M193.8 586.6h0M224.5 588.5h0M206.6 557.5h0M218.3 573.2h0M188.0 560.7h0M245.4 584.8h0M209.0 564.7h0M224.3 558.4h0M192.0 553.4h0M252.6 557.4h0M208.0 544.1h0M222.1 575.1h0M217.0 602.0h0M206.4 583.6h0M198.6 576.8h0M180.5 561.6h0M230.8 612.4h0M235.8 546.8h0M178.8 583.0h0M187.4 567.5h0M243.7 596.2h0M224.3 557.3h0M204.2 538.3h0M198.1 592.2h0M211.3 558.4h0M238.6 545.1h0M216.7 587.1h0M199.4 603.5h0" stroke="#ffa500" stroke-opacity="0.4" stroke-width="3.8" stroke-linecap="round" fill="none"/>
<path d="M247.7 575.6h0M210.3 586.7h0M229.2 602.0h0M212.6 551.7h0M245.1 544.2h0M246.3 561.5h0M212.2 551.3h0M216.4 600.1h0M212.8 591.2h0M222.8 582.9h0M235.3 582.9h0M233.3 566.1h0M191.7 573.3h0M176.7 570.5h0M205.7 553.8h0M207.4 563.9h0M243.3 569.9h0M188.7 566.6h0M205.6 540.4h0M226.2 559.0h0M195.5 550.6h0M241.6 560.5h0M215.1 599.1h0M255.5 564.8h0M247.9 565.0h0M230.3 599.1h0M244.5 592.2h0M194.7 587.3h0M222.2 579.9h0M188.7 586.5h0M223.9 557.9h0M208.7 561.0h0M198.7 598.9h0M185.4 554.6h0M242.0 542.1h0M189.5 575.9h0M227.7 552.4h0M193.1 555.4h0M200.4 579.7h0M176.5 575.4h0M239.3 556.1h0M244.3 581.2h0M238.6 600.2h0M231.9 570.7h0M226.1 562.8h0M241.0 581.4h0M217.1 600.8h0M182.6 562.2h0M189.3 578.1h0M234.4 541.1h0M224.7 577.1h0M217.2 582.5h0M235.4 550.8h0M253.3 580.6h0M232.5 543.6h0M220.0 586.4h0M240.4 580.3h0M232.6 576.9h0M197.2 553.2h0M228.9 551.1h0M189.5 548.7h0M252.2 571.1h0M186.4 580.8h0M212.5 595.7h0M232.8 559.8h0M222.7 551.7h0M245.6 584.4h0M213.8 572.8h0M221.0 599.5h0M182.8 558.0h0M236.8 579.9h0M191.6 582.2h0M197.5 595.1h0M183.7 554.4h0M212.9 565.7h0M216.9 549.7h0M223.7 548.8h0M249.1 568.6h0M193.4 590.7h0M199.4 569.1h0M195.1 573.9h0M210.7 542.2h0M194.5 545.8h0M229.8 544.7h0M208.2 591.4h0M224.8 561.7h0M220.7 603.5h0M191.4 578.4h0M220.6 601.6h0M228.6 610.6h0M183.8 583.3h0M234.3 552.1h0M201.3 607.9h0M250.0 586.0h0M222.4 588.2h0M204.4 597.2h0M217.8 562.6h0M222.5 597.6h0M223.1 574.2h0M242.6 582.6h0M211.4 587.8h0M241.9 577.3h0M239.5 588.3h0M233.6 542.1h0M222.5 602.1h0M238.7 566.1h0M231.2 585.6h0M236.1 595.1h0M237.8 559.4h0M223.2 588.7h0M201.9 578.5h0M244.8 569.8h0M237.5 553.8h0M212.8 580.5h0M201.9 601.1h0M248.0 556.2h0M202.8 584.8h0M219.8 579.8h0M197.8 582.2h0M238.4 544.8h0M177.0 568.7h0M211.0 597.3h0M239.5 555.9h0M221.1 588.5h0M244.6 553.7h0M222.8 550.2h0M243.5 579.7h0M187.0 582.2h0M208.6 597.0h0M191.6 560.0h0M247.6 547.3h0M213.8 540.0h0M201.1 592.3h0M189.2 566.0h0M213.7 545.0h0M235.2 579.9h0M178.3 573.5h0M200.5 607.9h0M226.2 548.7h0M183.0 583.4h0M227.2 558.1h0M202.3 588.3h0M227.7 561.9h0M243.3 569.8h0M218.5 596.9h0M204.8 565.5h0M188.7 581.0h0M202.0 598.1h0M196.5 561.6h0M213.2 574.6h0M202.1 561.1h0M202.8 565.0h0M177.3 580.0h0M224.6 581.5h0M226.2 609.4h0M183.0 573.3h0M179.6 582.0h0M227.4 598.3h0M197.0 595.8h0M206.6 568.5h0M246.5 560.0h0M182.2 570.1h0M198.7 536.7h0M234.3 548.3h0M201.6 566.3h0M256.2 560.3h0M202.0 588.3h0M199.2 589.2h0M189.3 569.1h0M215.5 608.8h0M189.8 548.8h0M201.3 560.5h0M220.2 565.2h0M213.1 557.0h0M203.0 594.8h0M236.7 585.1h0M226.5 544.2h0M192.7 574.3h0M195.6 586.1h0M231.6 585.3h0M206.7 541.4h0M241.5 562.4h0M254.2 566.1h0M231.0 588.5h0M205.8 564.5h0M229.4 539.7h0M205.3 584.8h0M216.8 599.3h0M179.6 582.4h0M234.7 552.6h0M223.6 548.7h0M203.0 578.4h0M236.5 569.5h0M230.9 560.7h0M216.2 560.5h0M197.4 573.1h0M238.8 599.1h0M225.3 568.2h0M202.4 592.9h0M193.3 547.7h0M240.5 551.4h0M228.2 549.3h0M229.0 602.8h0M219.7 589.5h0M193.1 570.2h0M237.7 595.0h0M203.5 564.7h0M188.9 549.3h0M192.2 566.8h0M200.7 595.9h0M199.3 598.3h0M204.5 558.1h0M237.0 551.7h0M246.2 588.1h0M181.2 589.1h0M252.1 575.9h0M204.4 598.3h0M192.1 541.5h0M222.3 565.5h0M229.5 556.9h0M229.6 614.1h0M246.5 556.4h0M208.8 568.7h0M199.5 549.9h0M237.4 597.6h0M236.3 592.3h0M244.1 584.0h0M224.1 586.7h0M214.9 542.4h0M234.1 551.6h0M220.8 571.3h0M220.9 565.3h0M213.0 590.2h0M210.3 568.9h0M248.3 577.2h0M203.9 561.2h0M209.8 588.6h0M215.8 590.0h0M251.4 553.4h0M212.5 569.0h0M230.8 584.4h0M241.1 597.0h0M197.4 548.9h0M206.8 576.6h0M219.6 594.4h0M224.8 580.2h0M233.2 599.4h0M206.2 563.2h0M200.9 539.2h0M226.7 581.9h0M235.7 553.4h0M226.6 540.8h0M206.6 575.6h0M225.0 601.4h0M213.0 604.7h0M240.2 569.8h0M210.3 578.8h0M197.2 546.7h0M210.5 595.3h0M226.5 547.0h0M224.9 613.5h0M189.1 591.5h0M235.7 602.6h0M239.2 553.9h0M227.5 543.0h0M215.1 578.2h0M251.2 587.1h0M185.5 558.6h0M192.9 575.6h0M191.0 572.1h0M179.7 588.4h0M234.8 587.4h0M222.1 569.1h0M247.2 570.8h0M237.4 584.5h0M197.2 556.0h0M238.0 549.2h0M200.9 548.9h0M246.2 548.1h0M192.3 592.9h0M253.4 576.5h0M187.3 573.3h0M238.0 579.6h0M223.7 576.7h0M239.4 550.9h0M248.7 550.7h0M209.5 579.3h0M184.7 566.8h0M188.6 593.3h0M185.9 562.8h0M193.5 586.4h0M196.5 588.0h0M215.5 603.7h0M215.7 595.0h0M184.5 574.1h0M206.7 607.8h0M199.6 587.1h0M221.1 607.7h0M252.8 554.0h0M252.3 559.1h0M176.2 573.7h0M210.5 558.9h0M228.7 551.2h0M208.7 549.9h0M254.4 576.4h0M243.8 543.1h0M219.2 564.3h0M212.8 608.9h0M201.5 574.9h0M199.2 586.5h0M218.8 583.5h0M233.4 552.9h0M194.3 586.4h0M183.8 563.0h0M228.5 579.3h0M224.4 603.9h0M227.4 612.0h0M253.3 553.9h0M251.1 578.0h0M175.6 586.2h0M185.5 568.4h0M212.0 555.2h0M248.7 588.7h0M177.7 579.9h0M238.8 559.2h0M228.1 573.8h0M253.6 576.3h0M221.0 584.8h0M231.5 578.8h0M246.9 575.0h0M190.8 575.1h0M189.1 588.4h0M250.9 589.0h0M211.2 561.4h0M221.7 598.7h0M216.5 589.7h0M192.1 586.2h0M195.1 551.0h0M252.1 568.4h0M225.6 605.8h0M191.9 560.7h0M224.0 609.3h0M248.3 587.8h0M180.1 561.3h0M213.3 577.3h0M186.1 562.6h0M213.2 547.8h0M207.4 587.7h0M228.8 611.0h0M235.4 608.1h0M217.8 547.6h0M216.0 548.1h0M184.1 564.8h0M223.9 564.8h0M241.0 590.4h0M200.2 544.4h0M175.1 574.0h0M219.3 578.4h0M177.6 585.2h0M190.7 584.0h0M203.2 602.9h0M230.0 591.7h0M194.9 548.4h0M207.5 561.1h0M222.3 609.3h0M202.6 545.8h0M228.3 613.1h0M194.6 598.2h0M202.3 549.5h0M248.7 546.0h0M247.0 548.0h0M215.5 544.7h0M204.5 592.7h0M189.0 557.4h0M203.3 570.0h0M196.3 564.6h0M212.8 551.8h0M196.2 563.7h0M213.6 542.6h0M187.0 560.4h0M216.1 593.2h0M206.7 574.8h0M235.5 541.6h0M214.3 580.5h0M192.6 596.8h0M213.2 609.1h0M197.8 564.3h0M227.7 582.2h0M229.8 606.6h0M183.4 569.9h0M229.9 564.2h0M223.5 593.4h0M199.7 600.2h0M200.1 566.7h0M191.5 540.1h0M247.6 578.6h0M210.6 588.6h0M214.6 569.3h0M226.2 611.0h0M202.5 564.8h0M213.6 587.3h0M185.0 573.9h0M208.8 601.5h0M248.7 562.7h0M207.9 593.9h0M198.1 573.1h0M214.1 543.4h0M196.2 553.9h0M208.4 607.1h0M204.3 576.8h0M248.3 568.4h0M243.6 543.3h0M228.0 555.3h0M224.3 582.0h0M193.1 595.6h0M215.4 592.2h0M205.1 585.9h0M216.4 537.1h0M215.3 583.7h0M213.9 609.6h0M227.2 580.7h0M235.3 601.4h0M210.3 552.8h0M243.5 559.4h0M211.7 586.5h0M227.1 551.0h0M189.8 592.6h0M223.8 559.5h0M234.0 567.5h0M255.0 562.8h0M203.4 566.3h0M191.6 557.2h0M208.4 575.7h0M212.2 603.7h0M236.5 586.4h0M216.6 559.2h0M232.1 557.0h0M222.5 583.9h0M227.8 549.6h0M210.3 607.5h0M224.7 600.9h0M223.7 586.3h0M251.4 553.6h0M209.7 571.0h0M179.8 583.2h0M189.9 588.3h0M252.6 552.6h0M246.1 576.2h0M185.9 563.5h0M205.6 601.9h0M235.3 603.4h0M211.0 584.0h0M215.0 557.7h0M232.4 601.0h0M204.9 575.4h0M227.5 597.7h0M200.1 592.5h0M195.9 557.2h0M212.4 541.5h0M222.4 571.7h0M237.0 583.6h0M218.7 606.6h0M196.7 557.4h0M198.5 564.3h0M245.3 543.5h0M183.6 566.7h0M203.1 573.5h0M234.9 571.2h0" stroke="#ffa500" stroke-opacity="0.4" stroke-width="3.8" stroke-linecap="round" fill="none"/>
<path d="M217.7 583.0h0M237.6 604.9h0M217.3 607.7h0M227.4 568.3h0M195.6 552.7h0M191.7 559.9h0M220.2 605.7h0M207.6 609.3h0M184.7 592.3h0M240.1 584.6h0M221.4 579.6h0M213.7 571.3h0M202.4 601.5h0M206.9 609.5h0M215.7 548.1h0M215.3 586.1h0M232.5 566.4h0M193.0 548.4h0M198.3 587.8h0M185.5 571.0h0M203.5 595.9h0M219.2 568.4h0M193.6 551.3h0M214.8 588.1h0M204.9 577.7h0M247.0 583.9h0M198.4 562.1h0M230.8 595.0h0M194.3 599.6h0M234.8 608.7h0M192.1 540.9h0M246.0 578.4h0M239.1 587.4h0M251.8 562.3h0M195.2 572.3h0M182.5 582.4h0M205.8 558.3h0M226.0 552.8h0M184.0 589.7h0M184.6 563.2h0M185.0 593.6h0M212.3 572.9h0M192.9 586.0h0M253.4 560.0h0M181.7 558.6h0M212.2 595.0h0M196.4 578.3h0M185.3 551.0h0M215.6 585.5h0M226.1 554.6h0M243.8 586.3h0M213.3 573.6h0M192.5 588.3h0M201.6 600.6h0M201.5 592.3h0M215.1 584.2h0M189.7 584.8h0M229.9 612.0h0M210.8 608.2h0M197.2 586.4h0M235.9 545.7h0M198.3 540.0h0M189.2 554.1h0M226.3 549.1h0M203.0 590.5h0M230.2 556.7h0M214.7 595.7h0M184.0 570.0h0M200.4 570.6h0M237.4 604.1h0M214.1 554.4h0M230.7 549.4h0M219.3 555.4h0M246.5 575.8h0M183.3 582.9h0M247.4 576.0h0M180.2 586.4h0M220.4 593.1h0M236.3 581.2h0M178.9 577.2h0M192.1 595.4h0M215.5 567.2h0M193.4 600.6h0M186.0 564.6h0M217.2 591.8h0M237.8 594.4h0M231.4 569.6h0M213.5 610.6h0M215.6 575.8h0M250.2 568.8h0M211.8 563.8h0M242.7 579.7h0M197.7 573.4h0M200.0 546.8h0M238.1 579.2h0M220.6 554.6h0M194.2 608.3h0M230.2 594.6h0M177.3 577.0h0M201.0 579.7h0M237.4 549.8h0M231.2 578.6h0M203.8 556.8h0M207.6 542.3h0M210.5 575.0h0M252.3 571.1h0M214.0 571.7h0M227.6 611.5h0M211.3 572.5h0M213.5 608.5h0M238.4 567.1h0M222.4 547.5h0M230.1 559.2h0M216.7 580.9h0M218.9 576.3h0M193.0 598.3h0M211.2 581.5h0M204.5 574.6h0M228.8 559.5h0M217.5 582.7h0M184.2 583.9h0M207.3 566.6h0M227.8 578.1h0M204.7 609.1h0M197.4 546.3h0M229.5 567.6h0M217.6 599.4h0M237.7 580.8h0M220.0 607.4h0M198.7 592.9h0M220.6 557.8h0M236.2 597.3h0M204.0 604.0h0M238.6 536.5h0M185.1 575.0h0M230.1 559.7h0M250.3 572.4h0M196.2 562.3h0M191.9 550.3h0M199.2 564.9h0M219.9 605.7h0M231.5 562.1h0M223.9 562.1h0M233.1 577.0h0M199.5 570.5h0M193.5 567.3h0M211.7 571.6h0M236.1 595.9h0M255.7 575.5h0M199.4 600.3h0M244.8 546.7h0M182.3 573.4h0M232.4 539.2h0M248.0 577.6h0M235.5 589.5h0M242.0 548.7h0M203.0 601.5h0M225.5 582.4h0M230.0 553.3h0M206.3 565.1h0M237.4 565.4h0M232.6 553.1h0M219.3 570.4h0M182.1 570.1h0M229.3 610.0h0M221.7 574.5h0M196.2 575.0h0M237.9 561.4h0M232.6 593.7h0M230.5 580.1h0M216.0 576.4h0M236.5 593.3h0M190.3 580.6h0M219.5 565.1h0M197.2 541.8h0M252.5 574.4h0M178.9 580.3h0M234.9 559.9h0M205.8 598.0h0M213.0 559.1h0M239.6 583.7h0M197.1 577.2h0M250.8 561.5h0M225.5 582.2h0M207.4 595.3h0M183.3 556.4h0M243.4 572.3h0M213.0 543.6h0M214.2 607.5h0M192.8 577.2h0M196.7 608.0h0M208.0 571.1h0M207.8 597.5h0M205.3 541.6h0M195.4 552.7h0M236.3 576.5h0M200.8 574.5h0M218.6 609.2h0M216.5 589.4h0M187.3 565.1h0M219.0 559.5h0M232.9 544.5h0M237.8 570.8h0M246.0 545.1h0M212.3 602.2h0M229.6 567.8h0M212.2 604.0h0M243.3 564.3h0M203.6 588.7h0M199.2 554.5h0M205.8 558.6h0M210.1 591.0h0M217.0 550.7h0M230.2 576.1h0M227.9 567.3h0M246.6 576.8h0M199.8 548.3h0M200.7 597.1h0M210.8 590.2h0M252.4 554.0h0M199.3 555.4h0M217.7 579.3h0M179.3 569.3h0M200.1 567.2h0M229.3 550.8h0M208.4 560.0h0M207.7 608.3h0M247.7 589.4h0M196.3 585.7h0M231.9 590.5h0M238.7 547.1h0M187.7 592.3h0M219.6 569.6h0M205.0 592.5h0M205.4 580.0h0M218.4 570.2h0M201.3 558.9h0M194.1 580.5h0M244.1 542.8h0M215.8 610.7h0M193.7 551.6h0M180.8 581.5h0M246.3 557.5h0M199.1 603.3h0M184.7 567.1h0M230.4 546.1h0M197.6 602.1h0M241.2 590.3h0M213.2 611.3h0M215.4 553.6h0M235.7 551.4h0M192.1 576.4h0M205.7 577.3h0M211.4 537.2h0M223.6 606.7h0M197.4 576.2h0M207.5 594.3h0M179.6 582.6h0M213.7 541.1h0M248.7 589.8h0M233.5 581.0h0M196.5 595.3h0M213.7 606.8h0M217.7 565.3h0M198.7 555.2h0M249.7 577.1h0M201.7 585.6h0M249.8 584.7h0M187.8 570.9h0M187.4 590.2h0M247.8 585.4h0M199.4 604.4h0M193.7 591.8h0M203.4 546.9h0M197.9 603.7h0M231.5 575.0h0M200.3 560.5h0M229.4 603.2h0M179.9 559.5h0M207.3 600.4h0M226.4 605.8h0M206.5 612.8h0M215.8 554.8h0M215.0 601.2h0M193.8 559.3h0M238.5 575.0h0M220.0 554.5h0M240.8 587.0h0M195.3 590.0h0M209.2 564.9h0M236.2 547.3h0M215.9 594.9h0M248.6 542.9h0M184.4 591.6h0M204.1 560.2h0M222.4 606.0h0M254.5 557.7h0M233.4 548.8h0M209.0 559.4h0M249.5 560.7h0M214.1 554.5h0M180.0 571.9h0M211.5 567.9h0M248.1 590.7h0M201.3 570.4h0M220.0 603.8h0M191.1 548.0h0M199.5 582.0h0M207.4 545.3h0M214.8 538.7h0M210.3 595.9h0M249.8 589.4h0M221.2 570.8h0M232.2 597.1h0M201.7 596.0h0M234.5 578.7h0M224.7 550.5h0M214.7 542.0h0M190.6 582.8h0M208.4 599.5h0M239.9 558.9h0M234.9 571.0h0M244.8 586.7h0M188.3 564.9h0M212.3 600.1h0M210.6 566.5h0M192.6 599.6h0M223.0 607.5h0M222.1 569.3h0M205.7 570.2h0M227.7 597.6h0M230.2 610.1h0M230.5 551.9h0M234.0 538.3h0M183.8 570.9h0M202.5 604.3h0M229.1 598.3h0M228.4 595.2h0M222.9 608.5h0M211.6 580.5h0M240.6 595.4h0M210.6 589.2h0M214.9 571.0h0M234.0 551.8h0M242.3 595.2h0M204.8 587.3h0M229.9 581.9h0M210.7 561.4h0M223.9 557.0h0M235.0 576.3h0M228.5 550.4h0M189.2 572.9h0M190.9 572.1h0M212.5 585.8h0M211.1 600.2h0M220.7 567.0h0M243.4 549.0h0M245.2 549.4h0M225.6 582.6h0M249.2 578.4h0M228.0 558.5h0M211.0 541.9h0M226.0 608.0h0M209.9 556.7h0M227.4 604.1h0M253.3 563.3h0M222.9 579.6h0M217.0 554.1h0M212.3 591.8h0M194.7 550.1h0M213.6 587.3h0M243.1 579.3h0M183.5 590.7h0M207.4 576.8h0M178.6 580.1h0M245.1 544.1h0M219.2 574.2h0M223.4 613.7h0M192.4 567.2h0M251.0 551.4h0M186.9 571.6h0M248.3 591.2h0M188.4 564.3h0M180.3 575.8h0M205.7 541.4h0M231.0 593.0h0M222.7 600.7h0M242.0 551.7h0M188.6 582.8h0M197.8 542.7h0M247.8 585.3h0M228.5 594.0h0M230.9 575.9h0M237.7 545.7h0M234.2 609.5h0M232.9 574.9h0M232.4 584.3h0M210.2 553.5h0M191.6 567.0h0M224.3 581.9h0M180.5 581.6h0M216.0 559.4h0M229.4 604.8h0M250.5 569.8h0M219.1 556.6h0M190.9 605.2h0M228.7 603.2h0M212.2 589.5h0M207.9 546.1h0M217.7 562.3h0M195.7 591.6h0M209.5 582.0h0M210.8 581.8h0M251.5 555.5h0M229.4 561.3h0M187.7 558.9h0M227.2 608.9h0M194.9 540.8h0M207.9 537.7h0M227.4 614.5h0M225.0 571.2h0M251.1 571.9h0M206.7 562.9h0M216.8 579.7h0M225.4 611.2h0M214.0 606.8h0M249.5 573.0h0M228.4 566.4h0M229.8 599.3h0M195.7 581.5h0M246.2 567.3h0M215.4 605.2h0M192.6 547.3h0M248.6 587.7h0M180.2 570.4h0M216.7 551.0h0M189.5 542.5h0M185.5 569.6h0M218.0 593.7h0M220.4 602.8h0M192.7 556.8h0M248.9 563.4h0M212.8 589.4h0M239.0 578.8h0M223.1 607.4h0M247.5 551.7h0M224.7 584.5h0M211.6 571.3h0M210.1 577.2h0M208.1 571.6h0M203.2 568.2h0M247.6 571.9h0M220.9 602.3h0M229.6 587.6h0M209.3 609.3h0M242.3 562.9h0M186.0 589.6h0M214.5 570.0h0M231.3 569.3h0M223.6 562.8h0M238.2 553.4h0M241.7 585.5h0M223.0 580.5h0M220.8 594.6h0M230.6 559.9h0M220.9 598.2h0M194.0 583.5h0M201.3 588.4h0" stroke="#ffa500" stroke-opacity="0.4" stroke-width="3.8" stroke-linecap="round" fill="none"/>
<path d="M223.7 614.7h0M251.3 544.9h0M212.4 588.5h0M218.1 564.5h0M233.1 543.9h0M253.5 562.2h0M192.6 555.7h0M192.2 603.9h0M205.7 540.0h0M247.3 561.0h0M233.8 549.1h0M228.4 597.4h0M248.3 548.2h0M252.4 564.6h0M229.9 596.3h0M238.4 564.6h0M201.6 587.9h0M224.0 574.3h0M239.6 579.0h0M210.0 574.8h0M235.4 606.6h0M207.5 580.6h0M200.5 536.4h0M237.0 597.8h0M198.1 599.7h0M199.9 590.5h0M233.7 546.1h0M228.4 576.8h0M195.1 545.9h0M189.2 588.8h0M248.4 566.4h0M205.8 574.3h0M242.4 552.8h0M185.6 593.8h0M211.5 540.7h0M200.1 592.7h0M244.4 573.9h0M195.7 554.3h0M192.9 590.4h0M208.5 591.1h0M230.8 559.0h0M189.5 547.9h0M187.0 548.2h0M227.1 566.2h0M190.6 549.4h0M225.4 550.3h0M196.5 569.5h0M225.4 581.9h0M190.3 581.9h0M200.8 576.2h0M223.5 589.8h0M195.7 563.4h0M188.0 580.7h0M189.7 574.1h0M243.9 563.0h0M254.3 571.1h0M228.8 572.9h0M237.4 539.9h0M231.1 584.2h0M239.7 553.7h0M187.9 572.9h0M239.7 585.7h0M193.3 596.8h0M179.7 576.4h0M218.7 585.5h0M235.6 603.6h0M203.3 592.1h0M207.1 537.4h0M196.7 581.7h0M193.1 592.2h0M209.8 564.9h0M221.2 610.0h0M203.6 604.3h0M183.6 591.1h0M211.9 592.9h0M195.5 584.6h0M249.4 572.3h0M208.4 569.9h0M224.5 573.4h0M183.5 558.7h0M230.9 593.8h0M191.0 580.0h0M186.5 586.9h0M232.5 593.9h0M242.3 577.0h0M222.7 564.6h0M206.1 534.7h0M245.1 580.7h0M247.8 586.4h0M192.6 574.6h0M182.0 565.3h0M251.3 568.1h0M234.4 540.9h0M185.3 586.4h0M254.0 567.6h0M210.0 590.7h0M208.2 589.5h0M243.2 551.0h0M252.8 585.1h0M205.8 537.5h0M229.7 553.6h0M183.6 558.9h0M211.1 567.4h0M226.7 607.6h0M243.1 551.3h0M183.9 564.1h0M239.1 587.4h0M216.4 552.3h0M236.7 606.8h0M201.7 538.5h0M222.8 578.0h0M253.9 557.5h0M203.8 538.5h0M189.2 590.7h0M228.3 550.4h0M195.9 542.5h0M182.5 590.6h0M208.0 563.2h0M248.6 580.6h0M210.7 555.3h0M208.3 536.0h0M186.9 563.7h0M228.5 596.1h0M222.0 608.5h0M219.1 586.4h0M246.2 586.8h0M199.4 605.4h0M180.0 579.9h0M223.6 577.2h0M216.7 570.1h0M252.0 586.4h0M217.2 587.3h0M251.4 576.6h0M222.0 585.5h0M227.4 571.7h0M236.7 598.0h0M207.5 565.2h0M210.2 607.7h0M200.5 558.8h0M192.8 551.9h0M190.9 593.8h0M226.1 605.0h0M201.7 578.4h0M189.3 568.0h0M213.5 563.0h0M212.9 541.1h0M218.2 575.8h0M208.9 556.8h0M182.8 595.1h0M213.2 542.2h0M218.1 558.1h0M238.5 546.4h0M238.8 563.5h0M225.4 557.5h0M221.1 585.8h0M227.2 595.4h0M199.1 607.8h0M236.9 556.0h0M190.8 552.0h0M218.0 610.1h0M248.5 545.0h0M197.6 555.0h0M197.9 555.1h0M219.6 584.0h0M214.3 550.5h0M206.9 561.0h0M241.7 582.8h0M190.8 553.4h0M173.7 574.2h0M225.0 555.4h0M206.4 601.4h0M208.6 583.1h0M195.7 545.8h0M192.7 545.1h0M214.9 546.4h0M236.9 592.2h0M230.6 579.7h0M202.4 550.6h0M206.8 605.6h0M213.5 546.6h0M243.0 588.6h0M222.6 606.9h0M203.7 534.3h0M231.3 571.6h0M209.6 613.4h0M182.8 555.0h0M224.3 579.2h0M219.3 555.9h0M255.1 551.2h0M192.1 569.0h0M204.5 587.1h0M220.4 581.8h0M234.9 610.2h0M248.0 570.0h0M186.3 588.5h0M220.9 591.8h0M195.3 598.3h0M202.5 594.3h0M237.4 591.6h0M229.6 545.0h0M220.5 611.3h0M196.6 571.9h0M213.2 537.8h0M226.8 598.8h0M185.4 553.4h0M208.0 611.5h0M211.0 541.8h0M232.4 574.0h0M213.1 592.5h0M247.2 569.5h0M209.0 610.2h0M186.4 572.6h0M215.1 597.7h0M214.9 585.3h0M214.2 587.1h0M223.0 582.0h0M204.6 539.1h0M213.8 550.0h0M194.6 543.5h0M220.0 600.8h0M223.0 551.3h0M207.1 568.7h0M241.9 577.4h0M230.5 574.2h0M195.2 558.7h0M197.3 599.5h0M191.5 589.2h0M179.0 584.5h0M247.4 568.5h0M193.2 568.9h0M188.5 561.3h0M227.8 571.6h0M245.4 577.0h0M208.9 565.7h0M248.5 570.6h0M224.1 602.6h0M186.4 558.1h0M227.3 592.8h0M185.5 591.8h0M248.2 553.1h0M201.5 569.8h0M236.6 540.5h0M210.1 537.8h0M190.5 600.8h0M193.2 568.6h0M244.3 589.5h0M201.7 538.2h0M176.6 571.5h0M225.2 566.7h0M183.1 561.1h0M189.7 559.6h0M194.0 589.8h0M204.0 576.1h0M210.0 606.5h0M210.8 569.0h0M218.8 592.3h0M226.8 577.8h0M211.2 612.4h0M212.4 576.2h0M210.1 604.7h0M209.1 611.9h0M219.3 565.0h0M223.0 572.8h0M194.3 604.4h0M248.3 584.1h0M225.9 555.4h0M216.1 605.4h0M226.6 598.4h0M221.7 580.4h0M201.8 568.6h0M230.8 587.9h0M190.6 561.4h0M198.1 603.7h0M216.5 565.4h0M219.5 558.5h0M187.8 563.0h0M196.8 542.7h0M181.6 583.9h0M248.3 570.1h0M228.0 573.5h0M195.6 553.0h0M237.8 565.8h0M217.4 539.1h0M213.0 585.5h0M233.6 547.3h0M195.3 598.0h0M185.1 584.0h0M232.4 577.7h0M218.4 585.1h0M245.3 552.2h0M211.1 535.3h0M189.2 559.5h0M203.0 588.3h0M186.0 568.3h0M238.1 558.0h0M231.4 570.1h0M247.0 569.9h0M220.2 556.3h0M241.1 558.4h0M246.2 552.0h0M197.6 567.5h0M217.4 593.2h0M196.0 564.2h0M199.3 596.6h0M252.4 565.5h0M188.5 557.1h0M199.2 544.9h0M205.5 541.7h0M217.7 612.5h0M210.3 554.8h0M203.4 606.9h0M206.8 536.5h0M239.9 590.3h0M225.1 592.4h0M218.0 559.9h0M205.0 567.8h0M188.6 573.0h0M212.9 599.8h0M254.7 569.2h0M184.3 586.4h0M217.4 551.0h0M200.0 564.1h0M236.0 575.4h0M191.8 596.2h0M215.2 590.2h0M235.8 549.7h0M212.3 602.0h0M212.4 557.6h0M196.2 563.6h0M213.0 604.5h0M192.5 554.3h0M233.2 608.7h0M193.1 594.2h0M203.4 557.9h0M242.3 549.9h0M232.9 592.1h0M250.0 580.5h0M227.0 582.6h0M217.5 604.2h0M241.2 581.2h0M239.3 597.8h0M185.9 575.3h0M248.1 557.3h0M248.9 569.2h0M201.5 578.0h0M211.1 540.3h0M231.2 579.2h0M181.9 560.5h0M233.4 542.2h0M211.5 594.2h0M223.2 566.6h0M232.6 547.9h0M237.0 585.1h0M214.9 565.8h0M249.9 565.6h0M228.0 579.1h0M245.1 589.8h0M179.3 575.3h0M232.7 551.9h0M208.8 539.3h0M222.8 584.5h0M239.8 585.5h0M194.3 590.3h0M190.2 591.0h0M187.6 579.1h0M195.5 551.0h0M220.6 610.1h0M182.9 560.6h0M220.3 603.7h0M195.7 597.8h0M249.1 589.2h0M196.5 579.3h0M185.8 573.3h0M242.4 572.9h0M244.8 557.1h0M243.2 552.1h0M244.6 569.1h0M196.9 607.7h0M203.7 537.0h0M212.4 593.2h0M212.1 597.7h0M229.3 561.9h0M249.6 568.2h0M220.4 551.9h0M234.6 601.8h0M244.4 564.6h0M251.6 571.0h0M190.3 601.1h0M246.5 542.9h0M233.3 581.8h0M232.6 600.5h0M189.7 563.6h0M253.3 554.0h0M226.7 548.5h0M189.7 574.2h0M206.2 611.8h0M240.4 564.4h0M210.9 563.6h0M188.3 583.8h0M234.7 556.1h0M199.1 565.7h0M203.9 574.1h0M183.6 558.9h0M222.4 557.4h0M240.1 566.3h0M248.1 588.4h0M218.1 572.6h0M238.5 546.6h0M194.7 594.0h0M214.6 589.9h0M227.5 586.5h0M214.6 586.0h0M249.3 576.0h0M235.1 599.5h0M252.8 573.1h0M244.5 543.6h0M240.1 567.8h0M227.8 591.1h0M193.5 554.9h0M198.8 604.7h0M247.4 577.5h0M253.5 587.4h0M253.3 550.6h0M212.8 544.8h0M185.8 593.5h0M213.3 586.3h0M220.9 546.2h0M200.5 593.4h0M224.5 555.3h0M213.5 615.1h0M223.3 588.0h0M202.0 604.5h0M195.4 586.5h0M202.9 542.5h0M206.8 574.3h0M240.0 576.6h0M193.3 572.5h0M212.6 583.4h0M187.8 572.2h0M229.5 572.5h0M221.3 545.5h0M202.9 596.6h0M178.2 583.9h0M220.2 583.0h0M244.2 542.3h0M220.6 608.6h0M231.6 544.9h0M224.2 612.1h0M232.5 563.7h0M233.6 536.7h0M208.1 555.2h0M244.9 564.9h0M236.5 560.6h0M236.3 540.3h0M240.1 549.2h0M213.6 578.9h0M175.7 569.6h0M248.5 591.5h0M234.6 569.5h0M244.4 576.0h0M215.7 599.7h0M248.2 591.3h0M243.4 583.3h0M192.1 593.8h0M201.2 580.8h0M219.9 607.0h0M212.4 560.3h0M208.2 538.1h0M195.2 556.1h0M194.3 606.2h0M204.8 580.8h0M202.7 606.3h0M217.2 608.0h0M246.8 565.9h0M230.2 566.4h0M250.8 554.0h0M185.3 554.0h0M187.4 581.5h0M197.4 557.1h0M235.0 589.5h0M222.5 602.1h0M212.2 578.4h0M241.6 546.1h0M229.5 548.8h0M227.9 560.3h0M193.7 604.6h0M225.3 596.1h0M228.1 575.4h0M221.4 548.8h0M231.8 546.2h0M220.3 586.3h0" stroke="#ffa500" stroke-opacity="0.4" stroke-width="3.8" stroke-linecap="round" fill="none"/>
<path d="M249.2 584.9h0M222.7 546.2h0M207.5 534.3h0M226.5 579.9h0M221.5 582.2h0M239.5 560.9h0M236.5 538.2h0M221.1 598.8h0M215.7 570.2h0M208.2 593.9h0M227.8 615.0h0M188.5 565.7h0M199.0 596.7h0M253.5 566.7h0M242.8 568.2h0M218.9 565.1h0M249.2 567.9h0M229.8 567.5h0M204.1 569.8h0M193.8 547.7h0M216.2 566.2h0M222.8 554.9h0M189.3 564.7h0M188.8 554.2h0M217.6 603.5h0M186.1 561.9h0M219.6 548.6h0M214.9 545.0h0M194.5 586.8h0M243.3 548.2h0M204.9 595.3h0M237.2 584.8h0M235.0 577.1h0M207.7 596.4h0M217.0 592.6h0M187.5 573.2h0M208.2 582.0h0M207.6 589.8h0M213.4 561.5h0M199.4 567.7h0M241.1 557.6h0M181.6 573.9h0M220.5 603.4h0M238.2 541.7h0M202.1 571.7h0M202.2 604.0h0M238.0 540.6h0M201.1 550.5h0M238.9 538.3h0M195.3 571.1h0M203.4 574.5h0M187.2 547.4h0M223.0 612.2h0M174.8 569.8h0M209.4 598.2h0M198.5 542.8h0M212.0 612.7h0M197.8 544.1h0M223.2 561.7h0M184.6 588.9h0M240.9 576.1h0M204.6 544.0h0M228.0 594.5h0M192.9 551.0h0M177.8 578.3h0M245.1 541.9h0M199.1 587.4h0M226.4 561.8h0M234.0 547.6h0M225.7 554.0h0M198.8 584.4h0M192.0 599.5h0M234.7 582.9h0M208.0 562.9h0M240.2 580.4h0M195.6 597.9h0M185.5 557.7h0M178.6 581.2h0M242.0 594.5h0M190.3 554.4h0M200.2 565.8h0M194.1 585.0h0M232.6 546.5h0M242.1 591.4h0M186.1 592.6h0M189.5 582.2h0M241.2 554.1h0M233.3 573.3h0M246.0 542.0h0M236.2 554.2h0M217.0 552.3h0M243.0 557.1h0M197.3 582.7h0M184.8 575.7h0M208.3 534.9h0M206.6 571.8h0M203.0 605.8h0M216.7 583.2h0M250.1 555.1h0M235.5 605.8h0M246.7 583.3h0M212.5 579.2h0M239.8 590.1h0M191.6 549.4h0M209.0 558.2h0M193.2 553.9h0M224.8 553.8h0M231.7 587.2h0M236.4 584.7h0M203.6 604.8h0M243.8 562.5h0M225.3 610.5h0M211.3 597.8h0M205.4 593.7h0M188.0 565.9h0M201.9 550.6h0M198.4 598.4h0M249.6 546.9h0M227.8 563.1h0M182.4 565.0h0M244.0 565.3h0M195.6 587.9h0M219.5 603.0h0M247.7 580.8h0M237.2 567.6h0M250.0 577.8h0M233.1 558.1h0M209.5 552.3h0M188.0 583.1h0M217.0 561.3h0M183.9 572.1h0M234.2 549.1h0M198.8 596.5h0M221.3 608.1h0M249.5 592.3h0M220.5 555.4h0M235.3 552.5h0M204.6 537.1h0M253.4 556.2h0M214.9 539.4h0M203.7 580.5h0M241.5 590.2h0M232.3 582.2h0M226.0 583.5h0M207.0 569.4h0M234.0 590.5h0M253.8 578.2h0M180.7 564.8h0M232.6 587.3h0M194.5 557.8h0M244.7 574.6h0M224.9 560.0h0M215.5 547.0h0M224.6 565.0h0M234.0 556.0h0M222.0 603.2h0M190.7 566.5h0M191.2 584.5h0M217.2 588.8h0M232.8 544.4h0M216.9 578.2h0M180.7 556.8h0M252.3 577.9h0M196.4 550.4h0M238.8 566.1h0M223.1 605.4h0M195.3 590.4h0M237.7 568.7h0M180.1 576.2h0M180.3 564.1h0M208.8 569.8h0M204.7 588.9h0M232.9 551.8h0M246.1 562.7h0M225.3 598.4h0M245.1 544.0h0M252.6 584.1h0M243.9 556.1h0M237.1 548.3h0M187.1 592.1h0M246.8 576.2h0M220.3 566.5h0M192.4 555.1h0M184.9 581.4h0M225.4 548.7h0M207.9 562.3h0M232.1 549.6h0M211.6 563.2h0M193.0 553.1h0M178.4 577.0h0M197.2 549.9h0M242.7 552.3h0M229.4 611.0h0M251.3 548.0h0M193.2 587.0h0M237.0 585.7h0M229.4 613.7h0M218.4 560.8h0M229.2 556.0h0M200.8 590.5h0M201.3 575.4h0M220.3 582.5h0M220.5 546.0h0M214.7 603.4h0M233.0 546.8h0M181.3 584.8h0M233.0 608.1h0M245.7 591.7h0M189.1 572.5h0M220.7 572.9h0M221.1 585.5h0M198.7 573.4h0M204.9 601.4h0M192.9 600.1h0M206.0 565.2h0M234.0 578.1h0M201.1 600.3h0M227.9 581.1h0M214.2 612.3h0M223.2 575.2h0M225.3 594.1h0M212.7 581.6h0M233.4 546.8h0M204.1 574.1h0M232.2 608.5h0M196.0 572.1h0M209.2 583.9h0M236.8 544.5h0M184.2 563.5h0M216.9 552.9h0M244.4 589.2h0M207.9 597.4h0M198.9 586.8h0M242.7 587.6h0M227.3 588.5h0M191.4 583.6h0M240.2 582.3h0M176.4 582.2h0M251.9 572.9h0M230.1 597.9h0M223.3 605.5h0M184.3 575.3h0M246.0 547.5h0M248.1 592.8h0M188.0 582.1h0M208.0 537.8h0M238.6 545.2h0M230.2 570.0h0M217.2 547.5h0M205.9 571.0h0M190.2 574.7h0M240.6 554.8h0M185.4 572.3h0M222.4 606.6h0M242.1 550.2h0M190.5 575.1h0M234.5 569.8h0M228.1 590.5h0M205.7 570.7h0M223.0 569.7h0M229.1 540.5h0M197.1 593.2h0M209.1 539.3h0M237.8 556.3h0M250.0 567.5h0M235.8 542.8h0M244.1 585.7h0M227.7 555.2h0M208.4 553.1h0M214.7 596.8h0M224.7 544.0h0M234.0 585.5h0M182.7 557.8h0M246.7 577.9h0M252.7 570.3h0M242.5 582.4h0M191.1 566.0h0M246.2 583.7h0M238.1 540.2h0M182.7 584.3h0M237.2 576.8h0M209.7 612.6h0M200.3 594.8h0M199.0 539.7h0M196.6 588.6h0M193.2 607.8h0M195.7 541.3h0M233.6 608.0h0M229.8 604.8h0M211.7 575.4h0M217.0 548.2h0M198.6 568.1h0M206.1 604.2h0M189.2 585.3h0M217.3 585.8h0M202.5 544.2h0M213.2 572.5h0M212.8 610.5h0M243.0 544.2h0M252.6 556.0h0M238.9 536.6h0M234.9 552.5h0M206.4 591.9h0M193.4 606.5h0M225.1 560.7h0M208.7 611.4h0M201.5 579.9h0M223.4 602.5h0M234.8 557.8h0M243.9 540.5h0M224.4 555.4h0M201.9 550.6h0M200.8 601.5h0M238.6 579.7h0M243.4 563.4h0M248.4 567.9h0M176.9 566.4h0M196.0 589.9h0M192.1 589.3h0M246.6 594.0h0M242.3 550.4h0M214.8 549.0h0M215.0 554.7h0M205.3 564.7h0M189.7 561.5h0M228.0 578.7h0M240.5 560.1h0M182.0 570.6h0M243.0 594.1h0M241.6 584.8h0M252.9 555.1h0M231.6 565.2h0M196.7 588.6h0M208.0 589.7h0M253.1 580.4h0M237.3 596.5h0M187.3 556.9h0M206.2 559.4h0M195.5 583.3h0M244.9 574.2h0M195.8 586.0h0M204.5 608.4h0M222.2 612.0h0M203.3 541.3h0M195.5 548.2h0M198.1 551.4h0M236.0 596.3h0M231.2 556.1h0M204.2 610.7h0M226.1 586.7h0M199.1 556.3h0M182.5 581.2h0M204.1 603.9h0M201.3 541.0h0M239.0 545.8h0M224.0 575.5h0M208.2 565.6h0M210.8 585.0h0M227.0 584.5h0M197.1 590.9h0M199.5 587.9h0M187.0 584.0h0M242.6 585.7h0M211.9 591.2h0M239.7 586.9h0M194.7 551.8h0M193.7 604.2h0M239.5 587.3h0M252.5 555.5h0M187.0 591.4h0M189.7 554.5h0M249.9 583.0h0M192.9 541.1h0M215.3 600.9h0M217.8 546.6h0M220.0 573.4h0M250.4 544.0h0M235.3 571.8h0M252.8 556.2h0M208.5 571.4h0M192.1 572.7h0M250.1 547.8h0M254.6 564.9h0M217.8 591.1h0M221.0 565.0h0M246.8 582.6h0M220.0 579.6h0M213.2 558.3h0M229.7 588.7h0M229.5 593.0h0M217.5 604.0h0M197.6 588.4h0M212.7 544.9h0M236.4 587.8h0M223.1 569.8h0M222.2 573.8h0M189.7 600.1h0M189.7 571.7h0M194.5 544.3h0M216.0 604.3h0M243.1 556.2h0M232.0 557.3h0M188.6 551.4h0M221.0 570.0h0M242.6 590.2h0M216.9 606.6h0M254.6 567.1h0M189.4 548.0h0M231.3 547.3h0M191.5 600.3h0M199.4 568.0h0M214.6 543.1h0M216.1 551.5h0M189.8 575.1h0M182.6 590.9h0M200.9 605.4h0M194.0 603.6h0M223.0 603.3h0M207.1 610.2h0M193.9 605.7h0M197.3 593.9h0M210.7 574.8h0M207.1 567.9h0M243.7 550.5h0M235.6 570.9h0M214.8 551.7h0M248.8 546.8h0M203.6 608.6h0M221.8 596.3h0M198.3 592.2h0M220.3 583.2h0M212.8 567.0h0M185.8 571.4h0M198.4 538.3h0M219.8 554.7h0M208.7 601.3h0M251.0 553.8h0M210.4 610.5h0M246.6 587.7h0M183.4 555.0h0M244.1 565.4h0M213.9 557.7h0M216.8 574.3h0M240.8 560.5h0M231.2 596.3h0M221.5 584.0h0M217.0 585.1h0M247.8 569.4h0M208.6 541.6h0M192.6 575.6h0M189.5 586.9h0M239.0 547.2h0M190.3 581.1h0M239.3 578.7h0M228.7 567.7h0M223.0 572.7h0M239.3 597.8h0M234.4 543.3h0M197.9 547.7h0M243.8 580.7h0M239.1 566.4h0M234.1 541.4h0M207.3 543.7h0M209.5 570.5h0M228.3 567.7h0M248.1 568.4h0M237.8 606.4h0M229.8 615.5h0M236.8 595.6h0M212.6 587.8h0M217.2 613.2h0M210.0 553.9h0M224.9 611.7h0M226.7 567.2h0M193.9 594.8h0M231.2 608.1h0M243.3 558.5h0M195.6 607.0h0M242.8 575.2h0M242.6 576.8h0M228.3 563.1h0M251.3 548.9h0M189.8 557.9h0M218.4 564.7h0M209.8 596.9h0M240.4 582.1h0M215.5 583.8h0M241.4 549.5h0M207.4 571.9h0M188.5 561.6h0M228.7 577.5h0M198.9 586.6h0M223.5 582.4h0" stroke="#ffa500" stroke-opacity="0.4" stroke-width="3.8" stroke-linecap="round" fill="none"/>
<path d="M190.9 551.7h0M247.6 562.2h0M216.5 589.3h0M207.5 546.3h0M240.6 572.1h0M182.0 559.7h0M226.6 612.7h0M234.2 558.6h0M218.8 578.1h0M225.7 578.5h0M208.9 602.9h0M204.5 591.2h0M205.2 589.7h0M225.6 599.4h0M214.4 589.9h0M186.8 569.3h0M227.6 606.8h0M241.7 590.1h0M204.2 593.3h0M224.2 559.3h0M204.7 533.8h0M243.6 555.9h0M197.3 609.4h0M200.0 557.8h0M189.4 601.9h0M240.8 594.4h0M225.3 597.1h0M220.6 584.5h0M198.6 550.0h0M234.0 596.6h0M250.7 559.5h0M196.5 600.7h0M236.0 585.0h0M244.0 554.4h0M225.9 578.2h0M250.6 563.7h0M184.4 555.8h0M215.0 546.1h0M225.5 606.0h0M201.3 542.3h0M211.4 593.2h0M226.8 609.0h0M199.5 607.3h0M205.9 543.3h0M195.7 565.4h0M186.2 557.9h0M211.2 600.2h0M253.6 561.1h0M243.7 558.6h0M204.9 536.5h0M253.6 569.7h0M240.0 589.0h0M191.1 548.3h0M250.9 561.5h0M233.9 592.6h0M210.8 585.3h0M241.9 567.0h0M186.8 556.9h0M213.0 597.1h0M196.1 539.9h0M229.8 592.1h0M240.3 561.9h0M229.2 602.7h0M230.9 602.5h0M193.1 570.8h0M248.3 546.1h0M205.1 543.9h0M207.0 574.3h0M250.9 589.1h0M180.0 569.8h0M196.1 596.4h0M191.9 566.7h0M192.3 583.6h0M208.7 573.1h0M243.6 566.3h0M221.6 568.3h0M195.0 600.4h0M237.7 581.8h0M228.3 567.2h0M218.7 610.6h0M209.5 609.2h0M240.3 594.8h0M233.0 578.5h0M212.7 590.9h0M214.5 567.4h0M225.6 561.7h0M251.3 584.4h0M250.5 554.3h0M237.1 542.1h0M217.1 551.6h0M190.0 583.2h0M246.0 575.1h0M207.9 543.7h0M228.8 602.2h0M215.7 597.9h0M246.8 583.8h0M222.0 560.8h0M192.0 558.9h0M198.8 544.4h0M238.3 593.6h0M203.1 572.0h0M212.3 599.6h0M251.7 549.9h0M247.8 588.5h0M199.4 586.9h0M244.8 574.2h0M209.4 535.9h0M212.2 569.6h0M214.7 605.6h0M248.7 573.9h0M195.6 572.6h0M190.8 543.5h0M215.0 588.3h0M245.7 569.6h0M186.7 557.8h0M228.3 580.2h0M237.1 567.4h0M184.8 570.3h0M246.2 559.1h0M229.8 562.8h0M235.0 588.2h0M185.0 579.6h0M200.5 587.9h0M227.0 552.1h0M189.1 563.0h0M241.0 585.5h0M236.8 545.4h0M229.2 578.0h0M198.3 566.5h0M217.2 599.7h0M206.3 565.5h0M201.4 590.1h0M206.2 538.9h0M206.4 606.0h0M225.2 573.9h0M239.0 542.3h0M190.7 574.0h0M227.6 583.1h0M200.6 557.8h0M193.7 557.7h0M220.4 588.5h0M211.0 588.9h0M208.9 569.9h0M198.6 601.0h0M221.7 594.9h0M213.7 552.7h0M243.0 575.9h0M249.3 556.3h0M205.3 564.0h0M193.5 543.5h0M227.8 588.8h0M246.4 547.5h0M224.8 548.1h0M209.7 587.9h0M211.7 543.8h0M181.3 554.3h0M210.9 550.7h0M213.9 542.1h0M215.9 594.0h0M234.3 611.2h0M198.8 565.8h0M207.6 569.5h0M211.5 556.8h0M193.5 556.7h0M200.4 607.3h0M201.4 557.5h0M235.6 567.5h0M206.1 559.1h0M235.0 552.3h0M249.2 551.5h0M213.4 584.7h0M184.0 567.0h0M197.2 557.8h0M197.6 571.8h0M204.5 566.8h0M228.7 559.4h0M242.6 558.3h0M242.0 592.3h0M203.8 606.5h0M213.9 564.2h0M241.7 560.3h0M208.0 557.3h0M230.4 558.4h0M247.5 545.9h0M250.5 576.5h0M239.9 549.5h0M251.0 586.5h0M207.3 537.5h0M229.9 547.8h0M192.4 558.6h0M216.4 591.8h0M192.9 579.5h0M213.1 572.0h0M195.4 600.0h0M202.4 542.8h0M249.8 545.0h0M188.0 564.0h0M192.0 570.2h0M202.2 537.3h0M191.3 582.9h0M199.3 548.2h0M193.1 555.7h0M198.2 584.8h0M234.3 573.0h0M199.3 602.5h0M241.2 574.9h0M209.7 578.2h0M177.3 567.9h0M179.7 581.5h0M204.8 584.7h0M220.5 547.4h0M244.4 585.4h0M209.9 584.7h0M218.5 540.0h0M195.5 595.4h0M246.1 555.2h0M254.6 563.1h0M192.1 596.2h0M191.0 571.9h0M251.2 571.6h0M189.5 583.8h0M247.4 550.4h0M208.6 604.0h0M200.4 538.8h0M193.8 585.3h0M252.4 566.4h0M215.0 547.6h0M212.6 590.3h0M199.5 556.5h0M242.4 544.0h0M241.8 593.1h0M230.2 601.0h0M195.2 590.9h0M225.5 559.9h0M192.1 561.4h0M236.2 590.9h0M185.7 551.6h0M207.5 603.6h0M208.4 594.6h0M205.9 542.7h0M179.3 564.4h0M217.2 568.4h0M241.7 549.4h0M209.1 604.9h0M222.7 609.2h0M210.1 539.9h0M247.5 550.7h0M225.3 605.1h0M190.8 560.2h0M203.4 557.2h0M216.3 606.6h0M192.1 575.9h0M226.2 589.2h0M214.3 537.7h0M208.6 572.5h0M245.9 572.8h0M249.6 581.3h0M186.9 561.6h0M225.6 544.9h0M212.7 565.6h0M245.0 593.4h0M248.4 570.6h0M183.5 555.9h0M231.4 572.3h0M213.7 543.8h0M236.3 590.7h0M195.2 575.5h0M187.3 591.6h0M232.4 567.9h0M226.1 553.9h0M200.3 554.9h0M206.7 572.2h0M213.7 552.2h0M180.4 572.3h0M183.2 594.7h0M205.4 544.4h0M235.0 601.8h0M238.9 589.7h0M216.3 599.3h0M215.6 572.4h0M243.6 565.1h0M209.3 554.3h0M235.6 592.1h0M225.3 568.5h0M205.5 559.7h0M229.8 556.6h0M189.4 556.9h0M179.0 576.9h0M177.9 558.0h0M249.2 586.1h0M212.0 610.0h0M216.8 540.1h0M195.3 546.4h0M199.9 602.1h0M232.4 546.8h0M206.3 589.0h0M201.7 597.6h0M209.7 563.9h0M235.1 550.5h0M218.1 580.5h0M230.8 568.2h0M213.2 547.2h0M220.8 589.2h0M230.3 601.2h0M218.0 605.1h0M237.7 543.6h0M225.4 548.3h0M215.2 543.5h0M244.4 578.9h0M253.1 564.0h0M180.3 582.5h0M203.7 557.2h0M227.3 578.7h0M226.3 593.6h0M234.9 607.4h0M201.6 538.5h0M219.2 613.3h0M194.6 586.2h0M250.4 567.0h0M231.7 571.2h0M230.8 586.0h0M251.6 549.4h0M232.9 578.5h0M206.0 595.6h0M208.9 588.5h0M246.7 553.3h0M215.1 602.5h0M238.0 553.3h0M232.4 556.0h0M209.1 581.4h0M218.6 599.7h0M210.0 579.3h0M181.5 559.9h0M208.9 567.6h0M247.0 588.0h0M209.5 569.6h0M240.9 557.3h0M212.9 538.1h0M226.3 590.9h0M182.0 556.2h0M201.4 567.4h0M238.8 588.3h0M251.6 554.6h0M203.5 568.0h0M206.3 562.4h0M216.6 551.8h0M208.2 565.7h0M222.0 573.0h0M250.5 586.5h0M230.5 602.3h0M232.2 573.2h0M206.1 564.5h0M211.7 541.2h0M227.3 592.6h0M217.5 584.5h0M212.7 553.1h0M247.0 588.5h0M248.6 582.4h0M191.7 543.1h0M181.9 590.0h0M239.4 565.5h0M238.1 597.1h0M202.1 605.4h0M214.1 593.6h0M210.7 538.7h0M204.9 580.8h0M207.5 539.4h0M202.0 570.1h0M228.1 593.2h0M214.4 554.9h0M214.6 561.9h0M193.8 569.4h0M254.5 569.3h0M220.8 590.1h0M228.2 590.0h0M196.1 568.6h0M213.0 609.9h0M246.4 548.7h0M214.4 544.6h0M234.5 611.7h0M216.9 593.6h0M234.1 581.3h0M219.6 578.5h0M193.4 569.7h0M221.4 567.1h0M220.0 548.5h0M235.7 595.6h0M239.8 568.9h0M236.6 546.2h0M209.5 575.4h0M235.8 559.6h0M184.6 579.9h0M215.1 551.4h0M215.3 568.6h0M226.7 548.2h0M234.2 596.7h0M235.5 575.8h0M232.1 599.3h0M210.2 554.6h0M185.1 592.9h0M196.7 592.2h0M228.9 553.7h0M250.0 550.9h0M194.6 585.1h0M201.9 546.4h0M233.3 597.2h0M209.3 584.3h0M222.0 569.5h0M223.0 586.4h0M195.2 554.5h0M246.5 572.6h0M243.5 560.3h0M220.1 578.7h0M199.1 590.3h0M200.8 557.3h0M216.4 574.7h0M246.9 551.3h0M198.9 594.0h0M227.7 560.9h0M211.9 553.9h0M208.9 565.7h0M237.9 588.5h0M198.1 598.2h0M220.6 595.3h0M198.1 607.4h0M225.0 574.5h0M238.9 574.5h0M215.4 613.3h0M176.0 570.6h0M200.9 535.3h0M225.1 547.7h0M217.1 602.8h0M219.9 570.5h0M195.1 580.7h0M234.7 591.4h0M228.7 568.8h0M180.4 560.6h0M223.3 560.9h0M210.3 562.3h0M232.3 564.8h0M195.9 539.0h0M201.9 588.5h0M224.4 546.8h0M240.1 588.7h0M241.9 555.2h0M202.0 590.7h0M193.9 608.8h0M194.1 553.6h0M194.1 538.9h0M215.9 539.9h0M209.4 569.7h0M241.8 571.5h0M228.4 612.6h0M211.3 606.7h0M217.4 572.1h0M224.5 582.9h0M182.9 590.4h0M192.6 593.5h0M215.9 579.4h0M253.0 578.6h0M228.3 571.3h0" stroke="#ffa500" stroke-opacity="0.4" stroke-width="3.8" stroke-linecap="round" fill="none"/>
<path d="M253.2 562.3h0M224.1 552.2h0M181.6 558.4h0M179.9 560.3h0M183.7 580.7h0M196.8 593.8h0M237.6 588.9h0M218.6 585.7h0M229.4 574.4h0M200.2 546.6h0M200.6 593.4h0M194.4 587.8h0M229.3 569.2h0M216.4 546.0h0M244.8 592.3h0M205.0 580.4h0M196.9 602.9h0M189.1 561.1h0M197.1 604.5h0M205.4 553.8h0M233.1 557.0h0M212.3 549.6h0M187.6 582.3h0M251.1 545.5h0M228.0 599.3h0M208.2 555.1h0M229.4 610.1h0M244.7 571.8h0M209.1 541.3h0M224.3 549.1h0M239.2 597.0h0M196.8 556.6h0M201.0 606.8h0M244.0 576.2h0M198.4 581.1h0M192.6 588.2h0M234.4 539.2h0M226.5 570.8h0M218.7 560.8h0M250.0 543.4h0M240.9 563.6h0M191.9 559.8h0M199.8 560.0h0M248.0 589.1h0M188.3 576.3h0M216.1 564.9h0M244.0 552.5h0M196.9 565.1h0M203.6 598.7h0M205.0 600.0h0M237.0 593.2h0M193.2 553.3h0M234.1 596.5h0M210.0 596.8h0M207.0 598.5h0M226.0 546.8h0M230.5 565.4h0M233.5 578.0h0M179.6 570.3h0M200.1 544.2h0M232.7 538.6h0M237.4 601.8h0M218.9 602.9h0M203.4 562.3h0M191.3 581.4h0M202.1 602.1h0M222.1 558.4h0M218.5 563.6h0M244.0 590.9h0M219.4 574.3h0M200.5 571.4h0M204.2 546.7h0M203.8 536.7h0M188.3 574.1h0M214.0 543.9h0M209.2 611.5h0M235.6 561.1h0M200.6 582.6h0M238.0 595.5h0M224.3 545.9h0M228.1 608.6h0M194.8 599.7h0M231.3 589.7h0M210.3 612.3h0M234.9 551.4h0M199.6 550.2h0M227.6 554.5h0M223.2 570.0h0M239.4 570.4h0M204.1 551.4h0M216.3 542.4h0M245.6 561.6h0M193.7 560.3h0M201.0 573.7h0M207.6 599.9h0M220.3 561.5h0M230.8 540.7h0M236.3 540.7h0M236.8 553.1h0M211.8 597.8h0M254.9 570.1h0M232.2 574.8h0M212.1 559.4h0M182.7 588.7h0M224.7 569.1h0M230.5 579.6h0M175.5 570.3h0M250.6 561.6h0M215.4 556.2h0M203.0 583.2h0M244.3 582.4h0M246.7 569.4h0M247.9 576.5h0M249.4 561.0h0M241.1 597.4h0M196.1 575.5h0M254.9 558.0h0M190.3 579.9h0M211.1 571.0h0M206.0 608.4h0M250.6 547.9h0M192.4 550.3h0M205.8 592.8h0M210.7 603.0h0M238.7 574.8h0M212.0 560.5h0M230.8 580.0h0M252.3 567.2h0M184.7 553.4h0M239.9 569.2h0M215.9 551.7h0M218.9 594.7h0M222.8 583.3h0M221.0 553.6h0M202.2 583.3h0M214.3 592.0h0M199.2 605.8h0M253.1 552.3h0M245.0 580.9h0M189.5 571.0h0M191.3 574.9h0M211.9 603.7h0M227.7 550.7h0M226.8 566.3h0M206.3 573.6h0M208.4 567.1h0M187.2 565.7h0M239.6 557.4h0M252.2 582.7h0M233.8 579.3h0M181.2 573.5h0M220.1 565.4h0M176.9 581.5h0M195.5 562.2h0M198.0 575.3h0M245.0 582.1h0M223.9 602.0h0M176.4 576.2h0M215.6 536.7h0M207.8 598.1h0M213.8 552.4h0M214.5 600.2h0M232.5 538.6h0M203.3 574.2h0M196.8 570.4h0M211.9 569.4h0M203.4 561.7h0M213.7 576.3h0M207.8 532.9h0M191.5 559.1h0M238.9 539.9h0M219.9 601.3h0M177.7 577.2h0M176.6 575.7h0M206.0 589.2h0M224.6 612.3h0M198.7 557.1h0M246.7 566.8h0M223.5 551.0h0M199.1 542.0h0M229.2 540.8h0M202.8 573.5h0M203.8 546.4h0M230.2 559.5h0M224.7 579.6h0M212.1 607.0h0M211.9 595.0h0M206.3 559.3h0M211.8 537.4h0M202.4 568.9h0M244.1 563.8h0M208.8 551.0h0M183.4 590.0h0M219.4 549.7h0M229.7 612.5h0M208.0 565.3h0M212.0 539.3h0M243.1 562.3h0M254.8 559.9h0M234.6 542.1h0M209.5 556.0h0M246.0 540.2h0M202.9 589.6h0M180.4 569.3h0M194.2 603.4h0M211.8 555.9h0M186.9 575.3h0M199.7 608.9h0M219.3 554.8h0M250.2 560.0h0M215.3 603.8h0M203.8 539.9h0M178.3 576.0h0M209.7 543.8h0M245.0 590.4h0M216.9 562.8h0M207.7 566.2h0M222.8 586.8h0M218.0 598.6h0M243.8 586.9h0M251.3 553.6h0M199.5 553.3h0M221.2 566.7h0M248.4 558.3h0M223.1 579.8h0M241.1 577.7h0M230.4 572.7h0M180.3 587.7h0M196.7 597.9h0M208.0 606.4h0M254.4 571.9h0M238.1 575.3h0M213.5 566.6h0M179.1 580.1h0M239.6 591.1h0M192.8 574.9h0M200.1 600.2h0M240.1 596.0h0M194.7 592.7h0M187.2 573.9h0M224.6 593.1h0M195.7 595.5h0M226.6 569.0h0M249.8 557.3h0M215.1 553.8h0M179.3 579.7h0M193.6 554.1h0M223.2 604.3h0M203.3 543.1h0M214.4 543.3h0M212.2 592.3h0M220.3 563.4h0M206.6 598.4h0M224.1 611.6h0M223.7 588.2h0M213.4 568.2h0M232.4 546.1h0M228.4 578.3h0M233.5 585.8h0M224.4 559.5h0M230.9 544.3h0M238.6 565.1h0M175.4 575.4h0M207.0 545.2h0M226.8 564.8h0M185.9 556.3h0M213.9 576.8h0M206.5 600.1h0M244.0 579.9h0M226.6 560.6h0M196.8 541.8h0M250.7 544.7h0M218.6 579.2h0M195.5 542.6h0M252.8 578.6h0M236.5 572.5h0M192.1 577.6h0M230.5 578.9h0M198.5 585.0h0M215.0 559.2h0M198.5 557.8h0M245.2 582.5h0M207.4 608.8h0M232.1 568.8h0M221.0 584.0h0M239.0 570.7h0M235.3 551.2h0M236.7 575.8h0M232.1 596.0h0M186.6 580.8h0M250.5 559.6h0M229.4 556.5h0M182.2 569.4h0M215.7 574.6h0M220.3 579.1h0M209.9 579.9h0M230.0 558.0h0M197.7 537.5h0M221.8 556.7h0M193.4 573.8h0M222.2 596.2h0M243.6 545.1h0M179.9 581.3h0M226.2 562.0h0M246.3 582.5h0M217.7 608.2h0M186.1 579.7h0M197.9 566.7h0M223.3 599.2h0M203.0 549.1h0M215.7 602.4h0M244.0 590.5h0M213.3 587.1h0M231.8 573.7h0M179.6 574.6h0M237.1 589.5h0M194.3 592.6h0M243.8 549.7h0M245.7 558.1h0M241.2 574.2h0M222.0 545.2h0M187.8 574.4h0M228.7 606.0h0M233.6 555.0h0M212.0 595.2h0M216.1 549.7h0M230.9 564.9h0M227.5 612.5h0M209.0 578.3h0M253.7 567.3h0M214.2 561.9h0M184.2 557.2h0M216.5 610.4h0M211.6 590.1h0M248.7 559.8h0M178.2 560.3h0M244.7 559.7h0M242.2 565.8h0M235.5 607.5h0M186.1 580.8h0M225.4 601.2h0M199.1 557.6h0M251.5 545.8h0M249.4 555.7h0M200.2 607.2h0M241.0 562.4h0M239.5 571.9h0M232.9 609.1h0M184.1 574.2h0M236.2 549.4h0M234.4 589.2h0M194.8 553.2h0M232.2 592.4h0M198.3 584.7h0M221.7 594.6h0M240.1 543.7h0M241.3 548.2h0M200.6 559.3h0M216.8 550.0h0M186.1 585.1h0M201.8 596.6h0M232.4 542.3h0M226.1 552.8h0M195.6 556.5h0M244.1 588.6h0M227.7 569.0h0M193.2 548.7h0M221.6 606.9h0M221.2 578.8h0M230.3 602.5h0M249.7 545.2h0M247.2 591.4h0M228.9 559.8h0M231.7 569.8h0M234.0 549.7h0M206.3 606.6h0M211.8 611.1h0M232.2 544.1h0M242.2 589.5h0M236.6 556.7h0M202.0 599.7h0M217.6 560.0h0M219.6 603.8h0M229.4 541.2h0M210.8 594.7h0M201.1 575.1h0M192.9 541.7h0M200.2 542.5h0M174.6 569.0h0M196.7 597.7h0M249.7 567.5h0M192.7 560.7h0M209.2 601.5h0M216.4 586.8h0M245.0 558.3h0M205.6 611.5h0M233.7 597.7h0M214.3 599.1h0M181.5 570.8h0M244.0 569.1h0M242.9 553.9h0M248.1 570.2h0M189.0 549.6h0M244.1 571.4h0M243.5 550.7h0M242.0 581.7h0M187.2 575.5h0M253.9 586.9h0M248.8 575.3h0M254.5 586.5h0M241.1 551.6h0M233.7 538.1h0M227.8 567.3h0M184.9 577.1h0M244.5 575.9h0M205.8 537.7h0M183.4 573.4h0M227.9 606.7h0M213.1 562.3h0M227.3 571.4h0M245.0 553.8h0M206.0 598.3h0M220.1 592.5h0M247.4 580.0h0M221.3 595.8h0M241.9 587.7h0M217.6 595.2h0M198.4 599.4h0M199.0 588.0h0M190.4 552.0h0M245.2 576.9h0M217.6 594.1h0M243.6 541.7h0M212.6 551.9h0M210.8 592.2h0M218.2 602.9h0M248.4 578.8h0M243.5 580.8h0M234.8 580.0h0M247.2 560.8h0M244.6 584.3h0M210.6 555.4h0" stroke="#ffa500" stroke-opacity="0.4" stroke-width="3.8" stroke-linecap="round" fill="none"/>
<path d="M246.2 559.7h0M242.3 547.7h0M191.1 597.8h0M195.3 593.1h0M243.0 552.9h0M235.8 597.3h0M209.4 573.4h0M200.4 565.5h0M225.0 584.5h0M191.9 545.3h0M229.4 540.9h0M188.4 588.3h0M177.8 577.6h0M219.4 567.3h0M206.6 586.3h0M229.5 593.5h0M217.5 573.4h0M215.7 588.3h0M217.2 591.4h0M216.5 573.7h0M209.4 612.5h0M232.2 551.1h0M247.3 564.6h0M203.7 541.8h0M232.4 596.1h0M207.3 551.2h0M202.1 541.2h0M181.8 573.9h0M183.1 583.7h0M195.7 559.7h0M199.7 562.9h0M247.0 566.7h0M188.7 549.7h0M198.8 587.5h0M194.5 547.6h0M213.5 598.9h0M235.0 583.2h0M219.7 546.1h0M207.1 607.9h0M221.9 607.0h0M224.2 593.0h0M237.9 561.4h0M212.8 593.7h0M215.5 554.6h0M253.7 565.8h0M206.7 536.0h0M204.0 604.1h0M234.0 552.1h0M227.6 558.6h0M187.6 588.6h0M245.2 581.6h0M188.9 550.9h0M178.6 582.9h0M248.9 580.2h0M197.0 555.1h0M205.3 609.4h0M220.6 585.5h0M201.9 577.1h0M194.3 607.6h0M184.6 563.6h0M222.7 592.9h0M222.3 616.5h0M235.5 588.2h0M227.6 553.1h0M189.6 590.8h0M248.3 559.3h0M249.0 547.2h0M223.3 591.3h0M249.2 560.8h0M228.7 590.8h0M220.2 580.4h0M205.2 534.9h0M222.9 572.5h0M192.0 572.5h0M233.1 584.9h0M198.6 543.4h0M229.8 561.9h0M202.2 592.0h0M181.4 569.4h0M250.0 546.4h0M185.1 567.9h0M247.0 565.8h0M223.1 547.6h0M221.8 603.8h0M212.9 606.6h0M193.5 545.8h0M254.1 568.7h0M203.7 569.5h0M240.5 591.5h0M241.8 538.6h0M200.8 589.7h0M181.3 585.8h0M187.8 546.3h0M237.9 579.4h0M196.4 542.5h0M198.1 592.4h0M182.4 582.4h0M239.6 540.5h0M217.2 608.4h0M208.3 597.2h0M213.2 538.1h0M193.8 600.6h0M218.6 571.4h0M192.5 587.6h0M225.9 599.1h0M203.0 600.3h0M206.5 562.8h0M227.6 564.5h0M184.8 589.1h0M181.1 562.6h0M212.8 549.8h0M202.4 535.6h0M186.6 557.0h0M189.3 586.6h0M230.1 571.5h0M223.0 550.2h0M249.6 552.3h0M193.0 542.7h0M210.2 542.8h0M189.5 579.5h0M236.9 566.6h0M210.3 578.6h0M213.7 578.9h0M232.1 549.6h0M197.9 602.7h0M225.0 560.2h0M209.4 577.1h0M188.1 557.1h0M226.7 584.0h0M236.9 547.8h0M188.9 555.1h0M247.1 577.4h0M234.8 550.6h0M193.4 605.1h0M239.6 547.6h0M238.8 577.4h0M184.1 568.5h0M214.8 547.6h0M237.7 563.0h0M230.0 547.8h0M209.3 578.9h0M186.2 558.0h0M198.7 607.9h0M189.0 592.4h0M232.0 586.2h0M230.4 564.0h0M188.1 578.4h0M223.4 561.8h0M212.9 559.3h0M228.8 606.4h0M200.7 599.5h0M219.9 608.0h0M196.3 552.5h0M220.0 559.4h0M219.6 599.3h0M232.4 546.3h0M214.6 609.6h0M219.1 610.4h0M199.8 556.3h0M238.3 590.2h0M245.1 560.4h0M189.7 545.5h0M201.4 600.4h0M218.6 603.8h0M221.3 552.4h0M187.3 563.2h0M224.0 551.7h0M229.8 590.9h0M214.6 551.3h0M222.0 611.2h0M229.8 593.5h0M189.8 602.4h0M183.5 566.3h0M193.1 557.1h0M245.0 564.8h0M250.9 573.0h0M210.8 583.0h0M201.8 548.8h0M238.5 556.5h0M193.4 605.8h0M216.1 551.6h0M192.7 557.7h0M232.5 539.8h0M244.2 588.6h0M180.7 591.8h0M182.0 563.9h0M223.8 581.0h0M228.6 578.1h0M235.2 548.3h0M217.9 575.4h0M239.7 599.1h0M189.2 558.3h0M246.8 548.4h0M217.7 590.1h0M224.5 545.9h0M254.1 553.1h0M219.6 609.1h0M218.3 565.1h0M232.0 596.9h0M228.9 539.5h0M214.3 614.5h0M200.2 565.3h0M246.7 567.7h0M241.4 560.4h0M187.3 581.5h0M181.7 559.8h0M241.3 539.0h0M249.1 559.7h0M216.9 582.1h0M218.9 596.4h0M224.6 613.1h0M182.0 588.1h0M248.8 573.0h0M251.3 558.9h0M245.4 580.9h0M235.6 548.6h0M232.2 540.0h0M195.6 587.2h0M234.8 540.5h0M221.5 605.5h0M185.8 568.3h0M243.7 545.6h0M249.3 584.5h0M201.3 608.4h0M209.7 600.1h0M190.8 570.3h0M203.3 579.6h0M227.2 591.9h0M208.3 545.6h0M244.1 541.2h0M187.8 561.1h0M253.6 580.5h0M203.5 575.0h0M192.9 589.9h0M247.6 564.5h0M192.2 568.4h0M207.6 599.8h0M229.6 597.5h0M222.0 557.7h0M198.8 566.7h0M216.1 587.0h0M195.8 562.6h0M183.0 581.7h0M219.2 589.5h0M226.7 606.5h0M190.1 567.7h0M239.2 572.9h0M239.6 568.5h0M198.0 588.3h0M240.5 576.4h0M223.4 592.7h0M215.9 543.7h0M246.9 585.3h0M226.2 611.8h0M199.1 598.5h0M208.2 554.9h0M229.8 548.0h0M220.7 573.6h0M210.5 598.2h0M250.4 586.1h0M229.3 605.8h0M213.7 577.2h0M240.1 562.7h0M255.6 559.2h0M223.4 557.5h0M232.2 561.9h0M232.1 611.5h0M228.5 566.7h0M185.1 586.1h0M237.9 566.3h0M218.8 588.6h0M249.3 549.6h0M231.3 584.4h0M217.2 574.7h0M203.1 536.5h0M231.3 597.6h0M204.6 586.5h0M217.1 552.0h0M222.5 600.0h0M210.6 556.9h0M219.8 574.5h0M193.4 589.7h0M216.2 608.0h0M236.5 592.0h0M219.0 613.9h0M214.4 554.5h0M235.1 571.4h0M235.7 559.2h0M200.0 566.3h0M250.3 587.5h0M201.7 571.0h0M228.8 610.1h0M210.6 550.1h0M190.0 551.2h0M198.6 568.0h0M226.6 577.6h0M234.7 560.8h0M248.5 563.4h0M180.7 558.8h0M254.0 561.7h0M234.0 554.9h0M194.2 578.9h0M238.8 574.1h0M196.2 600.7h0M223.3 599.3h0M209.9 542.0h0M185.6 552.7h0M240.3 562.9h0M213.6 538.9h0M197.8 576.4h0M221.9 565.9h0M231.2 601.9h0M241.1 577.3h0M202.0 545.1h0M205.0 541.6h0M208.0 551.8h0M254.1 554.9h0M218.7 585.6h0M220.7 554.0h0M201.9 608.5h0M212.7 600.4h0M225.6 577.2h0M232.5 562.0h0M195.5 567.6h0M250.3 592.3h0M182.5 565.3h0M222.6 547.3h0M237.5 596.1h0M199.2 581.2h0M236.1 550.9h0M221.9 561.3h0M229.4 590.5h0M227.3 557.6h0M214.5 545.5h0M211.2 611.7h0M203.1 575.0h0M182.3 585.2h0M247.8 549.8h0M195.9 554.8h0M227.7 609.5h0M229.2 549.8h0M235.0 601.5h0M218.9 591.8h0M246.6 551.1h0M191.6 578.9h0M250.1 550.3h0M237.7 570.8h0M196.1 564.5h0M241.9 573.9h0M244.7 547.7h0M223.3 570.1h0M222.1 592.6h0M239.2 595.6h0M187.2 573.4h0M191.3 542.4h0M234.8 585.4h0M233.5 594.5h0M234.1 594.7h0M184.2 559.1h0M215.5 580.4h0M241.4 594.4h0M234.6 541.5h0M242.2 553.5h0M226.4 548.6h0M231.6 587.6h0M252.7 549.1h0M183.8 581.8h0M203.7 596.8h0M200.7 585.4h0M213.1 575.6h0M219.8 595.7h0M221.7 560.9h0M240.7 595.6h0M204.9 566.4h0M236.8 569.2h0M198.2 569.7h0M232.9 550.8h0M220.3 560.9h0M202.5 536.4h0M212.8 597.7h0M242.2 560.3h0M184.8 589.1h0M245.0 559.7h0M225.0 545.9h0M232.1 538.3h0M239.6 562.1h0M224.2 553.9h0M192.1 548.7h0M216.0 559.5h0M210.6 542.0h0M182.4 556.8h0M180.0 566.3h0M211.9 592.3h0M228.3 597.1h0M243.1 563.7h0M213.2 579.7h0M189.3 550.7h0M229.4 583.1h0M217.8 574.1h0M203.2 601.1h0M183.4 557.5h0M221.9 596.6h0M214.7 588.5h0M225.6 590.2h0M249.2 563.6h0M205.0 605.1h0M204.3 540.8h0M209.8 537.2h0M245.7 540.4h0M211.0 560.3h0M201.9 559.3h0M248.0 563.8h0M220.9 580.3h0M247.3 549.8h0M220.1 587.1h0M201.2 560.8h0M194.1 574.7h0M239.0 559.4h0M200.0 589.3h0M239.6 542.1h0M220.7 552.3h0M192.8 604.5h0M224.5 591.7h0M213.7 551.5h0M245.0 542.8h0M193.9 577.8h0M233.9 597.7h0M190.0 580.6h0M239.0 540.2h0M221.4 581.4h0M188.3 558.8h0M220.7 602.7h0M236.2 538.8h0M224.5 554.9h0M242.4 538.9h0M181.9 572.9h0M210.4 534.3h0M213.3 595.3h0M199.8 565.6h0M231.4 566.5h0M185.5 561.4h0M186.0 567.5h0M207.8 577.8h0M235.2 551.4h0M202.3 570.3h0M220.9 587.8h0M203.7 599.6h0M252.8 576.5h0M210.2 604.6h0M195.6 580.3h0M219.9 587.6h0M190.5 579.0h0M225.4 596.0h0M195.5 593.1h0M234.9 606.8h0M228.7 581.1h0M247.9 551.0h0" stroke="#ffa500" stroke-opacity="0.4" stroke-width="3.8" stroke-linecap="round" fill="none"/>
<path d="M178.2 584.7h0M244.8 591.1h0M192.4 597.9h0M198.0 583.9h0M223.4 604.2h0M203.4 599.8h0M251.0 562.7h0M233.4 549.6h0M224.9 583.3h0M194.8 593.0h0M232.0 542.9h0M214.4 612.1h0M243.3 544.8h0M213.9 606.7h0M195.5 556.7h0M223.0 603.6h0M213.4 538.6h0M215.2 585.8h0M242.9 556.9h0M214.7 612.5h0M190.6 567.0h0M215.7 545.5h0M215.0 590.5h0M220.7 554.7h0M221.2 605.7h0M206.2 607.9h0M180.1 590.4h0M193.9 546.2h0M210.1 602.2h0M199.6 610.8h0M209.6 536.0h0M230.3 597.2h0M230.2 586.7h0M175.1 572.8h0M220.0 581.3h0M224.6 606.2h0M210.0 607.2h0M228.0 595.4h0M230.5 575.3h0M216.2 571.5h0M187.7 545.1h0M212.3 557.0h0M201.1 564.8h0M191.4 558.5h0M216.8 593.8h0M187.4 569.3h0M239.9 564.2h0M252.6 551.1h0M195.1 598.6h0M211.1 602.7h0M251.5 579.1h0M223.2 553.0h0M210.2 563.2h0M218.8 559.9h0M230.6 587.8h0M210.5 603.9h0M250.5 558.5h0M195.6 579.1h0M224.6 601.5h0M182.0 574.5h0M247.2 588.5h0M221.1 569.5h0M221.2 583.0h0M222.9 606.9h0M198.7 564.3h0M236.0 580.9h0M218.5 573.0h0M246.4 559.7h0M207.4 579.0h0M250.5 551.3h0M250.5 557.2h0M192.0 544.3h0M235.9 539.1h0M242.7 554.0h0M253.3 560.8h0M221.4 604.8h0M189.3 556.9h0M203.8 585.1h0M245.3 540.4h0M234.8 584.7h0M229.3 576.6h0M242.8 541.6h0M243.1 578.2h0M236.3 544.3h0M228.0 611.3h0M210.1 562.2h0M206.8 537.8h0M234.9 582.2h0M179.9 581.5h0M232.7 539.0h0M248.7 573.5h0M212.8 549.2h0M223.1 555.1h0M211.8 544.7h0M183.0 566.7h0M233.1 599.3h0M217.8 585.4h0M238.1 542.7h0M184.2 591.6h0M221.4 547.9h0M177.9 576.6h0M196.2 556.9h0M249.5 562.4h0M184.1 587.9h0M240.9 544.8h0M211.4 595.4h0M244.3 558.5h0M191.4 606.8h0M225.7 594.1h0M206.4 584.7h0M232.1 576.5h0M244.8 565.6h0M192.7 556.5h0M209.0 584.8h0M224.2 579.5h0M237.0 548.5h0M185.4 563.5h0M193.4 591.4h0M249.3 587.8h0M214.0 554.2h0M199.7 594.2h0M229.3 590.7h0M197.8 594.3h0M252.5 555.0h0M190.6 544.8h0M201.2 588.5h0M251.3 545.3h0M227.5 561.9h0M243.5 563.6h0M216.4 599.7h0M197.9 588.2h0M196.8 592.1h0M214.9 543.3h0M239.3 551.5h0M226.9 555.0h0M196.6 554.2h0M242.3 582.6h0M178.1 567.8h0M204.5 569.0h0M237.6 551.1h0M236.4 588.1h0M247.3 556.3h0M225.0 554.1h0M193.0 567.8h0M209.9 574.5h0M222.7 611.6h0M204.7 561.5h0M247.5 569.6h0M226.2 607.3h0M192.3 571.7h0M211.0 538.3h0M205.9 551.4h0M198.9 575.5h0M235.5 597.7h0M209.1 556.0h0M243.5 582.8h0M224.1 559.5h0M191.2 581.8h0M184.3 568.8h0M197.8 557.3h0M241.5 588.4h0M192.5 602.4h0M185.6 585.3h0M190.9 598.4h0M253.5 565.8h0M211.5 613.9h0M215.0 551.4h0M237.4 578.5h0M209.7 534.5h0M228.8 610.5h0M237.7 551.1h0M227.2 555.7h0M191.3 549.3h0M188.3 587.3h0M225.3 613.8h0M206.6 579.4h0M244.1 541.3h0M248.9 552.2h0M237.6 569.4h0M255.0 561.9h0M240.4 560.8h0M229.7 608.3h0M238.6 596.7h0M199.6 558.8h0M247.2 558.1h0M201.1 537.7h0M198.9 571.0h0M211.3 608.0h0M214.1 609.5h0M203.0 601.8h0M208.2 609.2h0M192.9 589.3h0M251.6 582.7h0M215.0 550.3h0M199.8 555.3h0M213.6 584.4h0M215.6 598.4h0M235.2 583.8h0M211.8 592.0h0M214.4 576.4h0M252.1 555.3h0M232.9 601.7h0M192.1 602.2h0M224.7 562.4h0M220.9 556.1h0M182.4 559.6h0M239.7 556.6h0M256.6 570.2h0M212.7 561.8h0M206.7 544.0h0M227.3 563.5h0M233.5 577.3h0M244.9 569.3h0M206.1 564.5h0M194.7 590.7h0M185.3 569.2h0M230.6 582.0h0M227.3 584.1h0M188.9 572.5h0M243.2 538.4h0M242.8 568.7h0M191.7 579.0h0M207.1 556.1h0M201.2 566.3h0M202.6 604.1h0M240.4 546.2h0M189.2 586.0h0M240.5 548.9h0M190.5 557.3h0M250.3 566.8h0M208.6 589.2h0M204.4 545.2h0M244.9 540.2h0M243.7 586.9h0M238.0 583.0h0M189.3 592.1h0M225.8 595.0h0M196.6 572.4h0M198.7 543.3h0M228.1 607.9h0M185.7 567.9h0M248.8 585.7h0M229.8 608.5h0M207.0 551.4h0M237.9 577.8h0M246.4 571.2h0M214.0 577.6h0M254.6 555.3h0M241.9 554.1h0M212.3 558.0h0M246.5 556.4h0M251.5 588.2h0M227.4 575.1h0M202.9 589.9h0M216.1 574.2h0M236.9 599.4h0M208.9 607.8h0M205.5 612.4h0M249.2 583.4h0M249.0 546.2h0M194.2 572.3h0M191.4 561.2h0M219.7 551.3h0M237.6 575.3h0M252.0 584.3h0M240.9 580.5h0M182.3 575.0h0M215.9 601.1h0M204.3 585.9h0M212.8 608.5h0M228.7 566.2h0M182.0 573.2h0M233.9 590.3h0M246.2 549.6h0M237.4 543.2h0M205.8 588.4h0M221.5 611.1h0M209.2 606.1h0M216.3 593.4h0M253.5 547.7h0M200.5 577.4h0M197.5 583.8h0M215.4 562.0h0M204.6 538.6h0M254.1 550.5h0M225.4 558.2h0M175.5 574.9h0M227.5 543.4h0M190.0 548.8h0M220.3 555.6h0M251.6 572.8h0M253.1 567.0h0M220.6 556.9h0M206.3 573.2h0M174.5 572.1h0M230.3 593.1h0M229.3 601.4h0M245.7 566.5h0M241.4 559.5h0M226.7 564.5h0M188.5 601.4h0M211.0 550.9h0M192.6 560.8h0M198.7 558.2h0M247.0 575.5h0M216.1 607.5h0M220.1 554.5h0M230.9 544.3h0M233.3 599.3h0M180.1 565.6h0M203.8 593.1h0M188.7 560.3h0M253.8 556.5h0M212.0 596.6h0M214.9 587.7h0M222.2 574.5h0M219.2 603.1h0M203.1 544.6h0M184.1 559.4h0M240.0 579.6h0M195.8 553.9h0M205.2 610.5h0M205.5 545.8h0M185.3 551.9h0M249.7 549.6h0M224.4 555.6h0M235.8 555.2h0M250.7 562.3h0M226.7 596.2h0M215.7 578.6h0M206.5 599.6h0M240.7 558.8h0M219.7 611.0h0M182.2 565.8h0M222.4 595.0h0M254.2 571.9h0M185.7 595.5h0M222.9 592.5h0M227.1 549.2h0M222.6 566.4h0M242.6 580.5h0M228.8 572.3h0M204.9 542.1h0M203.6 581.3h0M215.3 558.1h0M192.6 554.1h0M191.6 606.3h0M212.1 612.7h0M245.4 563.1h0M192.6 558.8h0M209.1 585.8h0M227.0 605.0h0M240.0 544.4h0M208.0 601.8h0M195.3 605.5h0M232.6 586.0h0M251.7 565.2h0M232.4 589.0h0M225.4 599.3h0M215.3 562.2h0M251.5 558.0h0M225.6 611.6h0M213.9 606.4h0M207.1 589.7h0M204.8 566.1h0M193.6 557.7h0M239.3 587.3h0M206.9 570.9h0M236.4 550.5h0M216.3 572.6h0M246.1 566.6h0M205.5 558.1h0M216.5 541.9h0M212.8 560.1h0M246.2 565.2h0M180.1 580.4h0M221.4 601.1h0M206.8 569.8h0M202.3 602.1h0M243.9 550.4h0M232.8 593.8h0M210.0 604.9h0M179.1 561.3h0M191.5 584.5h0M216.6 568.8h0M208.8 600.7h0M220.6 607.9h0M193.8 580.9h0M207.7 576.6h0M178.8 583.1h0M211.7 554.5h0M231.0 558.9h0M188.8 545.2h0M213.6 588.4h0M217.1 541.0h0M232.2 588.0h0M248.6 585.4h0M225.2 576.9h0M223.2 558.0h0M255.1 558.5h0M215.1 552.2h0M193.0 549.6h0M231.9 599.3h0M195.0 555.8h0M239.9 587.4h0M200.5 582.0h0M191.2 589.0h0M208.0 556.2h0M229.3 597.7h0M207.5 612.4h0M236.3 568.6h0M207.8 537.1h0M246.6 542.2h0M190.9 561.8h0M241.9 569.9h0M217.7 566.1h0M212.4 551.1h0M237.1 595.7h0M207.1 567.5h0M212.0 608.8h0M214.4 579.8h0M182.6 569.7h0M192.5 544.4h0M226.6 589.7h0M175.8 569.3h0M223.0 564.7h0M215.7 561.4h0M212.6 559.1h0M189.2 593.5h0M208.2 594.0h0M213.8 597.5h0M238.7 544.5h0M198.9 603.9h0M184.4 560.1h0M242.9 584.3h0M206.6 565.0h0M248.3 554.3h0M191.8 555.6h0M193.5 595.4h0M209.6 535.3h0M228.0 576.9h0M227.0 542.6h0M230.1 548.0h0M223.5 598.8h0M254.1 563.5h0M195.7 542.4h0M238.4 552.1h0M190.8 548.0h0M210.6 573.8h0M233.6 595.2h0M225.5 557.2h0M206.7 583.6h0M202.3 576.6h0M193.0 567.0h0M195.9 568.7h0M204.5 594.0h0M189.6 586.3h0M189.3 545.6h0M226.1 568.2h0M210.6 607.6h0M222.7 551.4h0M190.6 559.7h0M197.0 571.3h0M233.0 588.6h0" stroke="#ffa500" stroke-opacity="0.4" stroke-width="3.8" stroke-linecap="round" fill="none"/>
<path d="M240.5 563.8h0M227.6 598.5h0M211.9 533.7h0M231.5 540.2h0M237.3 574.5h0M213.8 539.6h0M229.5 539.4h0M198.8 568.7h0M251.7 548.9h0M234.0 579.2h0M250.9 585.8h0M199.5 602.6h0M200.8 578.2h0M192.7 545.5h0M247.8 547.8h0M230.1 577.4h0M249.2 571.5h0M213.9 598.5h0M203.2 571.5h0M227.0 551.8h0M210.1 578.1h0M251.6 585.5h0M218.5 566.0h0M212.7 551.2h0M183.8 557.6h0M216.2 555.7h0M205.9 585.2h0M239.3 547.3h0M176.4 572.6h0M236.7 583.4h0M214.2 549.7h0M236.6 579.6h0M214.8 606.6h0M231.8 590.6h0M200.2 603.4h0M236.2 582.9h0M240.1 588.1h0M200.0 589.1h0M187.9 558.9h0M191.7 547.8h0M192.8 557.2h0M208.6 535.8h0M226.2 586.8h0M217.2 541.3h0M205.2 544.9h0M205.0 611.6h0M256.2 557.3h0M206.2 576.2h0M234.7 591.0h0M237.7 544.7h0M250.4 581.4h0M195.8 596.5h0M177.1 592.4h0M242.0 545.7h0M246.2 583.2h0M203.4 569.2h0M245.4 548.2h0M235.1 547.3h0M233.8 592.9h0M207.3 590.2h0M190.7 607.5h0M212.5 613.5h0M222.6 579.8h0M219.1 571.9h0M225.9 587.1h0M180.0 598.8h0M249.0 549.9h0M228.5 596.1h0M188.4 545.3h0M222.7 579.2h0M218.0 541.7h0M242.5 584.0h0M216.8 545.6h0M239.3 577.8h0M218.9 567.4h0M198.5 541.8h0M237.8 545.9h0M205.1 574.2h0M195.8 557.8h0M210.5 598.9h0M213.0 573.7h0M233.1 567.8h0M237.4 572.7h0M222.9 577.7h0M191.7 549.4h0M200.4 578.7h0M216.2 572.4h0M248.0 591.2h0M191.3 556.8h0M211.7 584.5h0M233.8 583.3h0M181.2 574.3h0M249.2 562.9h0M194.1 589.6h0M215.2 608.4h0M196.3 547.6h0M234.9 587.0h0M213.5 579.5h0M246.4 560.2h0M245.4 582.9h0M191.1 587.7h0M219.8 589.4h0M245.9 565.2h0M184.8 597.5h0M219.2 549.5h0M247.1 579.9h0M220.3 603.6h0M247.4 574.3h0M216.4 584.4h0M247.0 571.8h0M234.7 570.2h0M204.8 588.7h0M197.9 582.5h0M238.7 609.5h0M192.8 569.3h0M179.1 589.6h0M210.4 580.9h0M235.3 568.6h0M209.7 599.3h0M194.9 578.5h0M248.3 572.3h0M245.6 590.6h0M239.9 562.8h0M241.2 583.8h0M204.4 534.2h0M200.1 575.8h0M182.2 594.4h0M255.7 575.7h0M207.1 536.2h0M258.0 557.8h0M205.3 614.2h0M176.2 588.0h0M206.9 616.0h0M196.5 576.9h0M220.0 550.8h0M184.7 549.1h0M193.6 565.8h0M197.6 593.6h0M188.0 560.6h0M219.7 546.7h0M186.4 580.3h0M192.3 537.2h0M248.5 566.1h0M214.5 599.2h0M208.8 551.5h0M204.4 605.3h0M200.6 610.1h0M220.5 549.7h0M236.5 579.4h0M222.9 592.0h0M179.3 587.0h0M218.7 614.8h0M215.4 610.9h0M213.2 563.7h0M200.7 585.3h0M229.6 596.3h0M202.8 584.9h0M239.7 598.4h0M195.6 546.6h0M195.0 547.6h0M210.9 578.6h0M182.2 589.2h0M201.8 584.0h0M226.8 552.0h0M253.1 574.6h0M250.4 556.9h0M227.2 559.5h0M214.0 580.4h0M189.9 541.1h0M231.5 592.5h0M222.2 597.8h0M227.5 585.6h0M233.3 580.0h0M209.2 571.5h0M192.5 552.8h0M231.0 583.4h0M249.7 557.8h0M192.0 571.7h0M179.2 565.4h0M212.3 573.5h0M245.2 579.9h0M206.2 534.2h0M184.4 549.9h0M249.3 597.1h0M182.2 589.1h0M213.5 585.0h0M241.8 603.6h0M197.9 606.0h0M193.3 581.9h0M195.0 558.1h0M233.9 611.7h0M200.4 547.2h0M219.1 601.8h0M229.1 578.3h0M187.5 539.3h0M180.6 599.2h0M206.4 574.6h0M234.4 591.2h0M197.0 576.5h0M218.9 595.2h0M196.1 606.8h0M203.9 599.9h0M232.1 613.2h0M236.3 606.5h0M188.6 576.9h0M234.5 614.1h0M240.5 536.9h0M204.3 609.4h0M216.4 593.5h0M205.6 593.1h0M233.4 576.4h0M243.9 555.2h0M238.3 554.3h0M213.3 557.0h0M174.0 572.4h0M241.5 569.6h0M186.2 596.8h0" stroke="#ffa500" stroke-opacity="0.4" stroke-width="3.8" stroke-linecap="round" fill="none"/>
<path d="M195.0 542.4h0M236.7 557.1h0M251.2 554.2h0M246.8 574.1h0M201.6 612.4h0M182.0 564.4h0M188.4 583.6h0M227.7 574.6h0M244.2 596.5h0M225.1 612.8h0M223.6 602.9h0M213.4 548.4h0M250.5 568.0h0M225.3 543.4h0M256.6 550.0h0M187.2 565.2h0M246.6 591.4h0M181.3 563.9h0M179.9 582.9h0M239.2 584.8h0M223.8 603.4h0M186.2 565.1h0M242.8 583.1h0M236.8 536.6h0M252.3 545.5h0M211.8 572.9h0M224.5 594.2h0M184.3 544.8h0M209.1 597.4h0M240.5 566.3h0M233.8 534.9h0M194.6 561.9h0M247.5 567.1h0M232.7 601.9h0M223.2 587.7h0M249.4 544.5h0M201.1 600.6h0M232.5 594.9h0M247.4 566.2h0M222.2 569.8h0M207.1 536.6h0M251.3 580.0h0M243.4 537.3h0M184.4 603.3h0M211.5 561.7h0M226.4 565.1h0M193.0 606.9h0M194.6 566.9h0M226.4 614.8h0M248.4 542.6h0M239.7 554.5h0M230.8 575.4h0M226.8 596.6h0M199.1 606.7h0M209.9 595.5h0M228.7 593.7h0M237.6 599.5h0M198.9 559.0h0M187.3 584.7h0M191.8 590.5h0M176.7 592.8h0M205.5 557.8h0M231.6 583.8h0M207.7 612.5h0M226.3 589.5h0M239.0 545.1h0M176.1 572.2h0M212.4 582.8h0M210.5 533.7h0M198.1 589.2h0M220.7 596.9h0M244.1 543.5h0M205.0 604.8h0M248.7 581.8h0M198.5 591.5h0M209.0 550.0h0M202.6 566.2h0M190.7 593.9h0M188.3 568.8h0M191.7 541.6h0M248.7 595.2h0M205.0 607.3h0M218.9 541.0h0M179.8 554.0h0M222.7 586.4h0M233.7 551.1h0M241.6 580.7h0M225.8 582.9h0M226.5 557.7h0M211.8 558.7h0M204.0 589.1h0M238.6 605.4h0M193.1 560.8h0M252.3 560.9h0M192.7 561.4h0M246.3 539.3h0M208.4 553.2h0M238.3 538.2h0M242.6 554.6h0M221.2 610.9h0M244.1 569.4h0M237.2 560.7h0M237.8 594.6h0M223.2 573.3h0M227.1 566.5h0M208.2 544.1h0M257.1 556.6h0M249.6 574.6h0M230.7 571.6h0M213.7 569.1h0M202.3 584.1h0M195.7 544.7h0M193.3 568.9h0M222.4 590.3h0M188.8 586.0h0M231.9 583.7h0M193.8 576.5h0M182.3 592.0h0M210.7 576.0h0M221.4 612.6h0M187.5 539.5h0M226.0 575.6h0M247.8 551.7h0M255.1 541.0h0M189.6 573.0h0M198.3 590.4h0M185.5 595.2h0M233.5 569.6h0M217.5 589.6h0M222.2 575.0h0M215.7 571.8h0M186.0 581.8h0M202.1 548.5h0M254.2 565.8h0M214.6 614.6h0M253.4 581.1h0M210.2 607.9h0M183.9 592.3h0M230.4 537.7h0M202.8 580.0h0M253.2 573.7h0M227.6 584.1h0M199.4 540.1h0M242.7 550.7h0M186.9 568.9h0M202.7 597.8h0M185.5 593.5h0M193.2 581.2h0M189.8 551.3h0M248.4 565.6h0M202.8 597.7h0M186.5 565.4h0M233.3 609.9h0M221.5 540.1h0M242.4 535.8h0M178.8 581.6h0M253.4 565.3h0M202.9 563.2h0M238.7 609.3h0M194.7 604.6h0M190.4 543.4h0M210.6 601.0h0M215.4 606.5h0M201.4 545.8h0M231.0 565.4h0M231.5 601.3h0M199.8 550.4h0M229.3 568.9h0M197.3 578.1h0M217.8 596.1h0M206.9 602.1h0M252.8 554.2h0M239.5 573.5h0M236.4 579.2h0M209.9 611.4h0M182.8 572.8h0M199.0 586.0h0M181.5 584.2h0M207.6 535.1h0M201.3 535.4h0M232.9 563.8h0M248.3 593.8h0M219.7 572.1h0M235.7 555.1h0M229.6 610.7h0M242.0 604.7h0M174.8 570.0h0M200.4 558.0h0" stroke="#ffa500" stroke-opacity="0.4" stroke-width="3.8" stroke-linecap="round" fill="none"/>
<path d="M254.6 589.2h0M272.3 556.4h0M266.3 568.6h0M254.7 551.8h0M271.9 555.5h0M269.4 573.7h0M265.5 560.6h0M274.0 566.6h0M252.5 545.7h0M267.0 578.5h0M251.8 565.2h0M253.0 573.0h0M249.0 574.3h0M253.3 564.3h0M268.0 559.4h0M251.2 554.3h0M256.6 543.1h0M275.0 561.0h0M257.8 547.7h0M258.4 553.4h0M271.4 556.6h0M254.2 568.4h0M251.4 545.5h0M260.6 558.3h0M258.4 568.8h0M256.1 584.1h0M263.7 571.7h0M251.1 556.8h0M251.0 576.5h0M264.2 570.2h0M258.4 568.1h0M255.1 580.5h0M267.0 563.2h0M255.8 589.8h0M258.7 557.2h0M257.0 566.4h0M264.7 551.8h0M259.0 569.5h0M266.8 579.8h0M254.6 545.3h0" stroke="#ffa500" stroke-opacity="0.6" stroke-width="3.8" stroke-linecap="round" fill="none"/>
<path d="M266.6 559.5h0M272.0 566.5h0M258.9 566.0h0M271.2 580.5h0M269.8 560.8h0M255.6 553.8h0M267.6 548.6h0M261.3 565.4h0M265.0 548.4h0M265.3 569.2h0M263.6 567.8h0M265.5 571.8h0M252.7 582.7h0M266.4 558.0h0M266.0 565.9h0M260.0 547.5h0M260.7 548.9h0M262.9 579.7h0M261.7 561.2h0M271.5 563.9h0M251.2 555.3h0M273.8 557.0h0M264.0 554.9h0M264.3 562.7h0M255.5 548.2h0M261.9 562.9h0M267.9 561.4h0M267.0 548.9h0M253.0 551.0h0M268.2 568.3h0M267.2 559.9h0M266.8 558.6h0M255.8 575.8h0M259.6 550.9h0M257.6 577.3h0M269.9 571.5h0M255.9 557.6h0M251.3 541.6h0M256.9 565.1h0M258.8 548.4h0" stroke="#ffa500" stroke-opacity="0.6" stroke-width="3.8" stroke-linecap="round" fill="none"/>
<path d="M286.1 609.5h0M282.6 591.1h0M291.3 593.7h0M291.8 593.4h0" stroke="#ffa500" stroke-opacity="0.5" stroke-width="3.8" stroke-linecap="round" fill="none"/>
<path d="M207.7 533.9h0M203.1 540.0h0M203.3 539.1h0M201.8 542.0h0M191.5 544.1h0M192.3 544.0h0M191.5 543.0h0M193.7 555.4h0M195.6 554.1h0M194.8 555.6h0M200.6 559.9h0M199.8 559.4h0M202.1 560.8h0M200.7 559.3h0M180.3 563.3h0M179.2 562.9h0M178.6 565.4h0M183.0 564.9h0M183.8 569.6h0M185.3 570.1h0M184.5 571.1h0M182.8 569.4h0M176.3 576.7h0M177.1 577.0h0M177.7 575.5h0M178.2 578.5h0M181.5 587.1h0M179.7 589.3h0M180.5 586.8h0M181.6 587.6h0M183.2 587.2h0M189.1 587.7h0M189.3 586.5h0M198.4 586.7h0M198.4 585.7h0M198.0 587.4h0M202.8 585.4h0M207.6 586.7h0M210.4 587.0h0M194.4 606.4h0M192.6 605.7h0M193.2 604.6h0M193.1 605.4h0M193.2 605.6h0M202.5 601.2h0M202.2 600.5h0M202.1 601.2h0M207.0 608.3h0M208.3 607.7h0M210.1 608.7h0M215.8 602.9h0M212.0 601.4h0M214.4 601.0h0M222.6 606.4h0M221.8 603.9h0M222.1 602.7h0M223.5 602.8h0M215.4 595.1h0M216.2 591.2h0M216.1 595.5h0M223.9 592.9h0M224.6 591.4h0M225.2 592.9h0M223.4 594.1h0M224.7 594.2h0M216.4 581.3h0M215.4 580.2h0M215.3 584.0h0M215.3 578.5h0M215.0 581.8h0M210.1 581.3h0M209.7 581.0h0M208.5 580.7h0M208.6 581.2h0M200.0 570.7h0M198.2 569.9h0M197.7 569.6h0M198.0 566.9h0M200.8 571.6h0M200.8 574.2h0M200.2 574.5h0M203.5 574.9h0M200.7 575.2h0M204.9 576.0h0M206.2 574.8h0M208.2 567.9h0M209.9 568.4h0M207.8 569.6h0M208.6 566.8h0M211.7 573.5h0M211.0 572.9h0M211.6 573.5h0M211.8 571.4h0M211.0 572.5h0M214.5 561.6h0M213.9 564.0h0M214.5 562.1h0M212.9 562.0h0M219.4 569.8h0M215.1 552.1h0M216.2 550.7h0M215.1 551.9h0M217.7 553.5h0M215.6 553.5h0M223.0 556.0h0M225.6 555.8h0M225.2 556.2h0M225.1 555.0h0M227.0 562.1h0M225.8 561.5h0M226.0 560.6h0M227.7 565.7h0M229.4 565.4h0M229.4 564.7h0M225.1 566.8h0M228.0 566.7h0M228.3 566.3h0M226.9 565.0h0M227.5 564.9h0M226.9 569.9h0M229.3 573.0h0M227.1 569.6h0M226.0 570.3h0M232.2 569.3h0M231.4 570.0h0M229.9 568.8h0M234.2 553.5h0M234.4 552.1h0M239.2 545.4h0M239.2 546.8h0M240.7 547.7h0M243.6 550.1h0M243.9 547.2h0M244.3 557.3h0M247.4 554.1h0M244.5 556.0h0M247.3 554.2h0M245.5 558.2h0M244.0 555.3h0M247.6 568.1h0M247.8 569.4h0M249.4 569.1h0M249.3 568.3h0M248.4 566.7h0M250.1 577.4h0M246.9 577.4h0M248.3 577.6h0M246.4 575.2h0M245.9 576.0h0M243.9 583.8h0M242.3 583.2h0M243.3 583.7h0M243.4 581.6h0M244.6 583.4h0M239.2 578.1h0M238.8 578.0h0M237.0 580.0h0M232.7 578.3h0M221.4 582.5h0M224.2 584.7h0M222.8 585.5h0M223.9 586.6h0M223.9 585.8h0M230.2 612.3h0" stroke="#0000ff" stroke-opacity="0.5" stroke-width="3.8" stroke-linecap="round" fill="none"/>
<path d="M207.8 535.3h0M206.6 536.1h0M206.9 536.0h0M201.6 537.9h0M200.6 541.6h0M201.1 538.8h0M191.7 544.6h0M191.7 541.7h0M192.4 543.3h0M194.0 544.9h0M190.8 545.1h0M196.0 555.5h0M195.9 555.4h0M194.7 553.5h0M194.3 555.1h0M202.6 561.1h0M201.7 559.9h0M182.1 564.9h0M180.0 563.2h0M180.9 563.8h0M183.3 573.0h0M180.3 570.7h0M183.6 570.0h0M178.8 577.9h0M176.9 577.0h0M178.1 575.9h0M177.6 578.3h0M176.2 577.1h0M178.4 578.3h0M176.9 577.5h0M177.9 576.6h0M177.7 575.9h0M181.0 588.1h0M181.3 588.3h0M180.4 588.2h0M180.4 589.4h0M191.3 586.5h0M190.3 587.6h0M188.2 587.5h0M190.0 587.0h0M188.6 587.7h0M197.3 587.1h0M198.3 587.6h0M197.6 588.0h0M196.7 587.6h0M198.2 587.1h0M197.8 587.0h0M203.7 586.9h0M201.8 588.5h0M204.0 585.3h0M202.9 586.5h0M203.0 587.4h0M203.7 586.3h0M207.1 587.0h0M210.4 588.0h0M193.8 606.4h0M194.1 605.6h0M194.0 606.2h0M193.0 605.4h0M192.5 604.7h0M194.8 603.9h0M200.7 600.3h0M202.1 601.2h0M202.2 600.5h0M207.1 608.6h0M206.7 611.3h0M207.0 610.5h0M213.1 605.4h0M213.9 602.8h0M213.0 603.8h0M210.9 603.3h0M220.0 606.3h0M221.1 605.0h0M221.2 603.1h0M217.1 593.0h0M215.9 593.1h0M216.0 592.2h0M217.1 593.2h0M215.8 594.4h0M224.5 593.0h0M224.1 593.3h0M217.3 579.8h0M214.6 582.7h0M207.9 581.9h0M210.2 581.0h0M211.1 583.2h0M210.8 581.7h0M198.1 568.4h0M199.7 571.4h0M198.7 567.4h0M200.8 577.0h0M199.0 573.9h0M197.4 575.2h0M198.2 575.7h0M199.3 571.5h0M204.1 576.4h0M204.7 575.2h0M203.0 575.0h0M205.4 574.7h0M207.2 566.9h0M207.5 565.6h0M206.7 566.2h0M206.9 568.1h0M209.0 567.3h0M212.8 563.6h0M214.3 562.6h0M211.6 562.9h0M212.6 562.7h0M218.9 569.6h0M217.4 570.4h0M219.2 570.2h0M216.5 567.7h0M216.9 551.6h0M224.0 555.2h0M223.7 555.8h0M224.2 556.4h0M224.7 555.7h0M224.7 562.5h0M226.9 557.3h0M227.0 561.4h0M225.6 562.0h0M225.3 559.4h0M230.1 564.0h0M228.2 564.6h0M227.3 564.4h0M226.9 571.5h0M226.2 571.3h0M227.9 570.2h0M225.8 570.0h0M228.1 569.2h0M227.9 569.8h0M230.8 569.8h0M231.3 570.5h0M233.9 552.8h0M235.3 552.5h0M232.4 550.2h0M231.5 553.3h0M234.2 539.3h0M235.3 541.7h0M236.4 539.7h0M235.9 540.8h0M240.3 543.7h0M240.2 545.0h0M243.4 550.5h0M242.1 548.5h0M244.5 550.2h0M243.1 549.4h0M242.5 549.3h0M242.5 548.0h0M245.5 555.0h0M247.4 553.6h0M246.9 554.7h0M245.5 555.9h0M245.0 555.9h0M245.4 555.3h0M243.2 557.2h0M244.5 556.7h0M243.9 557.4h0M242.9 555.4h0M249.9 567.8h0M250.6 570.7h0M249.8 568.9h0M249.3 566.0h0M245.5 575.6h0M246.6 576.0h0M246.8 576.2h0M242.8 582.3h0M237.0 578.8h0M239.3 578.6h0M238.2 580.7h0M239.1 578.1h0M237.8 577.5h0M237.7 579.1h0M230.7 578.9h0M230.7 577.8h0M230.9 579.4h0M222.8 583.6h0M224.7 586.5h0M224.0 585.3h0M237.5 596.4h0M236.2 596.2h0M239.0 598.0h0M237.1 596.3h0M238.1 597.6h0M230.0 611.5h0M229.2 612.8h0M229.7 612.9h0M231.9 611.1h0" stroke="#0000ff" stroke-opacity="0.5" stroke-width="3.8" stroke-linecap="round" fill="none"/>
<path d="M207.5 535.8h0M208.7 534.5h0M200.1 539.4h0M201.6 540.5h0M201.3 541.1h0M202.1 540.2h0M201.0 543.2h0M191.6 544.0h0M192.8 542.5h0M194.3 553.6h0M195.6 555.1h0M193.1 555.2h0M199.5 560.4h0M199.7 559.4h0M200.7 561.1h0M201.0 561.3h0M201.1 559.9h0M202.0 559.1h0M181.9 566.2h0M186.2 572.3h0M183.6 570.7h0M178.6 577.1h0M177.0 576.6h0M177.6 577.5h0M177.4 577.7h0M178.4 577.0h0M178.2 587.3h0M180.5 587.7h0M190.7 588.0h0M190.8 586.8h0M190.1 588.1h0M190.5 588.4h0M198.1 586.1h0M197.5 587.5h0M197.7 586.4h0M198.1 587.8h0M198.3 587.3h0M198.3 586.3h0M202.9 586.7h0M203.4 587.5h0M203.5 587.4h0M202.4 586.1h0M209.0 587.7h0M208.2 588.0h0M207.7 586.6h0M210.9 587.4h0M206.3 587.9h0M192.6 606.9h0M193.1 604.2h0M193.0 606.1h0M202.4 601.3h0M201.6 600.6h0M201.7 600.0h0M203.0 600.6h0M202.0 600.8h0M201.8 601.0h0M209.1 611.0h0M207.2 610.6h0M207.9 610.7h0M207.7 611.6h0M208.3 611.6h0M206.7 611.1h0M215.0 603.4h0M213.0 602.9h0M210.2 601.4h0M213.6 601.3h0M222.6 605.8h0M221.9 603.2h0M222.8 604.2h0M223.7 605.3h0M222.3 602.9h0M217.3 593.6h0M217.4 592.9h0M216.0 594.2h0M218.4 593.2h0M223.6 592.4h0M214.6 581.6h0M211.4 581.6h0M208.1 581.4h0M198.8 571.3h0M199.6 567.7h0M199.3 568.2h0M199.3 568.8h0M199.6 569.0h0M198.2 570.8h0M198.3 570.6h0M199.7 574.9h0M198.9 574.6h0M198.6 572.2h0M198.8 571.7h0M204.2 576.1h0M202.9 575.5h0M202.6 575.0h0M208.3 566.0h0M209.3 568.1h0M207.9 566.3h0M207.3 569.1h0M207.9 566.9h0M206.9 568.0h0M207.8 567.7h0M211.5 572.5h0M211.5 571.8h0M215.2 563.8h0M213.0 562.9h0M213.8 562.4h0M218.8 569.9h0M220.3 569.3h0M218.8 569.5h0M214.7 551.4h0M214.0 550.5h0M214.5 552.7h0M215.7 552.4h0M222.3 555.8h0M222.8 556.1h0M224.4 554.4h0M223.7 555.7h0M223.7 555.3h0M223.7 554.8h0M227.8 559.2h0M226.3 558.3h0M226.0 557.7h0M229.3 564.1h0M228.0 565.1h0M229.0 565.4h0M226.4 571.1h0M228.8 571.8h0M227.4 571.5h0M227.0 571.1h0M232.3 569.9h0M232.5 569.6h0M232.9 551.5h0M234.1 540.2h0M237.7 542.2h0M234.4 539.9h0M237.4 541.6h0M235.2 541.3h0M235.8 539.7h0M235.8 540.6h0M237.6 546.5h0M240.7 545.9h0M238.4 546.9h0M244.4 550.0h0M242.5 549.6h0M242.9 547.7h0M244.9 549.9h0M242.2 549.5h0M242.9 549.1h0M243.5 551.6h0M245.6 554.3h0M243.9 558.1h0M243.0 557.1h0M248.4 569.5h0M248.3 569.2h0M250.8 569.6h0M249.1 568.2h0M247.6 575.9h0M249.2 577.1h0M249.4 576.4h0M248.4 577.8h0M242.6 582.2h0M242.7 583.1h0M244.5 583.5h0M243.3 584.4h0M239.7 580.4h0M238.9 578.3h0M238.8 578.0h0M230.7 577.7h0M230.7 578.7h0M229.5 577.8h0M232.0 578.8h0M229.8 576.0h0M230.0 578.8h0M225.8 587.0h0M224.5 583.7h0M226.4 586.7h0M225.1 585.1h0M236.7 597.1h0M236.2 596.9h0M237.5 597.4h0M239.0 598.4h0M237.7 596.9h0M236.7 596.2h0M231.2 613.9h0M231.5 611.5h0M230.5 612.8h0M231.6 614.5h0M230.5 609.7h0" stroke="#0000ff" stroke-opacity="0.5" stroke-width="3.8" stroke-linecap="round" fill="none"/>
<path d="M207.0 534.9h0M206.4 535.3h0M207.3 535.0h0M208.2 536.0h0M208.1 535.5h0M207.0 536.8h0M200.8 542.1h0M201.0 540.1h0M201.2 541.1h0M191.3 543.2h0M191.2 543.1h0M191.9 543.1h0M192.9 542.8h0M194.2 554.6h0M195.4 554.7h0M193.9 555.0h0M201.3 561.1h0M200.7 559.4h0M201.7 560.0h0M201.3 559.8h0M201.7 559.7h0M200.5 559.6h0M181.0 562.3h0M181.6 566.2h0M183.5 570.8h0M176.6 574.1h0M177.9 578.7h0M178.6 577.8h0M181.7 588.5h0M182.1 587.5h0M180.7 587.7h0M179.5 587.0h0M182.8 586.9h0M180.7 587.4h0M191.6 589.1h0M188.9 587.6h0M191.3 586.4h0M190.1 586.9h0M198.8 585.7h0M198.3 587.2h0M197.2 586.9h0M197.4 587.6h0M196.9 586.5h0M199.7 586.9h0M203.3 586.7h0M203.0 588.2h0M209.6 587.6h0M208.4 587.7h0M193.6 606.1h0M193.3 603.9h0M193.1 606.5h0M203.4 601.9h0M202.6 602.0h0M209.3 609.9h0M209.7 610.6h0M210.2 611.4h0M207.7 609.7h0M213.4 601.8h0M213.4 602.0h0M214.3 601.1h0M221.4 602.4h0M222.6 603.9h0M221.4 603.2h0M222.8 604.6h0M215.5 595.8h0M225.2 593.7h0M223.8 594.8h0M221.6 593.7h0M223.9 594.3h0M215.4 582.4h0M216.1 580.6h0M216.3 581.2h0M216.5 580.0h0M216.2 578.7h0M211.1 582.3h0M209.7 580.7h0M209.7 582.8h0M209.0 582.5h0M209.2 581.4h0M198.2 568.7h0M198.5 569.4h0M199.6 569.3h0M199.3 570.7h0M198.8 575.7h0M199.4 574.8h0M200.5 573.9h0M203.9 574.6h0M204.2 576.0h0M202.9 576.1h0M208.6 567.9h0M207.5 567.2h0M207.6 566.6h0M210.0 568.6h0M211.5 570.6h0M211.3 572.5h0M211.7 573.3h0M212.5 571.0h0M211.2 573.4h0M212.5 570.9h0M211.3 572.6h0M212.1 563.4h0M213.3 562.6h0M213.1 562.6h0M210.5 562.6h0M218.9 570.8h0M220.7 568.1h0M218.8 568.4h0M217.3 568.7h0M219.5 569.8h0M213.4 551.6h0M215.9 550.1h0M224.1 554.8h0M225.3 554.0h0M224.5 553.1h0M224.7 555.4h0M227.5 561.5h0M225.4 561.9h0M229.2 565.5h0M228.5 564.2h0M230.8 565.3h0M229.0 562.9h0M228.0 564.9h0M227.9 572.0h0M228.7 571.4h0M228.0 571.7h0M226.8 568.7h0M227.1 571.4h0M231.9 570.2h0M232.9 551.2h0M232.7 550.8h0M234.1 553.4h0M232.6 550.6h0M233.3 551.2h0M232.3 552.3h0M231.6 551.7h0M237.1 540.9h0M239.9 544.8h0M240.7 546.6h0M238.3 545.1h0M239.7 546.3h0M243.2 548.9h0M245.0 549.8h0M243.7 550.5h0M241.8 547.0h0M245.1 554.6h0M246.7 554.5h0M244.0 555.4h0M248.7 554.5h0M245.3 556.1h0M244.9 559.1h0M243.5 557.5h0M243.6 555.7h0M244.3 556.8h0M251.1 569.1h0M247.8 570.3h0M243.2 583.1h0M238.9 579.1h0M238.6 581.2h0M236.6 578.1h0M231.5 577.7h0M230.8 579.3h0M231.3 579.2h0M230.6 579.3h0M223.0 584.0h0M222.2 584.0h0M236.6 597.3h0M238.4 597.9h0M236.5 596.2h0M238.8 598.0h0M238.2 597.6h0M235.7 595.5h0M237.2 596.2h0M238.9 597.8h0M229.0 611.7h0M231.7 611.4h0M230.8 612.6h0M230.7 613.3h0M231.2 611.4h0" stroke="#0000ff" stroke-opacity="0.5" stroke-width="3.8" stroke-linecap="round" fill="none"/>
<path d="M206.4 534.6h0M207.2 534.5h0M207.2 535.5h0M201.9 540.5h0M201.4 538.6h0M201.9 540.3h0M195.4 555.3h0M194.9 554.6h0M195.2 555.4h0M201.2 560.6h0M200.9 559.9h0M199.5 558.9h0M201.3 560.4h0M180.7 563.1h0M183.6 565.3h0M180.5 564.3h0M179.2 563.8h0M180.9 562.2h0M180.5 564.6h0M186.0 571.7h0M183.5 569.4h0M182.5 571.0h0M182.7 571.3h0M186.6 569.2h0M175.8 575.4h0M176.5 576.3h0M180.6 589.6h0M189.3 587.8h0M189.3 587.2h0M189.7 586.6h0M189.2 587.3h0M191.1 588.5h0M191.2 587.7h0M196.5 586.9h0M203.5 586.3h0M206.2 586.9h0M207.7 586.7h0M206.1 585.9h0M211.1 586.7h0M206.8 586.4h0M193.6 605.7h0M193.9 603.1h0M191.6 606.6h0M202.7 602.6h0M202.8 600.2h0M202.3 601.2h0M209.0 610.2h0M207.2 608.4h0M206.4 611.1h0M222.8 606.7h0M223.3 605.4h0M221.5 604.2h0M221.7 603.2h0M221.2 605.5h0M222.9 608.8h0M217.4 594.6h0M217.9 593.3h0M216.8 595.0h0M223.8 592.6h0M223.4 595.0h0M225.1 592.2h0M216.2 582.9h0M216.3 580.9h0M216.3 581.5h0M217.7 582.6h0M215.6 582.3h0M209.3 581.0h0M209.2 581.8h0M209.9 580.4h0M210.6 583.5h0M210.3 583.0h0M197.5 568.1h0M200.0 569.4h0M198.7 568.4h0M197.8 573.9h0M199.8 576.4h0M198.6 573.3h0M200.5 573.3h0M201.6 575.2h0M203.4 574.8h0M208.1 567.2h0M208.6 567.1h0M211.6 572.9h0M212.6 573.9h0M212.2 571.7h0M211.8 571.7h0M211.2 573.4h0M211.5 571.5h0M213.7 563.5h0M213.6 562.1h0M213.4 563.0h0M212.7 563.0h0M214.9 563.3h0M212.3 561.9h0M218.4 569.7h0M218.5 570.6h0M218.4 569.1h0M221.4 569.7h0M215.5 569.3h0M216.1 552.7h0M214.7 551.4h0M215.8 552.2h0M216.0 554.6h0M222.5 557.3h0M227.4 559.1h0M225.4 560.3h0M226.3 562.2h0M226.5 562.0h0M229.9 566.5h0M229.8 564.5h0M226.2 568.6h0M231.4 570.0h0M231.7 569.4h0M231.4 566.8h0M231.4 569.8h0M231.6 569.0h0M230.6 569.9h0M233.3 551.7h0M231.8 552.0h0M234.2 550.8h0M237.5 540.7h0M236.8 541.7h0M235.8 541.6h0M235.2 539.5h0M238.5 545.5h0M238.6 543.9h0M244.2 547.6h0M243.4 547.4h0M243.6 551.2h0M246.9 555.4h0M245.1 554.6h0M245.2 556.3h0M246.3 554.2h0M243.7 556.4h0M245.3 556.8h0M242.8 556.3h0M250.6 568.2h0M250.8 570.3h0M246.9 567.4h0M246.5 568.1h0M248.7 567.9h0M247.9 568.7h0M248.9 576.0h0M247.7 575.6h0M247.7 576.7h0M247.0 575.8h0M241.9 582.7h0M243.6 583.3h0M243.3 582.7h0M239.3 576.4h0M238.1 578.0h0M236.3 578.1h0M231.3 577.7h0M231.0 577.1h0M232.6 579.5h0M229.8 579.1h0M230.2 581.1h0M230.0 579.1h0M230.8 579.5h0M223.6 586.2h0M224.0 586.4h0M236.4 596.5h0M237.0 594.9h0M236.8 597.6h0M238.5 597.3h0M230.3 609.9h0M229.6 609.7h0M230.5 611.5h0" stroke="#0000ff" stroke-opacity="0.5" stroke-width="3.8" stroke-linecap="round" fill="none"/>
<path d="M229.1 556.6h0M232.2 598.4h0M238.9 560.3h0M210.7 554.8h0M234.2 543.6h0M202.3 541.3h0M198.2 609.1h0M204.4 606.1h0M256.9 559.3h0M194.8 599.4h0M230.9 582.2h0M231.3 569.7h0M194.1 596.5h0M199.4 575.9h0M229.1 563.6h0M252.8 544.0h0M246.3 594.7h0M182.4 557.4h0M232.6 579.9h0M234.5 572.7h0M239.5 596.5h0M205.7 588.0h0M229.9 570.9h0M190.9 564.5h0M220.8 584.9h0M189.6 581.2h0M212.9 611.7h0M250.8 545.0h0M236.6 589.8h0M206.1 583.0h0M231.5 596.8h0M251.8 580.0h0M251.8 567.9h0M217.4 592.1h0M198.3 552.2h0M210.8 603.5h0M222.7 565.7h0M187.7 572.7h0M181.9 552.9h0M227.9 539.6h0" stroke="#0000ff" stroke-opacity="0.35" stroke-width="3.8" stroke-linecap="round" fill="none"/>
<path d="M238.8 619.1h0" stroke="#0000ff" stroke-opacity="0.95" stroke-width="3.8" stroke-linecap="round" fill="none"/>
<rect x="156.3" y="466.1" width="389.9" height="290.4" fill="none" stroke="#3c3c3c" stroke-width="1.25"/>
<path d="M192.4 756.5v4.0M272.7 756.5v4.0M353 756.5v4.0M433.3 756.5v4.0M513.6 756.5v4.0" stroke="#111" stroke-width="1.05" fill="none"/>
<path d="M156.3 720.6h-4.0M156.3 680.4h-4.0M156.3 640.2h-4.0M156.3 600h-4.0M156.3 559.8h-4.0M156.3 519.6h-4.0M156.3 479.4h-4.0" stroke="#111" stroke-width="1.05" fill="none"/>
<text x="192.9" y="772.6" font-size="10.88" text-anchor="middle">−15</text>
<text x="273.2" y="772.6" font-size="10.88" text-anchor="middle">−10</text>
<text x="353.5" y="772.6" font-size="10.88" text-anchor="middle">−5</text>
<text x="433.8" y="772.6" font-size="10.88" text-anchor="middle">0</text>
<text x="514.1" y="772.6" font-size="10.88" text-anchor="middle">5</text>
<text x="148.9" y="724.7" font-size="10.88" text-anchor="end">−5.0</text>
<text x="148.9" y="684.5" font-size="10.88" text-anchor="end">−2.5</text>
<text x="148.9" y="644.3" font-size="10.88" text-anchor="end">0.0</text>
<text x="148.9" y="604.1" font-size="10.88" text-anchor="end">2.5</text>
<text x="148.9" y="563.9" font-size="10.88" text-anchor="end">5.0</text>
<text x="148.9" y="523.7" font-size="10.88" text-anchor="end">7.5</text>
<text x="148.9" y="483.5" font-size="10.88" text-anchor="end">10.0</text>
<text x="351.2" y="459.6" font-size="13.13" text-anchor="middle">UMAP representation of the variants tested in the three experiments</text>
<text x="351.2" y="787.6" font-size="10.88" text-anchor="middle">UMAP dimension 1</text>
<text transform="translate(118.6 611.3) rotate(-90)" font-size="10.88" text-anchor="middle">UMAP dimension 2</text>
<rect x="161.5" y="699.6" width="112.4" height="51.7" rx="2" fill="#fff" fill-opacity="0.8" stroke="#ccc" stroke-width="0.9"/>
<circle cx="176.4" cy="709.6" r="2.15" fill="#008000" fill-opacity="0.4"/>
<text x="196.7" y="712.5" font-size="10.88" text-anchor="start">experiment 3</text>
<circle cx="176.4" cy="725.6" r="2.15" fill="#ffa500" fill-opacity="0.4"/>
<text x="196.7" y="728.5" font-size="10.88" text-anchor="start">experiment 2</text>
<circle cx="176.4" cy="741.7" r="2.15" fill="#0000ff" fill-opacity="0.4"/>
<text x="196.7" y="744.6" font-size="10.88" text-anchor="start">experiment 1</text>
</svg>
</body></html>
